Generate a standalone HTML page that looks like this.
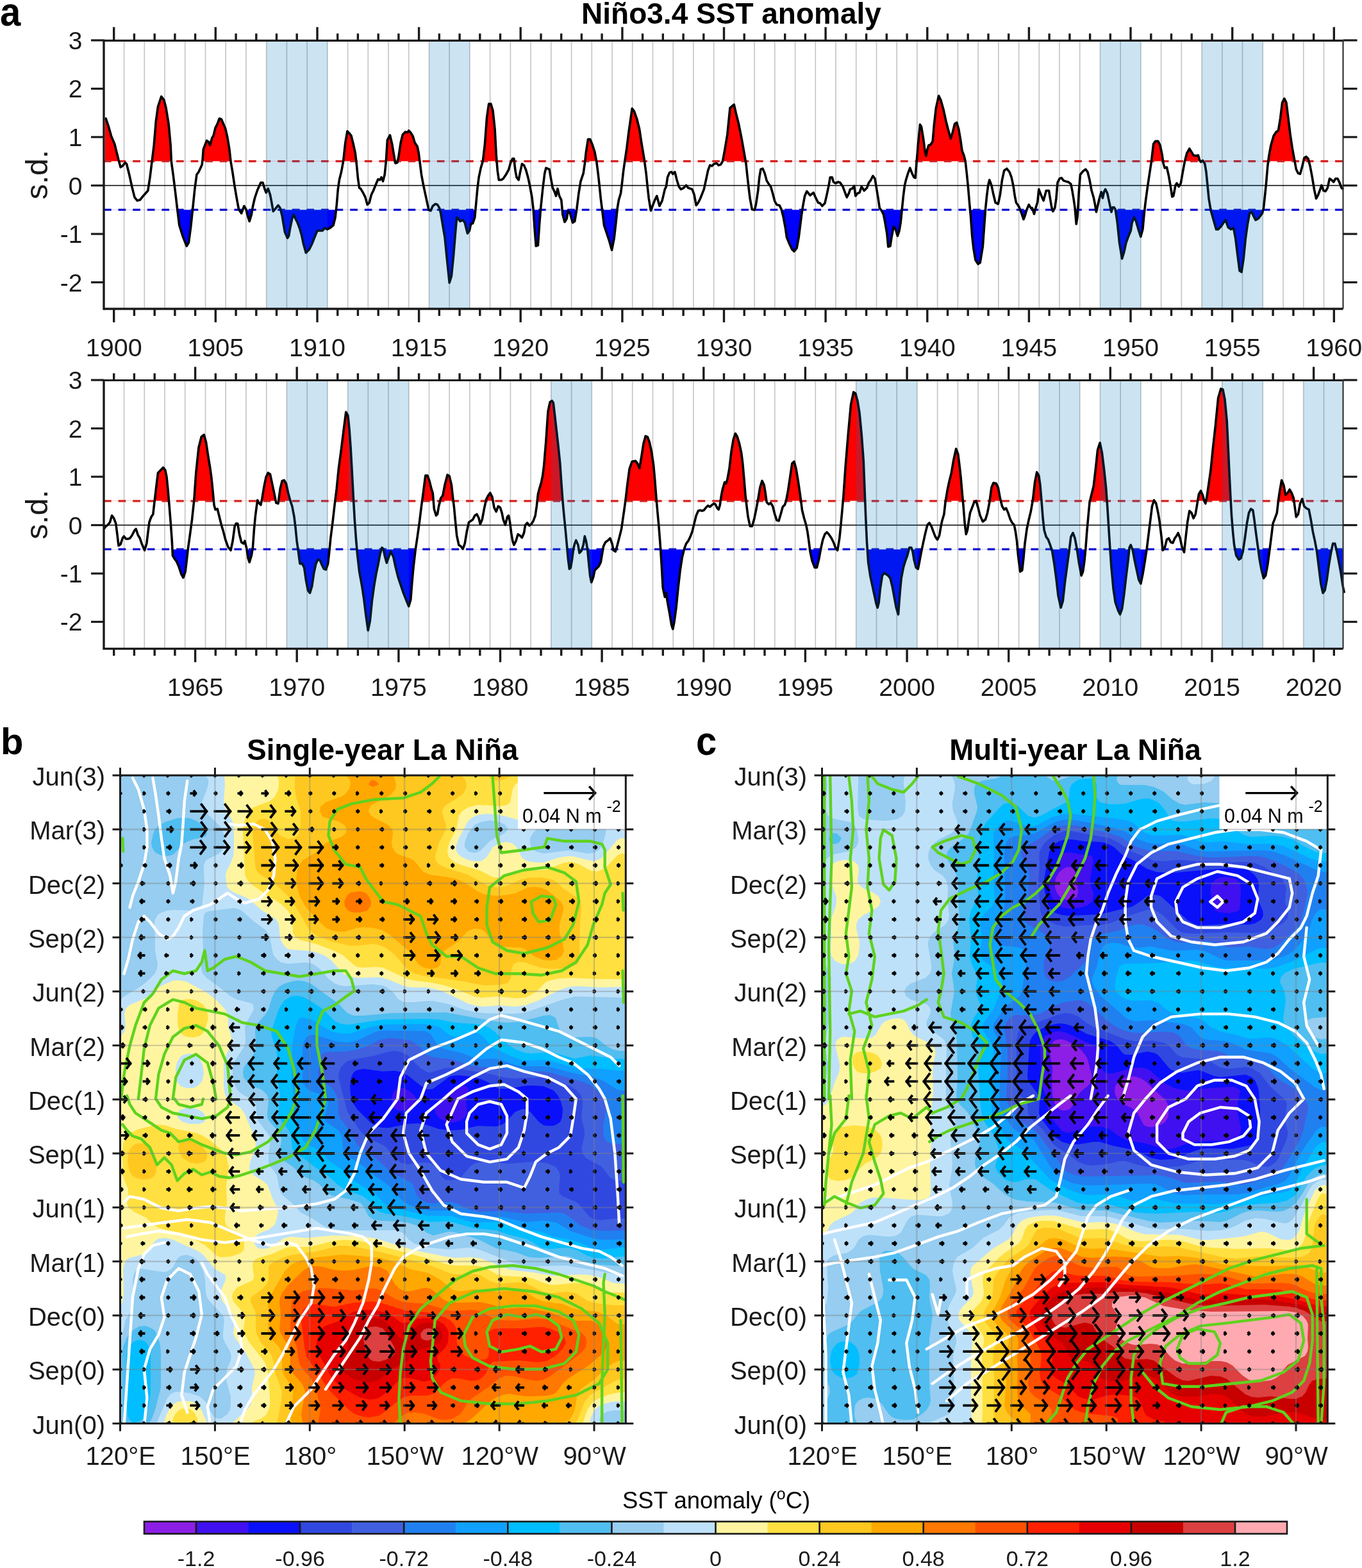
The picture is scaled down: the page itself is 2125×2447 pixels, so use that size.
<!DOCTYPE html><html><head><meta charset="utf-8"><style>html,body{margin:0;padding:0;background:#fff;}svg{display:block;}</style></head><body><svg xmlns="http://www.w3.org/2000/svg" width="2125" height="2447" viewBox="0 0 2125 2447" font-family="Liberation Sans, Arial, sans-serif" fill="#1a1a1a"><rect width="2125" height="2447" fill="#fff"/>
<rect x="162.0" y="63.3" width="1933.5" height="418.7" fill="#fff"/>
<line x1="193.6" y1="63.3" x2="193.6" y2="482" stroke="#c4c4c4" stroke-width="1.6" />
<line x1="225.3" y1="63.3" x2="225.3" y2="482" stroke="#c4c4c4" stroke-width="1.6" />
<line x1="257" y1="63.3" x2="257" y2="482" stroke="#c4c4c4" stroke-width="1.6" />
<line x1="288.7" y1="63.3" x2="288.7" y2="482" stroke="#c4c4c4" stroke-width="1.6" />
<line x1="320.5" y1="63.3" x2="320.5" y2="482" stroke="#c4c4c4" stroke-width="1.6" />
<line x1="352.2" y1="63.3" x2="352.2" y2="482" stroke="#c4c4c4" stroke-width="1.6" />
<line x1="383.9" y1="63.3" x2="383.9" y2="482" stroke="#c4c4c4" stroke-width="1.6" />
<line x1="415.7" y1="63.3" x2="415.7" y2="482" stroke="#c4c4c4" stroke-width="1.6" />
<line x1="447.4" y1="63.3" x2="447.4" y2="482" stroke="#c4c4c4" stroke-width="1.6" />
<line x1="479.1" y1="63.3" x2="479.1" y2="482" stroke="#c4c4c4" stroke-width="1.6" />
<line x1="510.8" y1="63.3" x2="510.8" y2="482" stroke="#c4c4c4" stroke-width="1.6" />
<line x1="542.6" y1="63.3" x2="542.6" y2="482" stroke="#c4c4c4" stroke-width="1.6" />
<line x1="574.3" y1="63.3" x2="574.3" y2="482" stroke="#c4c4c4" stroke-width="1.6" />
<line x1="606" y1="63.3" x2="606" y2="482" stroke="#c4c4c4" stroke-width="1.6" />
<line x1="637.7" y1="63.3" x2="637.7" y2="482" stroke="#c4c4c4" stroke-width="1.6" />
<line x1="669.5" y1="63.3" x2="669.5" y2="482" stroke="#c4c4c4" stroke-width="1.6" />
<line x1="701.2" y1="63.3" x2="701.2" y2="482" stroke="#c4c4c4" stroke-width="1.6" />
<line x1="732.9" y1="63.3" x2="732.9" y2="482" stroke="#c4c4c4" stroke-width="1.6" />
<line x1="764.6" y1="63.3" x2="764.6" y2="482" stroke="#c4c4c4" stroke-width="1.6" />
<line x1="796.4" y1="63.3" x2="796.4" y2="482" stroke="#c4c4c4" stroke-width="1.6" />
<line x1="828.1" y1="63.3" x2="828.1" y2="482" stroke="#c4c4c4" stroke-width="1.6" />
<line x1="859.8" y1="63.3" x2="859.8" y2="482" stroke="#c4c4c4" stroke-width="1.6" />
<line x1="891.6" y1="63.3" x2="891.6" y2="482" stroke="#c4c4c4" stroke-width="1.6" />
<line x1="923.3" y1="63.3" x2="923.3" y2="482" stroke="#c4c4c4" stroke-width="1.6" />
<line x1="955" y1="63.3" x2="955" y2="482" stroke="#c4c4c4" stroke-width="1.6" />
<line x1="986.7" y1="63.3" x2="986.7" y2="482" stroke="#c4c4c4" stroke-width="1.6" />
<line x1="1018.5" y1="63.3" x2="1018.5" y2="482" stroke="#c4c4c4" stroke-width="1.6" />
<line x1="1050.2" y1="63.3" x2="1050.2" y2="482" stroke="#c4c4c4" stroke-width="1.6" />
<line x1="1081.9" y1="63.3" x2="1081.9" y2="482" stroke="#c4c4c4" stroke-width="1.6" />
<line x1="1113.6" y1="63.3" x2="1113.6" y2="482" stroke="#c4c4c4" stroke-width="1.6" />
<line x1="1145.4" y1="63.3" x2="1145.4" y2="482" stroke="#c4c4c4" stroke-width="1.6" />
<line x1="1177.1" y1="63.3" x2="1177.1" y2="482" stroke="#c4c4c4" stroke-width="1.6" />
<line x1="1208.8" y1="63.3" x2="1208.8" y2="482" stroke="#c4c4c4" stroke-width="1.6" />
<line x1="1240.6" y1="63.3" x2="1240.6" y2="482" stroke="#c4c4c4" stroke-width="1.6" />
<line x1="1272.3" y1="63.3" x2="1272.3" y2="482" stroke="#c4c4c4" stroke-width="1.6" />
<line x1="1304" y1="63.3" x2="1304" y2="482" stroke="#c4c4c4" stroke-width="1.6" />
<line x1="1335.7" y1="63.3" x2="1335.7" y2="482" stroke="#c4c4c4" stroke-width="1.6" />
<line x1="1367.5" y1="63.3" x2="1367.5" y2="482" stroke="#c4c4c4" stroke-width="1.6" />
<line x1="1399.2" y1="63.3" x2="1399.2" y2="482" stroke="#c4c4c4" stroke-width="1.6" />
<line x1="1430.9" y1="63.3" x2="1430.9" y2="482" stroke="#c4c4c4" stroke-width="1.6" />
<line x1="1462.6" y1="63.3" x2="1462.6" y2="482" stroke="#c4c4c4" stroke-width="1.6" />
<line x1="1494.4" y1="63.3" x2="1494.4" y2="482" stroke="#c4c4c4" stroke-width="1.6" />
<line x1="1526.1" y1="63.3" x2="1526.1" y2="482" stroke="#c4c4c4" stroke-width="1.6" />
<line x1="1557.8" y1="63.3" x2="1557.8" y2="482" stroke="#c4c4c4" stroke-width="1.6" />
<line x1="1589.6" y1="63.3" x2="1589.6" y2="482" stroke="#c4c4c4" stroke-width="1.6" />
<line x1="1621.3" y1="63.3" x2="1621.3" y2="482" stroke="#c4c4c4" stroke-width="1.6" />
<line x1="1653" y1="63.3" x2="1653" y2="482" stroke="#c4c4c4" stroke-width="1.6" />
<line x1="1684.7" y1="63.3" x2="1684.7" y2="482" stroke="#c4c4c4" stroke-width="1.6" />
<line x1="1716.5" y1="63.3" x2="1716.5" y2="482" stroke="#c4c4c4" stroke-width="1.6" />
<line x1="1748.2" y1="63.3" x2="1748.2" y2="482" stroke="#c4c4c4" stroke-width="1.6" />
<line x1="1779.9" y1="63.3" x2="1779.9" y2="482" stroke="#c4c4c4" stroke-width="1.6" />
<line x1="1811.6" y1="63.3" x2="1811.6" y2="482" stroke="#c4c4c4" stroke-width="1.6" />
<line x1="1843.4" y1="63.3" x2="1843.4" y2="482" stroke="#c4c4c4" stroke-width="1.6" />
<line x1="1875.1" y1="63.3" x2="1875.1" y2="482" stroke="#c4c4c4" stroke-width="1.6" />
<line x1="1906.8" y1="63.3" x2="1906.8" y2="482" stroke="#c4c4c4" stroke-width="1.6" />
<line x1="1938.5" y1="63.3" x2="1938.5" y2="482" stroke="#c4c4c4" stroke-width="1.6" />
<line x1="1970.3" y1="63.3" x2="1970.3" y2="482" stroke="#c4c4c4" stroke-width="1.6" />
<line x1="2002" y1="63.3" x2="2002" y2="482" stroke="#c4c4c4" stroke-width="1.6" />
<line x1="2033.7" y1="63.3" x2="2033.7" y2="482" stroke="#c4c4c4" stroke-width="1.6" />
<line x1="2065.5" y1="63.3" x2="2065.5" y2="482" stroke="#c4c4c4" stroke-width="1.6" />
<clipPath id="crt"><rect x="162.0" y="63.3" width="1933.5" height="188.425"/></clipPath>
<clipPath id="cbt"><rect x="162.0" y="327.275" width="1933.5" height="154.72500000000002"/></clipPath>
<polygon clip-path="url(#crt)" fill="#ff0000" points="163.8,251.7 163.8,185 165.2,185 169.4,197.5 173.5,212.1 178.8,224.6 181.9,237.1 185,249.6 188.1,261 191.2,259 195.4,253.8 197.5,255.8 201.7,272.5 205.8,291.2 210,307.9 214.2,313.1 218.3,312.1 222.5,306.9 230.8,297.5 234,276.7 237.1,251.7 240.2,226.7 243.3,189.2 246.5,166.2 251.7,150.6 255.8,155.8 259,168.3 263.1,193.3 266.2,226.7 267.3,251.7 270.4,274.6 273.5,299.6 276.7,326.7 279.8,351.7 285,368.3 291.2,384 294.4,378.8 297.5,355.8 300.6,326.7 303.8,295.4 306.9,272.5 310,268.3 315.2,256.9 316.2,247.5 317.3,232.9 322.5,219.4 325.6,221.5 327.7,226.7 330.8,215.2 332.9,212.1 336,199.6 339.2,193.3 342.3,185 345.4,186 348.5,193.3 351.7,200.6 354.8,214.2 357.9,232.9 360,251.7 363.1,270.4 366.2,291.2 369.4,310 372.5,326.7 376.7,332.9 380.8,321.5 384,326.7 387.1,339.2 389.2,345.4 392.3,335 394.4,322.5 397.5,309 401.7,296.5 406.9,285 410,285 413.1,295.4 415.2,300.6 418.3,294.4 421.5,303.8 423.5,314.2 426.2,329.8 429.8,325.6 434,320.4 437.1,324.6 440.2,337.1 444.4,362.1 448.5,371.5 450.6,368.3 452.7,355.8 455.8,341.2 457.9,335 460,339.2 464.2,347.5 467.3,355.8 470.4,366.2 473.5,380.8 477.3,394.4 482.5,389.2 486.7,380.8 490.8,370.4 495,360 499.2,360 503.3,360 506.5,355.8 510.6,357.9 514.8,355.8 520,351.7 523.1,339.2 525.2,320.4 527.3,295.4 529.4,280.8 532.5,268.3 535.6,251.7 538.8,222.5 541.9,204.8 545,207.9 548.1,212.1 551.2,224.6 554.4,239.2 556.5,257.9 558.5,278.8 560.6,293.3 562.7,294.4 566.9,301.7 570,307.9 573.1,319.4 576.2,316.2 579.4,303.8 582.5,297.5 586.7,287.1 589.8,279.8 592.9,280.8 595,276.7 597.5,282.9 600.2,272.5 602.3,251.7 604.4,218.3 608.5,211 611.7,224.6 614.8,243.3 616.9,254.8 620,253.8 622.1,243.3 625.2,222.5 628.3,210 632.5,205.8 635.6,206.9 637.7,203.8 640.8,206.9 644,212.1 647.1,222.5 651.2,228.8 653.3,239.2 655.4,255.8 657.5,272.5 660.6,289.2 663.8,303.8 666.9,318.3 669,327.7 672.1,328.8 675.2,321.5 679.4,318.3 682.5,319.4 685.6,324.6 687.7,332.9 690.8,351.7 694,370.4 697.1,401.7 701.2,441.2 704.4,430.8 707.5,399.6 710.6,362.1 712.7,339.2 714.8,341.2 717.9,345.4 722.1,343.3 725.2,347.5 729.4,364.2 732.5,360 734.6,349.6 737.7,348.5 740.8,339.2 742.9,316.2 745,293.3 747.1,276.7 750.2,262.1 753.3,251.7 756.5,224.6 759.6,182.9 762.7,162.1 765.8,162.1 769,172.5 772.1,201.7 774.2,241.2 776.2,266.2 778.3,280.8 781.5,280.8 785.2,278.8 789.4,272.5 793.5,265.2 796.7,253.8 799.8,247.5 801.9,247.5 804,266.2 806,276.7 809.2,280.8 811.2,270.4 814.4,255.8 817.5,257.9 820.6,265.2 823.8,276.7 826.9,291.2 830,307.9 832.1,326.7 834.2,357.9 836.2,384 839.4,382.9 841.5,351.7 843.5,326.7 846.7,295.4 849.8,270.4 851.9,262.1 857.1,264.2 859.2,276.7 862.3,293.3 865.4,299.6 867.5,305.8 870,294.4 872.7,305.8 875.8,312.1 877.9,335 881,346.5 884.2,341.2 886.2,328.8 889.4,332.9 893.5,347.5 896.7,345.4 899.8,326.7 902.9,301.7 906,282.9 910.2,270.4 912.3,255.8 914.4,237.1 917.5,217.3 920.6,217.3 923.8,224.6 927.9,237.1 931,253.8 933.1,270.4 935.2,289.2 937.3,310 939.4,326.7 942.5,351.7 946.7,364.2 950.8,376.7 954.6,390.2 958.1,372.5 961.2,345.4 963.3,324.6 965.4,312.1 968.5,301.7 970.6,285 972.7,266.2 974.8,251.7 977.9,230.8 981,205.8 986.2,169.4 989.4,173.5 993.5,185 997.7,201.7 1000.8,222.5 1005,247.5 1008.1,270.4 1010.2,291.2 1012.3,310 1015.4,328.8 1018.5,320.4 1021.7,312.1 1024.8,305.8 1029,321.5 1033.1,313.1 1037.3,295.4 1039.4,291.2 1041.5,276.7 1044.6,269.4 1047.7,268.3 1049.8,271.5 1052.9,268.3 1056,280.8 1059.2,291.2 1062.3,295.4 1066.5,293.3 1070.6,289.2 1073.8,293.3 1080,295.4 1083.1,303.8 1086.2,320.4 1089.4,316.2 1092.5,310 1094.2,305.8 1098.3,295.4 1101.5,280.8 1104.6,266.2 1107.7,257.9 1110.8,259 1114,255.8 1118.1,254.8 1121.2,257.9 1124.4,256.9 1127.5,251.7 1130.6,235 1134.8,210 1139,168.3 1145.2,163.1 1148.3,176.7 1152.5,193.3 1156.7,214.2 1160.8,237.1 1164,255.8 1166,274.6 1168.1,293.3 1170.2,310 1173.3,326.7 1177.5,327.7 1179.6,318.3 1182.7,297.5 1184.8,276.7 1186.9,264.2 1190,263.1 1193.1,270.4 1196.2,281.9 1199.4,287.1 1202.5,291.2 1205.6,301.7 1208.8,314.2 1211.9,319.4 1216,320.4 1219.2,326.7 1222.3,339.2 1225.4,355.8 1227.5,370.4 1231.7,380.8 1235.8,389.2 1239,392.3 1243.1,387.1 1246.2,370.4 1248.3,353.8 1250.4,337.1 1252.5,322.5 1255.6,305.8 1258.8,298.5 1264,304.8 1269.2,300.6 1272.3,307.9 1276.5,316.2 1279.6,317.3 1282.7,321.5 1286.9,317.3 1290,303.8 1293.1,289.2 1295.2,276.7 1298.3,276.7 1300.4,284 1303.5,286 1307.7,284 1310.8,285 1315,291.2 1318.1,299.6 1321.2,307.9 1324.4,301.7 1326.5,295.4 1329.6,294.4 1332.7,290.2 1334.8,305.8 1337.9,301.7 1341,300.6 1344.2,291.2 1348.3,297.5 1352.5,293.3 1355.6,285 1358.8,280.8 1361.9,274.6 1365,278.8 1367.1,291.2 1370.2,310 1372.3,324.6 1375.4,328.8 1378.5,335 1380.6,345.4 1383.8,364.2 1385.8,385 1389,384 1391,370.4 1394.2,353.8 1397.3,357.9 1400.4,368.3 1403.1,360 1405.2,347.5 1407.3,326.7 1409.4,305.8 1411.5,289.2 1413.5,280.8 1416.7,270.4 1419.8,262.1 1422.9,270.4 1426,276.7 1428.1,277.7 1430.2,251.7 1432.3,226.7 1435.4,194.4 1437.5,197.5 1440.6,216.2 1442.7,232.9 1444.8,243.3 1446.9,232.9 1449,226.7 1452.1,225.6 1455.2,220.4 1457.3,195.4 1460.4,168.3 1464.6,149.6 1467.7,155.8 1471.9,170.4 1476,189.2 1479.2,201.7 1483.3,216.2 1486.5,205.8 1489.6,193.3 1492.7,191.2 1495.8,201.7 1499,220.4 1501,235 1504.2,243.3 1506.2,251.7 1508.3,270.4 1510.4,291.2 1512.5,316.2 1514.6,339.2 1516.7,368.3 1518.8,387.1 1521.9,405.8 1526,412.1 1529.2,410 1533.3,385 1535.4,355.8 1537.5,326.7 1539.6,305.8 1541.7,289.2 1543.8,280.8 1546.9,289.2 1550,303.8 1553.1,316.2 1557.3,318.3 1560.4,303.8 1563.5,280.8 1566.7,266.2 1570.8,263.1 1575,268.3 1578.1,276.7 1581.2,291.2 1583.3,305.8 1585.4,316.2 1588.5,320.4 1590.6,324.6 1593.8,332.9 1596.9,342.3 1599,337.1 1602.1,326.7 1605.2,319.4 1608.3,324.6 1610.4,324.6 1613.5,334 1615.6,325.6 1618.8,315.2 1620.8,295.4 1624,303.8 1628.1,313.1 1632.3,297.5 1636.5,297.5 1638.5,310 1640.6,322.5 1642.7,329.8 1645.8,324.6 1647.9,310 1650,285 1653.1,278.8 1656.2,277.7 1659.4,281.9 1662.5,282.9 1666.7,284 1670.8,287.1 1672.9,297.5 1675,310 1677.1,324.6 1679.2,349.6 1681.2,337.1 1683.3,299.6 1685.4,272.5 1689.6,267.3 1693.8,264.2 1696.9,268.3 1700,280.8 1703.1,297.5 1706.2,307.9 1708.3,318.3 1710.4,330.8 1715.2,310 1718.3,299.6 1720.4,309 1722.5,299.6 1724.6,295.4 1727.7,301.7 1730.8,316.2 1734,330.8 1736,323.5 1738.1,323.5 1740.2,326.7 1743.3,347.5 1746.5,378.8 1750.6,403.8 1753.8,393.3 1756.9,378.8 1760,370.4 1764.2,360 1766.2,347.5 1769.4,339.2 1772.5,345.4 1776.7,360 1779.8,369.4 1782.9,357.9 1785,335 1787.1,316.2 1790.2,293.3 1793.3,272.5 1796.5,251.7 1799.6,224.6 1802.7,220.4 1806.9,220.4 1810,226.7 1813.1,241.2 1815.2,255.8 1817.3,262.1 1820.4,261 1823.5,274.6 1826.7,293.3 1828.8,306.9 1830.8,305.8 1834,289.2 1836,286 1839.2,291.2 1842.3,286 1845.4,268.3 1848.5,251.7 1851.7,239.2 1855.8,231.9 1859,237.1 1862.1,242.3 1866.2,243.3 1869.4,242.3 1871.5,249.6 1873.5,252.7 1876.7,250.6 1879.8,255.8 1881.9,268.3 1884,289.2 1886,310 1889.2,328.8 1893.3,343.3 1897.5,357.9 1900.6,357.9 1904.8,353.8 1909,347.5 1912.1,343.3 1916.2,354.8 1920.4,357.9 1924.6,355.8 1927.7,372.5 1930.8,397.5 1934,422.5 1937.1,424.6 1940.2,403.8 1943.3,372.5 1946.5,349.6 1949.6,332.9 1952.7,330.8 1955.8,337.1 1959,343.3 1963.1,341.2 1966.2,337.1 1969.4,332.9 1971.5,324.6 1973.5,305.8 1975.6,285 1977.7,260 1979.8,243.3 1982.9,226.7 1987.1,212.1 1991.2,205.8 1994.4,203.8 1997.5,185 2000.6,160 2003.8,153.8 2006.9,160 2010,185 2013.1,210 2016.2,230.8 2022.3,264.2 2025.4,270.4 2028.5,271.5 2031.7,260 2034.8,246.5 2037.9,244.4 2041,247.5 2044.2,260 2047.3,276.7 2050.4,295.4 2053.5,310 2056.7,303.8 2059.8,295.4 2061.9,289.2 2065,297.5 2068.1,298.5 2071.2,293.3 2074.4,278.8 2077.5,280.8 2080.6,284 2083.8,278.8 2086.9,278.8 2090,285 2093.1,293.3 2096.2,295.4 2096.2,251.7"/>
<polygon clip-path="url(#cbt)" fill="#0000ff" points="163.8,327.3 163.8,185 165.2,185 169.4,197.5 173.5,212.1 178.8,224.6 181.9,237.1 185,249.6 188.1,261 191.2,259 195.4,253.8 197.5,255.8 201.7,272.5 205.8,291.2 210,307.9 214.2,313.1 218.3,312.1 222.5,306.9 230.8,297.5 234,276.7 237.1,251.7 240.2,226.7 243.3,189.2 246.5,166.2 251.7,150.6 255.8,155.8 259,168.3 263.1,193.3 266.2,226.7 267.3,251.7 270.4,274.6 273.5,299.6 276.7,326.7 279.8,351.7 285,368.3 291.2,384 294.4,378.8 297.5,355.8 300.6,326.7 303.8,295.4 306.9,272.5 310,268.3 315.2,256.9 316.2,247.5 317.3,232.9 322.5,219.4 325.6,221.5 327.7,226.7 330.8,215.2 332.9,212.1 336,199.6 339.2,193.3 342.3,185 345.4,186 348.5,193.3 351.7,200.6 354.8,214.2 357.9,232.9 360,251.7 363.1,270.4 366.2,291.2 369.4,310 372.5,326.7 376.7,332.9 380.8,321.5 384,326.7 387.1,339.2 389.2,345.4 392.3,335 394.4,322.5 397.5,309 401.7,296.5 406.9,285 410,285 413.1,295.4 415.2,300.6 418.3,294.4 421.5,303.8 423.5,314.2 426.2,329.8 429.8,325.6 434,320.4 437.1,324.6 440.2,337.1 444.4,362.1 448.5,371.5 450.6,368.3 452.7,355.8 455.8,341.2 457.9,335 460,339.2 464.2,347.5 467.3,355.8 470.4,366.2 473.5,380.8 477.3,394.4 482.5,389.2 486.7,380.8 490.8,370.4 495,360 499.2,360 503.3,360 506.5,355.8 510.6,357.9 514.8,355.8 520,351.7 523.1,339.2 525.2,320.4 527.3,295.4 529.4,280.8 532.5,268.3 535.6,251.7 538.8,222.5 541.9,204.8 545,207.9 548.1,212.1 551.2,224.6 554.4,239.2 556.5,257.9 558.5,278.8 560.6,293.3 562.7,294.4 566.9,301.7 570,307.9 573.1,319.4 576.2,316.2 579.4,303.8 582.5,297.5 586.7,287.1 589.8,279.8 592.9,280.8 595,276.7 597.5,282.9 600.2,272.5 602.3,251.7 604.4,218.3 608.5,211 611.7,224.6 614.8,243.3 616.9,254.8 620,253.8 622.1,243.3 625.2,222.5 628.3,210 632.5,205.8 635.6,206.9 637.7,203.8 640.8,206.9 644,212.1 647.1,222.5 651.2,228.8 653.3,239.2 655.4,255.8 657.5,272.5 660.6,289.2 663.8,303.8 666.9,318.3 669,327.7 672.1,328.8 675.2,321.5 679.4,318.3 682.5,319.4 685.6,324.6 687.7,332.9 690.8,351.7 694,370.4 697.1,401.7 701.2,441.2 704.4,430.8 707.5,399.6 710.6,362.1 712.7,339.2 714.8,341.2 717.9,345.4 722.1,343.3 725.2,347.5 729.4,364.2 732.5,360 734.6,349.6 737.7,348.5 740.8,339.2 742.9,316.2 745,293.3 747.1,276.7 750.2,262.1 753.3,251.7 756.5,224.6 759.6,182.9 762.7,162.1 765.8,162.1 769,172.5 772.1,201.7 774.2,241.2 776.2,266.2 778.3,280.8 781.5,280.8 785.2,278.8 789.4,272.5 793.5,265.2 796.7,253.8 799.8,247.5 801.9,247.5 804,266.2 806,276.7 809.2,280.8 811.2,270.4 814.4,255.8 817.5,257.9 820.6,265.2 823.8,276.7 826.9,291.2 830,307.9 832.1,326.7 834.2,357.9 836.2,384 839.4,382.9 841.5,351.7 843.5,326.7 846.7,295.4 849.8,270.4 851.9,262.1 857.1,264.2 859.2,276.7 862.3,293.3 865.4,299.6 867.5,305.8 870,294.4 872.7,305.8 875.8,312.1 877.9,335 881,346.5 884.2,341.2 886.2,328.8 889.4,332.9 893.5,347.5 896.7,345.4 899.8,326.7 902.9,301.7 906,282.9 910.2,270.4 912.3,255.8 914.4,237.1 917.5,217.3 920.6,217.3 923.8,224.6 927.9,237.1 931,253.8 933.1,270.4 935.2,289.2 937.3,310 939.4,326.7 942.5,351.7 946.7,364.2 950.8,376.7 954.6,390.2 958.1,372.5 961.2,345.4 963.3,324.6 965.4,312.1 968.5,301.7 970.6,285 972.7,266.2 974.8,251.7 977.9,230.8 981,205.8 986.2,169.4 989.4,173.5 993.5,185 997.7,201.7 1000.8,222.5 1005,247.5 1008.1,270.4 1010.2,291.2 1012.3,310 1015.4,328.8 1018.5,320.4 1021.7,312.1 1024.8,305.8 1029,321.5 1033.1,313.1 1037.3,295.4 1039.4,291.2 1041.5,276.7 1044.6,269.4 1047.7,268.3 1049.8,271.5 1052.9,268.3 1056,280.8 1059.2,291.2 1062.3,295.4 1066.5,293.3 1070.6,289.2 1073.8,293.3 1080,295.4 1083.1,303.8 1086.2,320.4 1089.4,316.2 1092.5,310 1094.2,305.8 1098.3,295.4 1101.5,280.8 1104.6,266.2 1107.7,257.9 1110.8,259 1114,255.8 1118.1,254.8 1121.2,257.9 1124.4,256.9 1127.5,251.7 1130.6,235 1134.8,210 1139,168.3 1145.2,163.1 1148.3,176.7 1152.5,193.3 1156.7,214.2 1160.8,237.1 1164,255.8 1166,274.6 1168.1,293.3 1170.2,310 1173.3,326.7 1177.5,327.7 1179.6,318.3 1182.7,297.5 1184.8,276.7 1186.9,264.2 1190,263.1 1193.1,270.4 1196.2,281.9 1199.4,287.1 1202.5,291.2 1205.6,301.7 1208.8,314.2 1211.9,319.4 1216,320.4 1219.2,326.7 1222.3,339.2 1225.4,355.8 1227.5,370.4 1231.7,380.8 1235.8,389.2 1239,392.3 1243.1,387.1 1246.2,370.4 1248.3,353.8 1250.4,337.1 1252.5,322.5 1255.6,305.8 1258.8,298.5 1264,304.8 1269.2,300.6 1272.3,307.9 1276.5,316.2 1279.6,317.3 1282.7,321.5 1286.9,317.3 1290,303.8 1293.1,289.2 1295.2,276.7 1298.3,276.7 1300.4,284 1303.5,286 1307.7,284 1310.8,285 1315,291.2 1318.1,299.6 1321.2,307.9 1324.4,301.7 1326.5,295.4 1329.6,294.4 1332.7,290.2 1334.8,305.8 1337.9,301.7 1341,300.6 1344.2,291.2 1348.3,297.5 1352.5,293.3 1355.6,285 1358.8,280.8 1361.9,274.6 1365,278.8 1367.1,291.2 1370.2,310 1372.3,324.6 1375.4,328.8 1378.5,335 1380.6,345.4 1383.8,364.2 1385.8,385 1389,384 1391,370.4 1394.2,353.8 1397.3,357.9 1400.4,368.3 1403.1,360 1405.2,347.5 1407.3,326.7 1409.4,305.8 1411.5,289.2 1413.5,280.8 1416.7,270.4 1419.8,262.1 1422.9,270.4 1426,276.7 1428.1,277.7 1430.2,251.7 1432.3,226.7 1435.4,194.4 1437.5,197.5 1440.6,216.2 1442.7,232.9 1444.8,243.3 1446.9,232.9 1449,226.7 1452.1,225.6 1455.2,220.4 1457.3,195.4 1460.4,168.3 1464.6,149.6 1467.7,155.8 1471.9,170.4 1476,189.2 1479.2,201.7 1483.3,216.2 1486.5,205.8 1489.6,193.3 1492.7,191.2 1495.8,201.7 1499,220.4 1501,235 1504.2,243.3 1506.2,251.7 1508.3,270.4 1510.4,291.2 1512.5,316.2 1514.6,339.2 1516.7,368.3 1518.8,387.1 1521.9,405.8 1526,412.1 1529.2,410 1533.3,385 1535.4,355.8 1537.5,326.7 1539.6,305.8 1541.7,289.2 1543.8,280.8 1546.9,289.2 1550,303.8 1553.1,316.2 1557.3,318.3 1560.4,303.8 1563.5,280.8 1566.7,266.2 1570.8,263.1 1575,268.3 1578.1,276.7 1581.2,291.2 1583.3,305.8 1585.4,316.2 1588.5,320.4 1590.6,324.6 1593.8,332.9 1596.9,342.3 1599,337.1 1602.1,326.7 1605.2,319.4 1608.3,324.6 1610.4,324.6 1613.5,334 1615.6,325.6 1618.8,315.2 1620.8,295.4 1624,303.8 1628.1,313.1 1632.3,297.5 1636.5,297.5 1638.5,310 1640.6,322.5 1642.7,329.8 1645.8,324.6 1647.9,310 1650,285 1653.1,278.8 1656.2,277.7 1659.4,281.9 1662.5,282.9 1666.7,284 1670.8,287.1 1672.9,297.5 1675,310 1677.1,324.6 1679.2,349.6 1681.2,337.1 1683.3,299.6 1685.4,272.5 1689.6,267.3 1693.8,264.2 1696.9,268.3 1700,280.8 1703.1,297.5 1706.2,307.9 1708.3,318.3 1710.4,330.8 1715.2,310 1718.3,299.6 1720.4,309 1722.5,299.6 1724.6,295.4 1727.7,301.7 1730.8,316.2 1734,330.8 1736,323.5 1738.1,323.5 1740.2,326.7 1743.3,347.5 1746.5,378.8 1750.6,403.8 1753.8,393.3 1756.9,378.8 1760,370.4 1764.2,360 1766.2,347.5 1769.4,339.2 1772.5,345.4 1776.7,360 1779.8,369.4 1782.9,357.9 1785,335 1787.1,316.2 1790.2,293.3 1793.3,272.5 1796.5,251.7 1799.6,224.6 1802.7,220.4 1806.9,220.4 1810,226.7 1813.1,241.2 1815.2,255.8 1817.3,262.1 1820.4,261 1823.5,274.6 1826.7,293.3 1828.8,306.9 1830.8,305.8 1834,289.2 1836,286 1839.2,291.2 1842.3,286 1845.4,268.3 1848.5,251.7 1851.7,239.2 1855.8,231.9 1859,237.1 1862.1,242.3 1866.2,243.3 1869.4,242.3 1871.5,249.6 1873.5,252.7 1876.7,250.6 1879.8,255.8 1881.9,268.3 1884,289.2 1886,310 1889.2,328.8 1893.3,343.3 1897.5,357.9 1900.6,357.9 1904.8,353.8 1909,347.5 1912.1,343.3 1916.2,354.8 1920.4,357.9 1924.6,355.8 1927.7,372.5 1930.8,397.5 1934,422.5 1937.1,424.6 1940.2,403.8 1943.3,372.5 1946.5,349.6 1949.6,332.9 1952.7,330.8 1955.8,337.1 1959,343.3 1963.1,341.2 1966.2,337.1 1969.4,332.9 1971.5,324.6 1973.5,305.8 1975.6,285 1977.7,260 1979.8,243.3 1982.9,226.7 1987.1,212.1 1991.2,205.8 1994.4,203.8 1997.5,185 2000.6,160 2003.8,153.8 2006.9,160 2010,185 2013.1,210 2016.2,230.8 2022.3,264.2 2025.4,270.4 2028.5,271.5 2031.7,260 2034.8,246.5 2037.9,244.4 2041,247.5 2044.2,260 2047.3,276.7 2050.4,295.4 2053.5,310 2056.7,303.8 2059.8,295.4 2061.9,289.2 2065,297.5 2068.1,298.5 2071.2,293.3 2074.4,278.8 2077.5,280.8 2080.6,284 2083.8,278.8 2086.9,278.8 2090,285 2093.1,293.3 2096.2,295.4 2096.2,327.3"/>
<line x1="162" y1="289.5" x2="2095.5" y2="289.5" stroke="#000" stroke-width="1.6" />
<line x1="162" y1="251.7" x2="2095.5" y2="251.7" stroke="#d42020" stroke-width="3.3" stroke-dasharray="11.7 10.9"/>
<line x1="162" y1="327.3" x2="2095.5" y2="327.3" stroke="#1010d0" stroke-width="3.3" stroke-dasharray="11.7 10.9"/>
<polyline fill="none" stroke="#000" stroke-width="3.6" stroke-linejoin="round" points="163.8,185 165.2,185 169.4,197.5 173.5,212.1 178.8,224.6 181.9,237.1 185,249.6 188.1,261 191.2,259 195.4,253.8 197.5,255.8 201.7,272.5 205.8,291.2 210,307.9 214.2,313.1 218.3,312.1 222.5,306.9 230.8,297.5 234,276.7 237.1,251.7 240.2,226.7 243.3,189.2 246.5,166.2 251.7,150.6 255.8,155.8 259,168.3 263.1,193.3 266.2,226.7 267.3,251.7 270.4,274.6 273.5,299.6 276.7,326.7 279.8,351.7 285,368.3 291.2,384 294.4,378.8 297.5,355.8 300.6,326.7 303.8,295.4 306.9,272.5 310,268.3 315.2,256.9 316.2,247.5 317.3,232.9 322.5,219.4 325.6,221.5 327.7,226.7 330.8,215.2 332.9,212.1 336,199.6 339.2,193.3 342.3,185 345.4,186 348.5,193.3 351.7,200.6 354.8,214.2 357.9,232.9 360,251.7 363.1,270.4 366.2,291.2 369.4,310 372.5,326.7 376.7,332.9 380.8,321.5 384,326.7 387.1,339.2 389.2,345.4 392.3,335 394.4,322.5 397.5,309 401.7,296.5 406.9,285 410,285 413.1,295.4 415.2,300.6 418.3,294.4 421.5,303.8 423.5,314.2 426.2,329.8 429.8,325.6 434,320.4 437.1,324.6 440.2,337.1 444.4,362.1 448.5,371.5 450.6,368.3 452.7,355.8 455.8,341.2 457.9,335 460,339.2 464.2,347.5 467.3,355.8 470.4,366.2 473.5,380.8 477.3,394.4 482.5,389.2 486.7,380.8 490.8,370.4 495,360 499.2,360 503.3,360 506.5,355.8 510.6,357.9 514.8,355.8 520,351.7 523.1,339.2 525.2,320.4 527.3,295.4 529.4,280.8 532.5,268.3 535.6,251.7 538.8,222.5 541.9,204.8 545,207.9 548.1,212.1 551.2,224.6 554.4,239.2 556.5,257.9 558.5,278.8 560.6,293.3 562.7,294.4 566.9,301.7 570,307.9 573.1,319.4 576.2,316.2 579.4,303.8 582.5,297.5 586.7,287.1 589.8,279.8 592.9,280.8 595,276.7 597.5,282.9 600.2,272.5 602.3,251.7 604.4,218.3 608.5,211 611.7,224.6 614.8,243.3 616.9,254.8 620,253.8 622.1,243.3 625.2,222.5 628.3,210 632.5,205.8 635.6,206.9 637.7,203.8 640.8,206.9 644,212.1 647.1,222.5 651.2,228.8 653.3,239.2 655.4,255.8 657.5,272.5 660.6,289.2 663.8,303.8 666.9,318.3 669,327.7 672.1,328.8 675.2,321.5 679.4,318.3 682.5,319.4 685.6,324.6 687.7,332.9 690.8,351.7 694,370.4 697.1,401.7 701.2,441.2 704.4,430.8 707.5,399.6 710.6,362.1 712.7,339.2 714.8,341.2 717.9,345.4 722.1,343.3 725.2,347.5 729.4,364.2 732.5,360 734.6,349.6 737.7,348.5 740.8,339.2 742.9,316.2 745,293.3 747.1,276.7 750.2,262.1 753.3,251.7 756.5,224.6 759.6,182.9 762.7,162.1 765.8,162.1 769,172.5 772.1,201.7 774.2,241.2 776.2,266.2 778.3,280.8 781.5,280.8 785.2,278.8 789.4,272.5 793.5,265.2 796.7,253.8 799.8,247.5 801.9,247.5 804,266.2 806,276.7 809.2,280.8 811.2,270.4 814.4,255.8 817.5,257.9 820.6,265.2 823.8,276.7 826.9,291.2 830,307.9 832.1,326.7 834.2,357.9 836.2,384 839.4,382.9 841.5,351.7 843.5,326.7 846.7,295.4 849.8,270.4 851.9,262.1 857.1,264.2 859.2,276.7 862.3,293.3 865.4,299.6 867.5,305.8 870,294.4 872.7,305.8 875.8,312.1 877.9,335 881,346.5 884.2,341.2 886.2,328.8 889.4,332.9 893.5,347.5 896.7,345.4 899.8,326.7 902.9,301.7 906,282.9 910.2,270.4 912.3,255.8 914.4,237.1 917.5,217.3 920.6,217.3 923.8,224.6 927.9,237.1 931,253.8 933.1,270.4 935.2,289.2 937.3,310 939.4,326.7 942.5,351.7 946.7,364.2 950.8,376.7 954.6,390.2 958.1,372.5 961.2,345.4 963.3,324.6 965.4,312.1 968.5,301.7 970.6,285 972.7,266.2 974.8,251.7 977.9,230.8 981,205.8 986.2,169.4 989.4,173.5 993.5,185 997.7,201.7 1000.8,222.5 1005,247.5 1008.1,270.4 1010.2,291.2 1012.3,310 1015.4,328.8 1018.5,320.4 1021.7,312.1 1024.8,305.8 1029,321.5 1033.1,313.1 1037.3,295.4 1039.4,291.2 1041.5,276.7 1044.6,269.4 1047.7,268.3 1049.8,271.5 1052.9,268.3 1056,280.8 1059.2,291.2 1062.3,295.4 1066.5,293.3 1070.6,289.2 1073.8,293.3 1080,295.4 1083.1,303.8 1086.2,320.4 1089.4,316.2 1092.5,310 1094.2,305.8 1098.3,295.4 1101.5,280.8 1104.6,266.2 1107.7,257.9 1110.8,259 1114,255.8 1118.1,254.8 1121.2,257.9 1124.4,256.9 1127.5,251.7 1130.6,235 1134.8,210 1139,168.3 1145.2,163.1 1148.3,176.7 1152.5,193.3 1156.7,214.2 1160.8,237.1 1164,255.8 1166,274.6 1168.1,293.3 1170.2,310 1173.3,326.7 1177.5,327.7 1179.6,318.3 1182.7,297.5 1184.8,276.7 1186.9,264.2 1190,263.1 1193.1,270.4 1196.2,281.9 1199.4,287.1 1202.5,291.2 1205.6,301.7 1208.8,314.2 1211.9,319.4 1216,320.4 1219.2,326.7 1222.3,339.2 1225.4,355.8 1227.5,370.4 1231.7,380.8 1235.8,389.2 1239,392.3 1243.1,387.1 1246.2,370.4 1248.3,353.8 1250.4,337.1 1252.5,322.5 1255.6,305.8 1258.8,298.5 1264,304.8 1269.2,300.6 1272.3,307.9 1276.5,316.2 1279.6,317.3 1282.7,321.5 1286.9,317.3 1290,303.8 1293.1,289.2 1295.2,276.7 1298.3,276.7 1300.4,284 1303.5,286 1307.7,284 1310.8,285 1315,291.2 1318.1,299.6 1321.2,307.9 1324.4,301.7 1326.5,295.4 1329.6,294.4 1332.7,290.2 1334.8,305.8 1337.9,301.7 1341,300.6 1344.2,291.2 1348.3,297.5 1352.5,293.3 1355.6,285 1358.8,280.8 1361.9,274.6 1365,278.8 1367.1,291.2 1370.2,310 1372.3,324.6 1375.4,328.8 1378.5,335 1380.6,345.4 1383.8,364.2 1385.8,385 1389,384 1391,370.4 1394.2,353.8 1397.3,357.9 1400.4,368.3 1403.1,360 1405.2,347.5 1407.3,326.7 1409.4,305.8 1411.5,289.2 1413.5,280.8 1416.7,270.4 1419.8,262.1 1422.9,270.4 1426,276.7 1428.1,277.7 1430.2,251.7 1432.3,226.7 1435.4,194.4 1437.5,197.5 1440.6,216.2 1442.7,232.9 1444.8,243.3 1446.9,232.9 1449,226.7 1452.1,225.6 1455.2,220.4 1457.3,195.4 1460.4,168.3 1464.6,149.6 1467.7,155.8 1471.9,170.4 1476,189.2 1479.2,201.7 1483.3,216.2 1486.5,205.8 1489.6,193.3 1492.7,191.2 1495.8,201.7 1499,220.4 1501,235 1504.2,243.3 1506.2,251.7 1508.3,270.4 1510.4,291.2 1512.5,316.2 1514.6,339.2 1516.7,368.3 1518.8,387.1 1521.9,405.8 1526,412.1 1529.2,410 1533.3,385 1535.4,355.8 1537.5,326.7 1539.6,305.8 1541.7,289.2 1543.8,280.8 1546.9,289.2 1550,303.8 1553.1,316.2 1557.3,318.3 1560.4,303.8 1563.5,280.8 1566.7,266.2 1570.8,263.1 1575,268.3 1578.1,276.7 1581.2,291.2 1583.3,305.8 1585.4,316.2 1588.5,320.4 1590.6,324.6 1593.8,332.9 1596.9,342.3 1599,337.1 1602.1,326.7 1605.2,319.4 1608.3,324.6 1610.4,324.6 1613.5,334 1615.6,325.6 1618.8,315.2 1620.8,295.4 1624,303.8 1628.1,313.1 1632.3,297.5 1636.5,297.5 1638.5,310 1640.6,322.5 1642.7,329.8 1645.8,324.6 1647.9,310 1650,285 1653.1,278.8 1656.2,277.7 1659.4,281.9 1662.5,282.9 1666.7,284 1670.8,287.1 1672.9,297.5 1675,310 1677.1,324.6 1679.2,349.6 1681.2,337.1 1683.3,299.6 1685.4,272.5 1689.6,267.3 1693.8,264.2 1696.9,268.3 1700,280.8 1703.1,297.5 1706.2,307.9 1708.3,318.3 1710.4,330.8 1715.2,310 1718.3,299.6 1720.4,309 1722.5,299.6 1724.6,295.4 1727.7,301.7 1730.8,316.2 1734,330.8 1736,323.5 1738.1,323.5 1740.2,326.7 1743.3,347.5 1746.5,378.8 1750.6,403.8 1753.8,393.3 1756.9,378.8 1760,370.4 1764.2,360 1766.2,347.5 1769.4,339.2 1772.5,345.4 1776.7,360 1779.8,369.4 1782.9,357.9 1785,335 1787.1,316.2 1790.2,293.3 1793.3,272.5 1796.5,251.7 1799.6,224.6 1802.7,220.4 1806.9,220.4 1810,226.7 1813.1,241.2 1815.2,255.8 1817.3,262.1 1820.4,261 1823.5,274.6 1826.7,293.3 1828.8,306.9 1830.8,305.8 1834,289.2 1836,286 1839.2,291.2 1842.3,286 1845.4,268.3 1848.5,251.7 1851.7,239.2 1855.8,231.9 1859,237.1 1862.1,242.3 1866.2,243.3 1869.4,242.3 1871.5,249.6 1873.5,252.7 1876.7,250.6 1879.8,255.8 1881.9,268.3 1884,289.2 1886,310 1889.2,328.8 1893.3,343.3 1897.5,357.9 1900.6,357.9 1904.8,353.8 1909,347.5 1912.1,343.3 1916.2,354.8 1920.4,357.9 1924.6,355.8 1927.7,372.5 1930.8,397.5 1934,422.5 1937.1,424.6 1940.2,403.8 1943.3,372.5 1946.5,349.6 1949.6,332.9 1952.7,330.8 1955.8,337.1 1959,343.3 1963.1,341.2 1966.2,337.1 1969.4,332.9 1971.5,324.6 1973.5,305.8 1975.6,285 1977.7,260 1979.8,243.3 1982.9,226.7 1987.1,212.1 1991.2,205.8 1994.4,203.8 1997.5,185 2000.6,160 2003.8,153.8 2006.9,160 2010,185 2013.1,210 2016.2,230.8 2022.3,264.2 2025.4,270.4 2028.5,271.5 2031.7,260 2034.8,246.5 2037.9,244.4 2041,247.5 2044.2,260 2047.3,276.7 2050.4,295.4 2053.5,310 2056.7,303.8 2059.8,295.4 2061.9,289.2 2065,297.5 2068.1,298.5 2071.2,293.3 2074.4,278.8 2077.5,280.8 2080.6,284 2083.8,278.8 2086.9,278.8 2090,285 2093.1,293.3 2096.2,295.4"/>
<rect x="415.7" y="63.3" width="95.2" height="418.7" fill="#0072BD" fill-opacity="0.2"/>
<rect x="669.5" y="63.3" width="63.5" height="418.7" fill="#0072BD" fill-opacity="0.2"/>
<rect x="1716.5" y="63.3" width="63.5" height="418.7" fill="#0072BD" fill-opacity="0.2"/>
<rect x="1875.1" y="63.3" width="95.2" height="418.7" fill="#0072BD" fill-opacity="0.2"/>
<line x1="162" y1="63.3" x2="2095.5" y2="63.3" stroke="#1a1a1a" stroke-width="3.2" />
<line x1="162" y1="482" x2="2095.5" y2="482" stroke="#1a1a1a" stroke-width="3.4" />
<line x1="162" y1="61.7" x2="162" y2="483.7" stroke="#1a1a1a" stroke-width="3.4" />
<line x1="2095.5" y1="63.3" x2="2095.5" y2="482" stroke="#333" stroke-width="2.2" />
<line x1="142" y1="440.6" x2="162" y2="440.6" stroke="#1a1a1a" stroke-width="3.2" />
<line x1="2095.5" y1="440.6" x2="2117.5" y2="440.6" stroke="#1a1a1a" stroke-width="3.2" />
<text x="128.5" y="454.6" font-size="39" text-anchor="end" font-weight="normal" >-2</text>
<line x1="142" y1="365.1" x2="162" y2="365.1" stroke="#1a1a1a" stroke-width="3.2" />
<line x1="2095.5" y1="365.1" x2="2117.5" y2="365.1" stroke="#1a1a1a" stroke-width="3.2" />
<text x="128.5" y="379.1" font-size="39" text-anchor="end" font-weight="normal" >-1</text>
<line x1="142" y1="289.5" x2="162" y2="289.5" stroke="#1a1a1a" stroke-width="3.2" />
<line x1="2095.5" y1="289.5" x2="2117.5" y2="289.5" stroke="#1a1a1a" stroke-width="3.2" />
<text x="128.5" y="303.5" font-size="39" text-anchor="end" font-weight="normal" >0</text>
<line x1="142" y1="213.9" x2="162" y2="213.9" stroke="#1a1a1a" stroke-width="3.2" />
<line x1="2095.5" y1="213.9" x2="2117.5" y2="213.9" stroke="#1a1a1a" stroke-width="3.2" />
<text x="128.5" y="227.9" font-size="39" text-anchor="end" font-weight="normal" >1</text>
<line x1="142" y1="138.4" x2="162" y2="138.4" stroke="#1a1a1a" stroke-width="3.2" />
<line x1="2095.5" y1="138.4" x2="2117.5" y2="138.4" stroke="#1a1a1a" stroke-width="3.2" />
<text x="128.5" y="152.4" font-size="39" text-anchor="end" font-weight="normal" >2</text>
<line x1="142" y1="62.9" x2="162" y2="62.9" stroke="#1a1a1a" stroke-width="3.2" />
<line x1="2095.5" y1="62.9" x2="2117.5" y2="62.9" stroke="#1a1a1a" stroke-width="3.2" />
<text x="128.5" y="76.9" font-size="39" text-anchor="end" font-weight="normal" >3</text>
<line x1="177.7" y1="42.3" x2="177.7" y2="63.3" stroke="#1a1a1a" stroke-width="3.4" />
<line x1="177.7" y1="482" x2="177.7" y2="503" stroke="#1a1a1a" stroke-width="3.4" />
<text x="177.7" y="556" font-size="39.5" text-anchor="middle" font-weight="normal" >1900</text>
<line x1="209.4" y1="52.3" x2="209.4" y2="63.3" stroke="#1a1a1a" stroke-width="3.4" />
<line x1="209.4" y1="482" x2="209.4" y2="493" stroke="#1a1a1a" stroke-width="3.4" />
<line x1="241.2" y1="52.3" x2="241.2" y2="63.3" stroke="#1a1a1a" stroke-width="3.4" />
<line x1="241.2" y1="482" x2="241.2" y2="493" stroke="#1a1a1a" stroke-width="3.4" />
<line x1="272.9" y1="52.3" x2="272.9" y2="63.3" stroke="#1a1a1a" stroke-width="3.4" />
<line x1="272.9" y1="482" x2="272.9" y2="493" stroke="#1a1a1a" stroke-width="3.4" />
<line x1="304.6" y1="52.3" x2="304.6" y2="63.3" stroke="#1a1a1a" stroke-width="3.4" />
<line x1="304.6" y1="482" x2="304.6" y2="493" stroke="#1a1a1a" stroke-width="3.4" />
<line x1="336.3" y1="42.3" x2="336.3" y2="63.3" stroke="#1a1a1a" stroke-width="3.4" />
<line x1="336.3" y1="482" x2="336.3" y2="503" stroke="#1a1a1a" stroke-width="3.4" />
<text x="336.3" y="556" font-size="39.5" text-anchor="middle" font-weight="normal" >1905</text>
<line x1="368.1" y1="52.3" x2="368.1" y2="63.3" stroke="#1a1a1a" stroke-width="3.4" />
<line x1="368.1" y1="482" x2="368.1" y2="493" stroke="#1a1a1a" stroke-width="3.4" />
<line x1="399.8" y1="52.3" x2="399.8" y2="63.3" stroke="#1a1a1a" stroke-width="3.4" />
<line x1="399.8" y1="482" x2="399.8" y2="493" stroke="#1a1a1a" stroke-width="3.4" />
<line x1="431.5" y1="52.3" x2="431.5" y2="63.3" stroke="#1a1a1a" stroke-width="3.4" />
<line x1="431.5" y1="482" x2="431.5" y2="493" stroke="#1a1a1a" stroke-width="3.4" />
<line x1="463.2" y1="52.3" x2="463.2" y2="63.3" stroke="#1a1a1a" stroke-width="3.4" />
<line x1="463.2" y1="482" x2="463.2" y2="493" stroke="#1a1a1a" stroke-width="3.4" />
<line x1="495" y1="42.3" x2="495" y2="63.3" stroke="#1a1a1a" stroke-width="3.4" />
<line x1="495" y1="482" x2="495" y2="503" stroke="#1a1a1a" stroke-width="3.4" />
<text x="495" y="556" font-size="39.5" text-anchor="middle" font-weight="normal" >1910</text>
<line x1="526.7" y1="52.3" x2="526.7" y2="63.3" stroke="#1a1a1a" stroke-width="3.4" />
<line x1="526.7" y1="482" x2="526.7" y2="493" stroke="#1a1a1a" stroke-width="3.4" />
<line x1="558.4" y1="52.3" x2="558.4" y2="63.3" stroke="#1a1a1a" stroke-width="3.4" />
<line x1="558.4" y1="482" x2="558.4" y2="493" stroke="#1a1a1a" stroke-width="3.4" />
<line x1="590.2" y1="52.3" x2="590.2" y2="63.3" stroke="#1a1a1a" stroke-width="3.4" />
<line x1="590.2" y1="482" x2="590.2" y2="493" stroke="#1a1a1a" stroke-width="3.4" />
<line x1="621.9" y1="52.3" x2="621.9" y2="63.3" stroke="#1a1a1a" stroke-width="3.4" />
<line x1="621.9" y1="482" x2="621.9" y2="493" stroke="#1a1a1a" stroke-width="3.4" />
<line x1="653.6" y1="42.3" x2="653.6" y2="63.3" stroke="#1a1a1a" stroke-width="3.4" />
<line x1="653.6" y1="482" x2="653.6" y2="503" stroke="#1a1a1a" stroke-width="3.4" />
<text x="653.6" y="556" font-size="39.5" text-anchor="middle" font-weight="normal" >1915</text>
<line x1="685.3" y1="52.3" x2="685.3" y2="63.3" stroke="#1a1a1a" stroke-width="3.4" />
<line x1="685.3" y1="482" x2="685.3" y2="493" stroke="#1a1a1a" stroke-width="3.4" />
<line x1="717.1" y1="52.3" x2="717.1" y2="63.3" stroke="#1a1a1a" stroke-width="3.4" />
<line x1="717.1" y1="482" x2="717.1" y2="493" stroke="#1a1a1a" stroke-width="3.4" />
<line x1="748.8" y1="52.3" x2="748.8" y2="63.3" stroke="#1a1a1a" stroke-width="3.4" />
<line x1="748.8" y1="482" x2="748.8" y2="493" stroke="#1a1a1a" stroke-width="3.4" />
<line x1="780.5" y1="52.3" x2="780.5" y2="63.3" stroke="#1a1a1a" stroke-width="3.4" />
<line x1="780.5" y1="482" x2="780.5" y2="493" stroke="#1a1a1a" stroke-width="3.4" />
<line x1="812.2" y1="42.3" x2="812.2" y2="63.3" stroke="#1a1a1a" stroke-width="3.4" />
<line x1="812.2" y1="482" x2="812.2" y2="503" stroke="#1a1a1a" stroke-width="3.4" />
<text x="812.2" y="556" font-size="39.5" text-anchor="middle" font-weight="normal" >1920</text>
<line x1="844" y1="52.3" x2="844" y2="63.3" stroke="#1a1a1a" stroke-width="3.4" />
<line x1="844" y1="482" x2="844" y2="493" stroke="#1a1a1a" stroke-width="3.4" />
<line x1="875.7" y1="52.3" x2="875.7" y2="63.3" stroke="#1a1a1a" stroke-width="3.4" />
<line x1="875.7" y1="482" x2="875.7" y2="493" stroke="#1a1a1a" stroke-width="3.4" />
<line x1="907.4" y1="52.3" x2="907.4" y2="63.3" stroke="#1a1a1a" stroke-width="3.4" />
<line x1="907.4" y1="482" x2="907.4" y2="493" stroke="#1a1a1a" stroke-width="3.4" />
<line x1="939.1" y1="52.3" x2="939.1" y2="63.3" stroke="#1a1a1a" stroke-width="3.4" />
<line x1="939.1" y1="482" x2="939.1" y2="493" stroke="#1a1a1a" stroke-width="3.4" />
<line x1="970.9" y1="42.3" x2="970.9" y2="63.3" stroke="#1a1a1a" stroke-width="3.4" />
<line x1="970.9" y1="482" x2="970.9" y2="503" stroke="#1a1a1a" stroke-width="3.4" />
<text x="970.9" y="556" font-size="39.5" text-anchor="middle" font-weight="normal" >1925</text>
<line x1="1002.6" y1="52.3" x2="1002.6" y2="63.3" stroke="#1a1a1a" stroke-width="3.4" />
<line x1="1002.6" y1="482" x2="1002.6" y2="493" stroke="#1a1a1a" stroke-width="3.4" />
<line x1="1034.3" y1="52.3" x2="1034.3" y2="63.3" stroke="#1a1a1a" stroke-width="3.4" />
<line x1="1034.3" y1="482" x2="1034.3" y2="493" stroke="#1a1a1a" stroke-width="3.4" />
<line x1="1066.1" y1="52.3" x2="1066.1" y2="63.3" stroke="#1a1a1a" stroke-width="3.4" />
<line x1="1066.1" y1="482" x2="1066.1" y2="493" stroke="#1a1a1a" stroke-width="3.4" />
<line x1="1097.8" y1="52.3" x2="1097.8" y2="63.3" stroke="#1a1a1a" stroke-width="3.4" />
<line x1="1097.8" y1="482" x2="1097.8" y2="493" stroke="#1a1a1a" stroke-width="3.4" />
<line x1="1129.5" y1="42.3" x2="1129.5" y2="63.3" stroke="#1a1a1a" stroke-width="3.4" />
<line x1="1129.5" y1="482" x2="1129.5" y2="503" stroke="#1a1a1a" stroke-width="3.4" />
<text x="1129.5" y="556" font-size="39.5" text-anchor="middle" font-weight="normal" >1930</text>
<line x1="1161.2" y1="52.3" x2="1161.2" y2="63.3" stroke="#1a1a1a" stroke-width="3.4" />
<line x1="1161.2" y1="482" x2="1161.2" y2="493" stroke="#1a1a1a" stroke-width="3.4" />
<line x1="1193" y1="52.3" x2="1193" y2="63.3" stroke="#1a1a1a" stroke-width="3.4" />
<line x1="1193" y1="482" x2="1193" y2="493" stroke="#1a1a1a" stroke-width="3.4" />
<line x1="1224.7" y1="52.3" x2="1224.7" y2="63.3" stroke="#1a1a1a" stroke-width="3.4" />
<line x1="1224.7" y1="482" x2="1224.7" y2="493" stroke="#1a1a1a" stroke-width="3.4" />
<line x1="1256.4" y1="52.3" x2="1256.4" y2="63.3" stroke="#1a1a1a" stroke-width="3.4" />
<line x1="1256.4" y1="482" x2="1256.4" y2="493" stroke="#1a1a1a" stroke-width="3.4" />
<line x1="1288.1" y1="42.3" x2="1288.1" y2="63.3" stroke="#1a1a1a" stroke-width="3.4" />
<line x1="1288.1" y1="482" x2="1288.1" y2="503" stroke="#1a1a1a" stroke-width="3.4" />
<text x="1288.1" y="556" font-size="39.5" text-anchor="middle" font-weight="normal" >1935</text>
<line x1="1319.9" y1="52.3" x2="1319.9" y2="63.3" stroke="#1a1a1a" stroke-width="3.4" />
<line x1="1319.9" y1="482" x2="1319.9" y2="493" stroke="#1a1a1a" stroke-width="3.4" />
<line x1="1351.6" y1="52.3" x2="1351.6" y2="63.3" stroke="#1a1a1a" stroke-width="3.4" />
<line x1="1351.6" y1="482" x2="1351.6" y2="493" stroke="#1a1a1a" stroke-width="3.4" />
<line x1="1383.3" y1="52.3" x2="1383.3" y2="63.3" stroke="#1a1a1a" stroke-width="3.4" />
<line x1="1383.3" y1="482" x2="1383.3" y2="493" stroke="#1a1a1a" stroke-width="3.4" />
<line x1="1415.1" y1="52.3" x2="1415.1" y2="63.3" stroke="#1a1a1a" stroke-width="3.4" />
<line x1="1415.1" y1="482" x2="1415.1" y2="493" stroke="#1a1a1a" stroke-width="3.4" />
<line x1="1446.8" y1="42.3" x2="1446.8" y2="63.3" stroke="#1a1a1a" stroke-width="3.4" />
<line x1="1446.8" y1="482" x2="1446.8" y2="503" stroke="#1a1a1a" stroke-width="3.4" />
<text x="1446.8" y="556" font-size="39.5" text-anchor="middle" font-weight="normal" >1940</text>
<line x1="1478.5" y1="52.3" x2="1478.5" y2="63.3" stroke="#1a1a1a" stroke-width="3.4" />
<line x1="1478.5" y1="482" x2="1478.5" y2="493" stroke="#1a1a1a" stroke-width="3.4" />
<line x1="1510.2" y1="52.3" x2="1510.2" y2="63.3" stroke="#1a1a1a" stroke-width="3.4" />
<line x1="1510.2" y1="482" x2="1510.2" y2="493" stroke="#1a1a1a" stroke-width="3.4" />
<line x1="1542" y1="52.3" x2="1542" y2="63.3" stroke="#1a1a1a" stroke-width="3.4" />
<line x1="1542" y1="482" x2="1542" y2="493" stroke="#1a1a1a" stroke-width="3.4" />
<line x1="1573.7" y1="52.3" x2="1573.7" y2="63.3" stroke="#1a1a1a" stroke-width="3.4" />
<line x1="1573.7" y1="482" x2="1573.7" y2="493" stroke="#1a1a1a" stroke-width="3.4" />
<line x1="1605.4" y1="42.3" x2="1605.4" y2="63.3" stroke="#1a1a1a" stroke-width="3.4" />
<line x1="1605.4" y1="482" x2="1605.4" y2="503" stroke="#1a1a1a" stroke-width="3.4" />
<text x="1605.4" y="556" font-size="39.5" text-anchor="middle" font-weight="normal" >1945</text>
<line x1="1637.1" y1="52.3" x2="1637.1" y2="63.3" stroke="#1a1a1a" stroke-width="3.4" />
<line x1="1637.1" y1="482" x2="1637.1" y2="493" stroke="#1a1a1a" stroke-width="3.4" />
<line x1="1668.9" y1="52.3" x2="1668.9" y2="63.3" stroke="#1a1a1a" stroke-width="3.4" />
<line x1="1668.9" y1="482" x2="1668.9" y2="493" stroke="#1a1a1a" stroke-width="3.4" />
<line x1="1700.6" y1="52.3" x2="1700.6" y2="63.3" stroke="#1a1a1a" stroke-width="3.4" />
<line x1="1700.6" y1="482" x2="1700.6" y2="493" stroke="#1a1a1a" stroke-width="3.4" />
<line x1="1732.3" y1="52.3" x2="1732.3" y2="63.3" stroke="#1a1a1a" stroke-width="3.4" />
<line x1="1732.3" y1="482" x2="1732.3" y2="493" stroke="#1a1a1a" stroke-width="3.4" />
<line x1="1764" y1="42.3" x2="1764" y2="63.3" stroke="#1a1a1a" stroke-width="3.4" />
<line x1="1764" y1="482" x2="1764" y2="503" stroke="#1a1a1a" stroke-width="3.4" />
<text x="1764" y="556" font-size="39.5" text-anchor="middle" font-weight="normal" >1950</text>
<line x1="1795.8" y1="52.3" x2="1795.8" y2="63.3" stroke="#1a1a1a" stroke-width="3.4" />
<line x1="1795.8" y1="482" x2="1795.8" y2="493" stroke="#1a1a1a" stroke-width="3.4" />
<line x1="1827.5" y1="52.3" x2="1827.5" y2="63.3" stroke="#1a1a1a" stroke-width="3.4" />
<line x1="1827.5" y1="482" x2="1827.5" y2="493" stroke="#1a1a1a" stroke-width="3.4" />
<line x1="1859.2" y1="52.3" x2="1859.2" y2="63.3" stroke="#1a1a1a" stroke-width="3.4" />
<line x1="1859.2" y1="482" x2="1859.2" y2="493" stroke="#1a1a1a" stroke-width="3.4" />
<line x1="1891" y1="52.3" x2="1891" y2="63.3" stroke="#1a1a1a" stroke-width="3.4" />
<line x1="1891" y1="482" x2="1891" y2="493" stroke="#1a1a1a" stroke-width="3.4" />
<line x1="1922.7" y1="42.3" x2="1922.7" y2="63.3" stroke="#1a1a1a" stroke-width="3.4" />
<line x1="1922.7" y1="482" x2="1922.7" y2="503" stroke="#1a1a1a" stroke-width="3.4" />
<text x="1922.7" y="556" font-size="39.5" text-anchor="middle" font-weight="normal" >1955</text>
<line x1="1954.4" y1="52.3" x2="1954.4" y2="63.3" stroke="#1a1a1a" stroke-width="3.4" />
<line x1="1954.4" y1="482" x2="1954.4" y2="493" stroke="#1a1a1a" stroke-width="3.4" />
<line x1="1986.1" y1="52.3" x2="1986.1" y2="63.3" stroke="#1a1a1a" stroke-width="3.4" />
<line x1="1986.1" y1="482" x2="1986.1" y2="493" stroke="#1a1a1a" stroke-width="3.4" />
<line x1="2017.9" y1="52.3" x2="2017.9" y2="63.3" stroke="#1a1a1a" stroke-width="3.4" />
<line x1="2017.9" y1="482" x2="2017.9" y2="493" stroke="#1a1a1a" stroke-width="3.4" />
<line x1="2049.6" y1="52.3" x2="2049.6" y2="63.3" stroke="#1a1a1a" stroke-width="3.4" />
<line x1="2049.6" y1="482" x2="2049.6" y2="493" stroke="#1a1a1a" stroke-width="3.4" />
<line x1="2081.3" y1="42.3" x2="2081.3" y2="63.3" stroke="#1a1a1a" stroke-width="3.4" />
<line x1="2081.3" y1="482" x2="2081.3" y2="503" stroke="#1a1a1a" stroke-width="3.4" />
<text x="2081.3" y="556" font-size="39.5" text-anchor="middle" font-weight="normal" >1960</text>
<text transform="translate(73.5,272.6) rotate(-90)" font-size="48" text-anchor="middle">s.d.</text>
<rect x="162.0" y="593.5" width="1933.5" height="418.9" fill="#fff"/>
<line x1="193.6" y1="593.5" x2="193.6" y2="1012.4" stroke="#c4c4c4" stroke-width="1.6" />
<line x1="225.3" y1="593.5" x2="225.3" y2="1012.4" stroke="#c4c4c4" stroke-width="1.6" />
<line x1="257" y1="593.5" x2="257" y2="1012.4" stroke="#c4c4c4" stroke-width="1.6" />
<line x1="288.7" y1="593.5" x2="288.7" y2="1012.4" stroke="#c4c4c4" stroke-width="1.6" />
<line x1="320.5" y1="593.5" x2="320.5" y2="1012.4" stroke="#c4c4c4" stroke-width="1.6" />
<line x1="352.2" y1="593.5" x2="352.2" y2="1012.4" stroke="#c4c4c4" stroke-width="1.6" />
<line x1="383.9" y1="593.5" x2="383.9" y2="1012.4" stroke="#c4c4c4" stroke-width="1.6" />
<line x1="415.7" y1="593.5" x2="415.7" y2="1012.4" stroke="#c4c4c4" stroke-width="1.6" />
<line x1="447.4" y1="593.5" x2="447.4" y2="1012.4" stroke="#c4c4c4" stroke-width="1.6" />
<line x1="479.1" y1="593.5" x2="479.1" y2="1012.4" stroke="#c4c4c4" stroke-width="1.6" />
<line x1="510.8" y1="593.5" x2="510.8" y2="1012.4" stroke="#c4c4c4" stroke-width="1.6" />
<line x1="542.6" y1="593.5" x2="542.6" y2="1012.4" stroke="#c4c4c4" stroke-width="1.6" />
<line x1="574.3" y1="593.5" x2="574.3" y2="1012.4" stroke="#c4c4c4" stroke-width="1.6" />
<line x1="606" y1="593.5" x2="606" y2="1012.4" stroke="#c4c4c4" stroke-width="1.6" />
<line x1="637.7" y1="593.5" x2="637.7" y2="1012.4" stroke="#c4c4c4" stroke-width="1.6" />
<line x1="669.5" y1="593.5" x2="669.5" y2="1012.4" stroke="#c4c4c4" stroke-width="1.6" />
<line x1="701.2" y1="593.5" x2="701.2" y2="1012.4" stroke="#c4c4c4" stroke-width="1.6" />
<line x1="732.9" y1="593.5" x2="732.9" y2="1012.4" stroke="#c4c4c4" stroke-width="1.6" />
<line x1="764.6" y1="593.5" x2="764.6" y2="1012.4" stroke="#c4c4c4" stroke-width="1.6" />
<line x1="796.4" y1="593.5" x2="796.4" y2="1012.4" stroke="#c4c4c4" stroke-width="1.6" />
<line x1="828.1" y1="593.5" x2="828.1" y2="1012.4" stroke="#c4c4c4" stroke-width="1.6" />
<line x1="859.8" y1="593.5" x2="859.8" y2="1012.4" stroke="#c4c4c4" stroke-width="1.6" />
<line x1="891.6" y1="593.5" x2="891.6" y2="1012.4" stroke="#c4c4c4" stroke-width="1.6" />
<line x1="923.3" y1="593.5" x2="923.3" y2="1012.4" stroke="#c4c4c4" stroke-width="1.6" />
<line x1="955" y1="593.5" x2="955" y2="1012.4" stroke="#c4c4c4" stroke-width="1.6" />
<line x1="986.7" y1="593.5" x2="986.7" y2="1012.4" stroke="#c4c4c4" stroke-width="1.6" />
<line x1="1018.5" y1="593.5" x2="1018.5" y2="1012.4" stroke="#c4c4c4" stroke-width="1.6" />
<line x1="1050.2" y1="593.5" x2="1050.2" y2="1012.4" stroke="#c4c4c4" stroke-width="1.6" />
<line x1="1081.9" y1="593.5" x2="1081.9" y2="1012.4" stroke="#c4c4c4" stroke-width="1.6" />
<line x1="1113.6" y1="593.5" x2="1113.6" y2="1012.4" stroke="#c4c4c4" stroke-width="1.6" />
<line x1="1145.4" y1="593.5" x2="1145.4" y2="1012.4" stroke="#c4c4c4" stroke-width="1.6" />
<line x1="1177.1" y1="593.5" x2="1177.1" y2="1012.4" stroke="#c4c4c4" stroke-width="1.6" />
<line x1="1208.8" y1="593.5" x2="1208.8" y2="1012.4" stroke="#c4c4c4" stroke-width="1.6" />
<line x1="1240.6" y1="593.5" x2="1240.6" y2="1012.4" stroke="#c4c4c4" stroke-width="1.6" />
<line x1="1272.3" y1="593.5" x2="1272.3" y2="1012.4" stroke="#c4c4c4" stroke-width="1.6" />
<line x1="1304" y1="593.5" x2="1304" y2="1012.4" stroke="#c4c4c4" stroke-width="1.6" />
<line x1="1335.7" y1="593.5" x2="1335.7" y2="1012.4" stroke="#c4c4c4" stroke-width="1.6" />
<line x1="1367.5" y1="593.5" x2="1367.5" y2="1012.4" stroke="#c4c4c4" stroke-width="1.6" />
<line x1="1399.2" y1="593.5" x2="1399.2" y2="1012.4" stroke="#c4c4c4" stroke-width="1.6" />
<line x1="1430.9" y1="593.5" x2="1430.9" y2="1012.4" stroke="#c4c4c4" stroke-width="1.6" />
<line x1="1462.6" y1="593.5" x2="1462.6" y2="1012.4" stroke="#c4c4c4" stroke-width="1.6" />
<line x1="1494.4" y1="593.5" x2="1494.4" y2="1012.4" stroke="#c4c4c4" stroke-width="1.6" />
<line x1="1526.1" y1="593.5" x2="1526.1" y2="1012.4" stroke="#c4c4c4" stroke-width="1.6" />
<line x1="1557.8" y1="593.5" x2="1557.8" y2="1012.4" stroke="#c4c4c4" stroke-width="1.6" />
<line x1="1589.6" y1="593.5" x2="1589.6" y2="1012.4" stroke="#c4c4c4" stroke-width="1.6" />
<line x1="1621.3" y1="593.5" x2="1621.3" y2="1012.4" stroke="#c4c4c4" stroke-width="1.6" />
<line x1="1653" y1="593.5" x2="1653" y2="1012.4" stroke="#c4c4c4" stroke-width="1.6" />
<line x1="1684.7" y1="593.5" x2="1684.7" y2="1012.4" stroke="#c4c4c4" stroke-width="1.6" />
<line x1="1716.5" y1="593.5" x2="1716.5" y2="1012.4" stroke="#c4c4c4" stroke-width="1.6" />
<line x1="1748.2" y1="593.5" x2="1748.2" y2="1012.4" stroke="#c4c4c4" stroke-width="1.6" />
<line x1="1779.9" y1="593.5" x2="1779.9" y2="1012.4" stroke="#c4c4c4" stroke-width="1.6" />
<line x1="1811.6" y1="593.5" x2="1811.6" y2="1012.4" stroke="#c4c4c4" stroke-width="1.6" />
<line x1="1843.4" y1="593.5" x2="1843.4" y2="1012.4" stroke="#c4c4c4" stroke-width="1.6" />
<line x1="1875.1" y1="593.5" x2="1875.1" y2="1012.4" stroke="#c4c4c4" stroke-width="1.6" />
<line x1="1906.8" y1="593.5" x2="1906.8" y2="1012.4" stroke="#c4c4c4" stroke-width="1.6" />
<line x1="1938.5" y1="593.5" x2="1938.5" y2="1012.4" stroke="#c4c4c4" stroke-width="1.6" />
<line x1="1970.3" y1="593.5" x2="1970.3" y2="1012.4" stroke="#c4c4c4" stroke-width="1.6" />
<line x1="2002" y1="593.5" x2="2002" y2="1012.4" stroke="#c4c4c4" stroke-width="1.6" />
<line x1="2033.7" y1="593.5" x2="2033.7" y2="1012.4" stroke="#c4c4c4" stroke-width="1.6" />
<line x1="2065.5" y1="593.5" x2="2065.5" y2="1012.4" stroke="#c4c4c4" stroke-width="1.6" />
<clipPath id="crb"><rect x="162.0" y="593.5" width="1933.5" height="188.27499999999998"/></clipPath>
<clipPath id="cbb"><rect x="162.0" y="857.225" width="1933.5" height="155.17499999999995"/></clipPath>
<polygon clip-path="url(#crb)" fill="#ff0000" points="162.1,781.8 162.1,825.4 165.2,821.2 168.3,819.2 171.5,815 174.6,804.6 177.7,808.8 180.8,817.1 182.9,833.8 185,851.5 188.1,849.4 191.2,840 193.3,836.9 196.5,841 199.6,841 202.7,840 205.8,835.8 210,827.5 212.1,825.4 215.2,834.8 218.3,840 221.5,849.4 225.6,858.8 228.8,848.3 230.8,831.7 232.9,815 236,806.7 238.8,802.5 241.2,781.7 244.4,754.6 246.5,737.9 250.6,733.8 254.8,729.6 257.9,733.8 260,744.2 262.1,765 264.2,790 266.2,815 268.3,844.2 269.4,867.1 272.5,872.3 275.6,876.5 278.8,883.8 282.9,896.2 286,901.5 289.2,892.1 291.2,875.4 293.3,856.7 296.5,833.8 299.6,810.8 302.7,781.7 305.8,737.9 310,698.3 314.2,681.7 318.3,678.5 321.5,690 324.6,710.8 327.7,729.6 329.8,744.2 331.9,765 334,787.9 336,795.2 339.2,794.2 342.3,806.7 345.4,819.2 348.5,829.6 351.7,842.1 355.8,853.5 360,858.8 363.1,844.2 366.2,821.2 368.3,817.1 370.8,817.1 373.5,833.8 376.7,846.2 379.8,848.3 381.9,844.2 385,856.7 387.1,871.2 389.2,877.5 392.3,867.1 394.4,854.6 396.5,825.4 398.5,804.6 401.7,780.6 404.8,785.8 406.9,787.9 409,777.5 412.1,758.8 415.2,744.2 418.3,737.9 421.5,740 424.6,754.6 427.7,769.2 430.8,784.8 434,785.8 437.1,762.9 440.2,750.4 443.3,749.4 446.5,754.6 449.6,769.2 452.7,780.6 455.8,790 459,806.7 461,823.3 463.1,844.2 465.2,858.8 467.9,879.6 471.5,879.6 474.6,885.8 477.3,904.6 480.4,921.2 483.5,925.4 486.7,915 489.8,894.2 492.9,879.6 496,873.3 499.2,874.4 502.3,881.7 505.4,887.9 508.5,889 511.7,879.6 513.8,860.8 515.8,840 519,815 522.1,787.9 525.2,762.9 528.3,731.7 532.5,700.4 536.7,667.1 539.8,643.1 542.9,648.3 545,669.2 547.1,698.3 549.2,735.8 551.2,773.3 553.3,810.8 555.4,840 557.5,865 560.6,892.1 564.8,915 567.9,935.8 571,960.8 574.2,983.8 577.3,969.2 580.4,937.9 583.5,915 586.7,896.2 589.8,881.7 592.9,865 596,854.6 598.1,856.7 600.2,867.1 603.3,878.5 606.5,869.2 609.6,860.8 613.8,869.2 616.9,883.8 621,900.4 625.2,912.9 629.4,925.4 633.5,935.8 637.7,946.2 640.8,935.8 642.9,908.8 645,885.8 648.1,858.8 651.2,837.9 654.4,815 657.5,790 660.6,767.1 663.8,742.1 666.9,742.1 670,750.4 673.1,762.9 675.2,769.2 677.3,794.2 680.4,804.6 682.5,802.5 684.6,790 687.7,777.5 690.8,773.3 694,756.7 698.1,741 701.2,743.1 704.4,756.7 706.5,775.4 708.5,792.1 710.6,815 712.7,835.8 715.8,850.4 719,852.5 722.1,856.7 725.2,848.3 728.3,829.6 731.5,815 734.6,812.9 737.7,810.8 740.8,804.6 744,802.5 747.1,808.8 749.2,818.1 752.3,810.8 755.4,794.2 758.5,779.6 761.7,773.3 764.8,769.2 767.9,775.4 771,792.1 774.2,798.3 777.3,790 780.4,792.1 783.1,800.4 785.2,810.8 788.3,819.2 791.5,806.7 793.5,804.6 795.6,815 797.7,831.7 799.8,844.2 801.9,850.4 805,844.2 808.1,833.8 811.2,835.8 814.4,839 817.5,831.7 819.6,819.2 822.7,816 825.8,820.2 829,818.1 832.1,812.9 835.2,804.6 837.3,790 839.4,771.2 841.5,762.9 844.6,752.5 846.7,742.1 848.8,725.4 851.9,687.9 855,642.1 858.1,627.5 861.2,625.4 863.3,628.5 865.4,646.2 867.5,665 870.6,692.1 873.8,723.3 875.8,752.5 877.9,781.7 880,804.6 882.1,825.4 884.2,848.3 886.2,871.2 888.3,887.9 890.4,885.8 892.5,873.3 894.6,856.7 896.7,848.3 898.8,843.1 901.9,850.4 904,862.9 907.1,859.8 910.2,850.4 912.3,836.9 914.4,844.2 916.5,856.7 918.5,877.5 920.6,898.3 922.7,908.8 925.8,900.4 927.9,890 931,886.9 934.2,883.8 937.3,877.5 939.4,865 941.5,852.5 944.6,846.2 948.8,843.1 951.9,840 955,848.3 957.1,858.8 960.2,860.8 963.3,850.4 966.5,837.9 969.6,825.4 971.7,810.8 973.8,796.2 975.8,781.7 979,754.6 982.1,731.7 986.2,720.2 991.5,719.2 994.6,723.3 997.7,730.6 1000.8,712.9 1004,692.1 1007.1,680.6 1010.2,681.7 1013.3,690 1016.5,704.6 1019.6,725.4 1021.7,748.3 1023.8,775.4 1025.8,798.3 1027.9,821.2 1030,848.3 1032.1,879.6 1034.2,917.1 1037.3,931.7 1039.4,925.4 1041.5,940 1044.6,956.7 1047.7,975.4 1049.8,981.7 1051.9,971.2 1055,948.3 1058.1,917.1 1061.2,890 1064.4,869.2 1067.5,856.7 1070.6,848.3 1073.8,844.2 1076.9,837.9 1080,829.6 1083.1,817.1 1086.2,804.6 1089.4,797.3 1092.5,796.2 1095.2,797.3 1098.3,796.2 1101.5,792.1 1104.6,789 1107.7,791 1110.8,787.9 1114,785.8 1116,786.9 1119.2,793.1 1121.2,795.2 1123.3,787.9 1125.4,773.3 1127.5,762.9 1130.6,752.5 1132.7,754.6 1134.8,748.3 1137.9,731.7 1141,704.6 1144.2,685.8 1147.3,676.5 1150.4,681.7 1153.5,692.1 1156.7,706.7 1158.8,723.3 1160.8,746.2 1162.9,771.2 1165,790 1167.1,806.7 1170.2,821.2 1173.3,821.2 1176.5,810.8 1179.6,796.2 1182.7,779.6 1185.8,760.8 1189,750.4 1192.1,756.7 1194.2,769.2 1196.2,783.8 1199.4,786.9 1202.5,784.8 1205.6,790 1208.8,802.5 1211.9,811.9 1215,812.9 1218.1,802.5 1221.2,791 1224.4,787.9 1226.5,781.7 1229.6,765 1232.7,744.2 1235.8,723.3 1239,720.2 1242.1,731.7 1245.2,750.4 1248.3,771.2 1251.5,796.2 1254.6,808.8 1257.7,819.2 1259.8,829.6 1261.9,844.2 1264,860.8 1267.1,875.4 1271.2,885.8 1274.4,885.8 1277.5,873.3 1280.6,856.7 1283.8,842.1 1286.9,833.8 1290,830.6 1293.1,833.8 1297.3,840 1300.4,846.2 1303.5,854.6 1306.7,858.8 1309.8,840 1311.9,819.2 1314,796.2 1316,773.3 1319.2,727.5 1323.3,677.5 1327.5,631.7 1331.7,611.9 1334.8,614 1337.9,625.4 1341,644.2 1344.2,677.5 1347.3,719.2 1349.4,773.3 1350.8,808.8 1352.5,846.2 1354.6,877.5 1357.7,898.3 1360.8,912.9 1364,927.5 1367.1,942.1 1369.2,948.3 1371.2,940 1373.3,919.2 1376.5,898.3 1379.6,894.2 1382.7,896.2 1385.8,898.3 1389,902.5 1392.1,915 1395.2,931.7 1398.3,948.3 1401.5,958.8 1404.2,923.3 1406.2,902.5 1409.4,885.8 1412.5,875.4 1415.6,867.1 1418.8,854.6 1421.9,854.6 1424,860.8 1426,873.3 1429.2,885.8 1432.3,887.9 1434.4,877.5 1437.5,860.8 1440.6,846.2 1443.8,831.7 1446.9,819.2 1450,816 1453.1,821.2 1456.2,829.6 1459.4,837.9 1462.5,842.1 1465.6,835.8 1467.7,823.3 1469.8,812.9 1472.9,802.5 1475,783.8 1478.1,765 1481.2,750.4 1484.4,737.9 1487.5,719.2 1491.7,700.4 1494.8,708.8 1496.9,725.4 1499,744.2 1501,767.1 1503.1,790 1505.2,817.1 1507.3,833.8 1509.4,827.5 1511.5,812.9 1513.5,800.4 1516.7,792.1 1519.8,783.8 1522.9,781.7 1526,792.1 1529.2,804.6 1533.3,814 1537.5,810.8 1540.6,800.4 1543.8,783.8 1546.9,760.8 1550,753.5 1554.2,754.6 1557.3,760.8 1560.4,777.5 1563.5,790 1566.7,795.2 1569.8,793.1 1572.9,800.4 1576,809.8 1579.2,816 1582.3,819.2 1584.4,829.6 1586.5,844.2 1588.5,867.1 1591.7,892.1 1594.8,890 1596.9,871.2 1599,848.3 1602.1,825.4 1605.2,810.8 1608.3,798.3 1611.5,779.6 1614.6,752.5 1617.7,736.9 1620.8,742.1 1622.9,756.7 1625,781.7 1627.1,808.8 1629.2,827.5 1632.3,837.9 1635.4,842.1 1638.5,850.4 1641.7,860.8 1644.8,879.6 1647.9,902.5 1651,929.6 1655.2,948.3 1658.3,937.9 1661.5,908.8 1664.6,885.8 1667.7,862.9 1670.8,837.9 1674,831.7 1677.1,840 1680.2,856.7 1683.3,877.5 1687.1,898.3 1689.6,892.1 1691.7,877.5 1693.8,856.7 1695.8,829.6 1697.9,806.7 1700,783.8 1703.1,771.2 1706.2,758.8 1709.4,731.7 1712.5,702.5 1713.1,700.4 1716.2,691 1719.4,706.7 1722.5,731.7 1725.6,760.8 1727.7,790 1729.8,823.3 1731.9,856.7 1734,885.8 1737.1,919.2 1740.2,940 1744.4,952.5 1747.5,958.8 1750.6,950.4 1753.8,927.5 1756.9,900.4 1760,875.4 1762.1,854.6 1764.2,850.4 1767.3,858.8 1770.4,875.4 1773.5,890 1776.7,904.6 1779.8,910.8 1782.9,896.2 1786,877.5 1789.2,856.7 1792.3,831.7 1795.4,806.7 1797.5,790 1800.6,780.6 1803.8,785.8 1806.9,800.4 1809,812.9 1812.1,837.9 1814.2,858.8 1817.3,854.6 1820.4,842.1 1823.5,840 1826.7,846.2 1829.8,847.3 1832.9,840 1836,835.8 1838.1,831.7 1841.2,840 1844.4,854.6 1847.5,861.9 1849.6,842.1 1852.7,815 1855.8,797.3 1859,800.4 1862.1,808.8 1865.2,802.5 1867.3,790 1870.4,771.2 1873.5,766 1876.7,773.3 1878.8,781.7 1880.8,785.8 1882.9,775.4 1886,754.6 1889.2,731.7 1892.3,700.4 1896.5,662.9 1900.6,621.2 1904.8,606.7 1907.9,607.7 1911,623.3 1914.2,656.7 1916.2,698.3 1918.3,744.2 1920,777.5 1921.5,804.6 1923.5,829.6 1925.6,850.4 1928.8,867.1 1932.9,873.3 1936,871.2 1939.2,860.8 1942.3,840 1945.4,817.1 1948.5,800.4 1951.7,794.2 1954.8,796.2 1956.9,810.8 1959,827.5 1962.1,850.4 1965.2,873.3 1968.3,890 1971.5,902.5 1974.6,898.3 1977.7,881.7 1980.8,858.8 1984,833.8 1986,817.1 1989.2,808.8 1992.3,800.4 1994.4,781.7 1996.5,767.1 1999.6,749.4 2002.7,756.7 2005.8,772.3 2009,769.2 2012.1,764 2015.2,769.2 2018.3,777.5 2022.3,806.7 2025.4,802.5 2028.5,785.8 2031.7,778.5 2034.8,790 2037.9,793.1 2042.1,795.2 2045.2,810.8 2048.3,829.6 2051.5,844.2 2054.6,860.8 2057.7,885.8 2060.8,910.8 2064,925.4 2067.1,921.2 2070.2,904.6 2073.3,881.7 2076.5,862.9 2079.6,848.3 2082.7,848.3 2085.8,860.8 2089,877.5 2092.1,894.2 2095.2,915 2097.3,925.4 2097.3,781.8"/>
<polygon clip-path="url(#cbb)" fill="#0000ff" points="162.1,857.2 162.1,825.4 165.2,821.2 168.3,819.2 171.5,815 174.6,804.6 177.7,808.8 180.8,817.1 182.9,833.8 185,851.5 188.1,849.4 191.2,840 193.3,836.9 196.5,841 199.6,841 202.7,840 205.8,835.8 210,827.5 212.1,825.4 215.2,834.8 218.3,840 221.5,849.4 225.6,858.8 228.8,848.3 230.8,831.7 232.9,815 236,806.7 238.8,802.5 241.2,781.7 244.4,754.6 246.5,737.9 250.6,733.8 254.8,729.6 257.9,733.8 260,744.2 262.1,765 264.2,790 266.2,815 268.3,844.2 269.4,867.1 272.5,872.3 275.6,876.5 278.8,883.8 282.9,896.2 286,901.5 289.2,892.1 291.2,875.4 293.3,856.7 296.5,833.8 299.6,810.8 302.7,781.7 305.8,737.9 310,698.3 314.2,681.7 318.3,678.5 321.5,690 324.6,710.8 327.7,729.6 329.8,744.2 331.9,765 334,787.9 336,795.2 339.2,794.2 342.3,806.7 345.4,819.2 348.5,829.6 351.7,842.1 355.8,853.5 360,858.8 363.1,844.2 366.2,821.2 368.3,817.1 370.8,817.1 373.5,833.8 376.7,846.2 379.8,848.3 381.9,844.2 385,856.7 387.1,871.2 389.2,877.5 392.3,867.1 394.4,854.6 396.5,825.4 398.5,804.6 401.7,780.6 404.8,785.8 406.9,787.9 409,777.5 412.1,758.8 415.2,744.2 418.3,737.9 421.5,740 424.6,754.6 427.7,769.2 430.8,784.8 434,785.8 437.1,762.9 440.2,750.4 443.3,749.4 446.5,754.6 449.6,769.2 452.7,780.6 455.8,790 459,806.7 461,823.3 463.1,844.2 465.2,858.8 467.9,879.6 471.5,879.6 474.6,885.8 477.3,904.6 480.4,921.2 483.5,925.4 486.7,915 489.8,894.2 492.9,879.6 496,873.3 499.2,874.4 502.3,881.7 505.4,887.9 508.5,889 511.7,879.6 513.8,860.8 515.8,840 519,815 522.1,787.9 525.2,762.9 528.3,731.7 532.5,700.4 536.7,667.1 539.8,643.1 542.9,648.3 545,669.2 547.1,698.3 549.2,735.8 551.2,773.3 553.3,810.8 555.4,840 557.5,865 560.6,892.1 564.8,915 567.9,935.8 571,960.8 574.2,983.8 577.3,969.2 580.4,937.9 583.5,915 586.7,896.2 589.8,881.7 592.9,865 596,854.6 598.1,856.7 600.2,867.1 603.3,878.5 606.5,869.2 609.6,860.8 613.8,869.2 616.9,883.8 621,900.4 625.2,912.9 629.4,925.4 633.5,935.8 637.7,946.2 640.8,935.8 642.9,908.8 645,885.8 648.1,858.8 651.2,837.9 654.4,815 657.5,790 660.6,767.1 663.8,742.1 666.9,742.1 670,750.4 673.1,762.9 675.2,769.2 677.3,794.2 680.4,804.6 682.5,802.5 684.6,790 687.7,777.5 690.8,773.3 694,756.7 698.1,741 701.2,743.1 704.4,756.7 706.5,775.4 708.5,792.1 710.6,815 712.7,835.8 715.8,850.4 719,852.5 722.1,856.7 725.2,848.3 728.3,829.6 731.5,815 734.6,812.9 737.7,810.8 740.8,804.6 744,802.5 747.1,808.8 749.2,818.1 752.3,810.8 755.4,794.2 758.5,779.6 761.7,773.3 764.8,769.2 767.9,775.4 771,792.1 774.2,798.3 777.3,790 780.4,792.1 783.1,800.4 785.2,810.8 788.3,819.2 791.5,806.7 793.5,804.6 795.6,815 797.7,831.7 799.8,844.2 801.9,850.4 805,844.2 808.1,833.8 811.2,835.8 814.4,839 817.5,831.7 819.6,819.2 822.7,816 825.8,820.2 829,818.1 832.1,812.9 835.2,804.6 837.3,790 839.4,771.2 841.5,762.9 844.6,752.5 846.7,742.1 848.8,725.4 851.9,687.9 855,642.1 858.1,627.5 861.2,625.4 863.3,628.5 865.4,646.2 867.5,665 870.6,692.1 873.8,723.3 875.8,752.5 877.9,781.7 880,804.6 882.1,825.4 884.2,848.3 886.2,871.2 888.3,887.9 890.4,885.8 892.5,873.3 894.6,856.7 896.7,848.3 898.8,843.1 901.9,850.4 904,862.9 907.1,859.8 910.2,850.4 912.3,836.9 914.4,844.2 916.5,856.7 918.5,877.5 920.6,898.3 922.7,908.8 925.8,900.4 927.9,890 931,886.9 934.2,883.8 937.3,877.5 939.4,865 941.5,852.5 944.6,846.2 948.8,843.1 951.9,840 955,848.3 957.1,858.8 960.2,860.8 963.3,850.4 966.5,837.9 969.6,825.4 971.7,810.8 973.8,796.2 975.8,781.7 979,754.6 982.1,731.7 986.2,720.2 991.5,719.2 994.6,723.3 997.7,730.6 1000.8,712.9 1004,692.1 1007.1,680.6 1010.2,681.7 1013.3,690 1016.5,704.6 1019.6,725.4 1021.7,748.3 1023.8,775.4 1025.8,798.3 1027.9,821.2 1030,848.3 1032.1,879.6 1034.2,917.1 1037.3,931.7 1039.4,925.4 1041.5,940 1044.6,956.7 1047.7,975.4 1049.8,981.7 1051.9,971.2 1055,948.3 1058.1,917.1 1061.2,890 1064.4,869.2 1067.5,856.7 1070.6,848.3 1073.8,844.2 1076.9,837.9 1080,829.6 1083.1,817.1 1086.2,804.6 1089.4,797.3 1092.5,796.2 1095.2,797.3 1098.3,796.2 1101.5,792.1 1104.6,789 1107.7,791 1110.8,787.9 1114,785.8 1116,786.9 1119.2,793.1 1121.2,795.2 1123.3,787.9 1125.4,773.3 1127.5,762.9 1130.6,752.5 1132.7,754.6 1134.8,748.3 1137.9,731.7 1141,704.6 1144.2,685.8 1147.3,676.5 1150.4,681.7 1153.5,692.1 1156.7,706.7 1158.8,723.3 1160.8,746.2 1162.9,771.2 1165,790 1167.1,806.7 1170.2,821.2 1173.3,821.2 1176.5,810.8 1179.6,796.2 1182.7,779.6 1185.8,760.8 1189,750.4 1192.1,756.7 1194.2,769.2 1196.2,783.8 1199.4,786.9 1202.5,784.8 1205.6,790 1208.8,802.5 1211.9,811.9 1215,812.9 1218.1,802.5 1221.2,791 1224.4,787.9 1226.5,781.7 1229.6,765 1232.7,744.2 1235.8,723.3 1239,720.2 1242.1,731.7 1245.2,750.4 1248.3,771.2 1251.5,796.2 1254.6,808.8 1257.7,819.2 1259.8,829.6 1261.9,844.2 1264,860.8 1267.1,875.4 1271.2,885.8 1274.4,885.8 1277.5,873.3 1280.6,856.7 1283.8,842.1 1286.9,833.8 1290,830.6 1293.1,833.8 1297.3,840 1300.4,846.2 1303.5,854.6 1306.7,858.8 1309.8,840 1311.9,819.2 1314,796.2 1316,773.3 1319.2,727.5 1323.3,677.5 1327.5,631.7 1331.7,611.9 1334.8,614 1337.9,625.4 1341,644.2 1344.2,677.5 1347.3,719.2 1349.4,773.3 1350.8,808.8 1352.5,846.2 1354.6,877.5 1357.7,898.3 1360.8,912.9 1364,927.5 1367.1,942.1 1369.2,948.3 1371.2,940 1373.3,919.2 1376.5,898.3 1379.6,894.2 1382.7,896.2 1385.8,898.3 1389,902.5 1392.1,915 1395.2,931.7 1398.3,948.3 1401.5,958.8 1404.2,923.3 1406.2,902.5 1409.4,885.8 1412.5,875.4 1415.6,867.1 1418.8,854.6 1421.9,854.6 1424,860.8 1426,873.3 1429.2,885.8 1432.3,887.9 1434.4,877.5 1437.5,860.8 1440.6,846.2 1443.8,831.7 1446.9,819.2 1450,816 1453.1,821.2 1456.2,829.6 1459.4,837.9 1462.5,842.1 1465.6,835.8 1467.7,823.3 1469.8,812.9 1472.9,802.5 1475,783.8 1478.1,765 1481.2,750.4 1484.4,737.9 1487.5,719.2 1491.7,700.4 1494.8,708.8 1496.9,725.4 1499,744.2 1501,767.1 1503.1,790 1505.2,817.1 1507.3,833.8 1509.4,827.5 1511.5,812.9 1513.5,800.4 1516.7,792.1 1519.8,783.8 1522.9,781.7 1526,792.1 1529.2,804.6 1533.3,814 1537.5,810.8 1540.6,800.4 1543.8,783.8 1546.9,760.8 1550,753.5 1554.2,754.6 1557.3,760.8 1560.4,777.5 1563.5,790 1566.7,795.2 1569.8,793.1 1572.9,800.4 1576,809.8 1579.2,816 1582.3,819.2 1584.4,829.6 1586.5,844.2 1588.5,867.1 1591.7,892.1 1594.8,890 1596.9,871.2 1599,848.3 1602.1,825.4 1605.2,810.8 1608.3,798.3 1611.5,779.6 1614.6,752.5 1617.7,736.9 1620.8,742.1 1622.9,756.7 1625,781.7 1627.1,808.8 1629.2,827.5 1632.3,837.9 1635.4,842.1 1638.5,850.4 1641.7,860.8 1644.8,879.6 1647.9,902.5 1651,929.6 1655.2,948.3 1658.3,937.9 1661.5,908.8 1664.6,885.8 1667.7,862.9 1670.8,837.9 1674,831.7 1677.1,840 1680.2,856.7 1683.3,877.5 1687.1,898.3 1689.6,892.1 1691.7,877.5 1693.8,856.7 1695.8,829.6 1697.9,806.7 1700,783.8 1703.1,771.2 1706.2,758.8 1709.4,731.7 1712.5,702.5 1713.1,700.4 1716.2,691 1719.4,706.7 1722.5,731.7 1725.6,760.8 1727.7,790 1729.8,823.3 1731.9,856.7 1734,885.8 1737.1,919.2 1740.2,940 1744.4,952.5 1747.5,958.8 1750.6,950.4 1753.8,927.5 1756.9,900.4 1760,875.4 1762.1,854.6 1764.2,850.4 1767.3,858.8 1770.4,875.4 1773.5,890 1776.7,904.6 1779.8,910.8 1782.9,896.2 1786,877.5 1789.2,856.7 1792.3,831.7 1795.4,806.7 1797.5,790 1800.6,780.6 1803.8,785.8 1806.9,800.4 1809,812.9 1812.1,837.9 1814.2,858.8 1817.3,854.6 1820.4,842.1 1823.5,840 1826.7,846.2 1829.8,847.3 1832.9,840 1836,835.8 1838.1,831.7 1841.2,840 1844.4,854.6 1847.5,861.9 1849.6,842.1 1852.7,815 1855.8,797.3 1859,800.4 1862.1,808.8 1865.2,802.5 1867.3,790 1870.4,771.2 1873.5,766 1876.7,773.3 1878.8,781.7 1880.8,785.8 1882.9,775.4 1886,754.6 1889.2,731.7 1892.3,700.4 1896.5,662.9 1900.6,621.2 1904.8,606.7 1907.9,607.7 1911,623.3 1914.2,656.7 1916.2,698.3 1918.3,744.2 1920,777.5 1921.5,804.6 1923.5,829.6 1925.6,850.4 1928.8,867.1 1932.9,873.3 1936,871.2 1939.2,860.8 1942.3,840 1945.4,817.1 1948.5,800.4 1951.7,794.2 1954.8,796.2 1956.9,810.8 1959,827.5 1962.1,850.4 1965.2,873.3 1968.3,890 1971.5,902.5 1974.6,898.3 1977.7,881.7 1980.8,858.8 1984,833.8 1986,817.1 1989.2,808.8 1992.3,800.4 1994.4,781.7 1996.5,767.1 1999.6,749.4 2002.7,756.7 2005.8,772.3 2009,769.2 2012.1,764 2015.2,769.2 2018.3,777.5 2022.3,806.7 2025.4,802.5 2028.5,785.8 2031.7,778.5 2034.8,790 2037.9,793.1 2042.1,795.2 2045.2,810.8 2048.3,829.6 2051.5,844.2 2054.6,860.8 2057.7,885.8 2060.8,910.8 2064,925.4 2067.1,921.2 2070.2,904.6 2073.3,881.7 2076.5,862.9 2079.6,848.3 2082.7,848.3 2085.8,860.8 2089,877.5 2092.1,894.2 2095.2,915 2097.3,925.4 2097.3,857.2"/>
<line x1="162" y1="819.5" x2="2095.5" y2="819.5" stroke="#000" stroke-width="1.6" />
<line x1="162" y1="781.8" x2="2095.5" y2="781.8" stroke="#d42020" stroke-width="3.3" stroke-dasharray="11.7 10.9"/>
<line x1="162" y1="857.2" x2="2095.5" y2="857.2" stroke="#1010d0" stroke-width="3.3" stroke-dasharray="11.7 10.9"/>
<polyline fill="none" stroke="#000" stroke-width="3.6" stroke-linejoin="round" points="162.1,825.4 165.2,821.2 168.3,819.2 171.5,815 174.6,804.6 177.7,808.8 180.8,817.1 182.9,833.8 185,851.5 188.1,849.4 191.2,840 193.3,836.9 196.5,841 199.6,841 202.7,840 205.8,835.8 210,827.5 212.1,825.4 215.2,834.8 218.3,840 221.5,849.4 225.6,858.8 228.8,848.3 230.8,831.7 232.9,815 236,806.7 238.8,802.5 241.2,781.7 244.4,754.6 246.5,737.9 250.6,733.8 254.8,729.6 257.9,733.8 260,744.2 262.1,765 264.2,790 266.2,815 268.3,844.2 269.4,867.1 272.5,872.3 275.6,876.5 278.8,883.8 282.9,896.2 286,901.5 289.2,892.1 291.2,875.4 293.3,856.7 296.5,833.8 299.6,810.8 302.7,781.7 305.8,737.9 310,698.3 314.2,681.7 318.3,678.5 321.5,690 324.6,710.8 327.7,729.6 329.8,744.2 331.9,765 334,787.9 336,795.2 339.2,794.2 342.3,806.7 345.4,819.2 348.5,829.6 351.7,842.1 355.8,853.5 360,858.8 363.1,844.2 366.2,821.2 368.3,817.1 370.8,817.1 373.5,833.8 376.7,846.2 379.8,848.3 381.9,844.2 385,856.7 387.1,871.2 389.2,877.5 392.3,867.1 394.4,854.6 396.5,825.4 398.5,804.6 401.7,780.6 404.8,785.8 406.9,787.9 409,777.5 412.1,758.8 415.2,744.2 418.3,737.9 421.5,740 424.6,754.6 427.7,769.2 430.8,784.8 434,785.8 437.1,762.9 440.2,750.4 443.3,749.4 446.5,754.6 449.6,769.2 452.7,780.6 455.8,790 459,806.7 461,823.3 463.1,844.2 465.2,858.8 467.9,879.6 471.5,879.6 474.6,885.8 477.3,904.6 480.4,921.2 483.5,925.4 486.7,915 489.8,894.2 492.9,879.6 496,873.3 499.2,874.4 502.3,881.7 505.4,887.9 508.5,889 511.7,879.6 513.8,860.8 515.8,840 519,815 522.1,787.9 525.2,762.9 528.3,731.7 532.5,700.4 536.7,667.1 539.8,643.1 542.9,648.3 545,669.2 547.1,698.3 549.2,735.8 551.2,773.3 553.3,810.8 555.4,840 557.5,865 560.6,892.1 564.8,915 567.9,935.8 571,960.8 574.2,983.8 577.3,969.2 580.4,937.9 583.5,915 586.7,896.2 589.8,881.7 592.9,865 596,854.6 598.1,856.7 600.2,867.1 603.3,878.5 606.5,869.2 609.6,860.8 613.8,869.2 616.9,883.8 621,900.4 625.2,912.9 629.4,925.4 633.5,935.8 637.7,946.2 640.8,935.8 642.9,908.8 645,885.8 648.1,858.8 651.2,837.9 654.4,815 657.5,790 660.6,767.1 663.8,742.1 666.9,742.1 670,750.4 673.1,762.9 675.2,769.2 677.3,794.2 680.4,804.6 682.5,802.5 684.6,790 687.7,777.5 690.8,773.3 694,756.7 698.1,741 701.2,743.1 704.4,756.7 706.5,775.4 708.5,792.1 710.6,815 712.7,835.8 715.8,850.4 719,852.5 722.1,856.7 725.2,848.3 728.3,829.6 731.5,815 734.6,812.9 737.7,810.8 740.8,804.6 744,802.5 747.1,808.8 749.2,818.1 752.3,810.8 755.4,794.2 758.5,779.6 761.7,773.3 764.8,769.2 767.9,775.4 771,792.1 774.2,798.3 777.3,790 780.4,792.1 783.1,800.4 785.2,810.8 788.3,819.2 791.5,806.7 793.5,804.6 795.6,815 797.7,831.7 799.8,844.2 801.9,850.4 805,844.2 808.1,833.8 811.2,835.8 814.4,839 817.5,831.7 819.6,819.2 822.7,816 825.8,820.2 829,818.1 832.1,812.9 835.2,804.6 837.3,790 839.4,771.2 841.5,762.9 844.6,752.5 846.7,742.1 848.8,725.4 851.9,687.9 855,642.1 858.1,627.5 861.2,625.4 863.3,628.5 865.4,646.2 867.5,665 870.6,692.1 873.8,723.3 875.8,752.5 877.9,781.7 880,804.6 882.1,825.4 884.2,848.3 886.2,871.2 888.3,887.9 890.4,885.8 892.5,873.3 894.6,856.7 896.7,848.3 898.8,843.1 901.9,850.4 904,862.9 907.1,859.8 910.2,850.4 912.3,836.9 914.4,844.2 916.5,856.7 918.5,877.5 920.6,898.3 922.7,908.8 925.8,900.4 927.9,890 931,886.9 934.2,883.8 937.3,877.5 939.4,865 941.5,852.5 944.6,846.2 948.8,843.1 951.9,840 955,848.3 957.1,858.8 960.2,860.8 963.3,850.4 966.5,837.9 969.6,825.4 971.7,810.8 973.8,796.2 975.8,781.7 979,754.6 982.1,731.7 986.2,720.2 991.5,719.2 994.6,723.3 997.7,730.6 1000.8,712.9 1004,692.1 1007.1,680.6 1010.2,681.7 1013.3,690 1016.5,704.6 1019.6,725.4 1021.7,748.3 1023.8,775.4 1025.8,798.3 1027.9,821.2 1030,848.3 1032.1,879.6 1034.2,917.1 1037.3,931.7 1039.4,925.4 1041.5,940 1044.6,956.7 1047.7,975.4 1049.8,981.7 1051.9,971.2 1055,948.3 1058.1,917.1 1061.2,890 1064.4,869.2 1067.5,856.7 1070.6,848.3 1073.8,844.2 1076.9,837.9 1080,829.6 1083.1,817.1 1086.2,804.6 1089.4,797.3 1092.5,796.2 1095.2,797.3 1098.3,796.2 1101.5,792.1 1104.6,789 1107.7,791 1110.8,787.9 1114,785.8 1116,786.9 1119.2,793.1 1121.2,795.2 1123.3,787.9 1125.4,773.3 1127.5,762.9 1130.6,752.5 1132.7,754.6 1134.8,748.3 1137.9,731.7 1141,704.6 1144.2,685.8 1147.3,676.5 1150.4,681.7 1153.5,692.1 1156.7,706.7 1158.8,723.3 1160.8,746.2 1162.9,771.2 1165,790 1167.1,806.7 1170.2,821.2 1173.3,821.2 1176.5,810.8 1179.6,796.2 1182.7,779.6 1185.8,760.8 1189,750.4 1192.1,756.7 1194.2,769.2 1196.2,783.8 1199.4,786.9 1202.5,784.8 1205.6,790 1208.8,802.5 1211.9,811.9 1215,812.9 1218.1,802.5 1221.2,791 1224.4,787.9 1226.5,781.7 1229.6,765 1232.7,744.2 1235.8,723.3 1239,720.2 1242.1,731.7 1245.2,750.4 1248.3,771.2 1251.5,796.2 1254.6,808.8 1257.7,819.2 1259.8,829.6 1261.9,844.2 1264,860.8 1267.1,875.4 1271.2,885.8 1274.4,885.8 1277.5,873.3 1280.6,856.7 1283.8,842.1 1286.9,833.8 1290,830.6 1293.1,833.8 1297.3,840 1300.4,846.2 1303.5,854.6 1306.7,858.8 1309.8,840 1311.9,819.2 1314,796.2 1316,773.3 1319.2,727.5 1323.3,677.5 1327.5,631.7 1331.7,611.9 1334.8,614 1337.9,625.4 1341,644.2 1344.2,677.5 1347.3,719.2 1349.4,773.3 1350.8,808.8 1352.5,846.2 1354.6,877.5 1357.7,898.3 1360.8,912.9 1364,927.5 1367.1,942.1 1369.2,948.3 1371.2,940 1373.3,919.2 1376.5,898.3 1379.6,894.2 1382.7,896.2 1385.8,898.3 1389,902.5 1392.1,915 1395.2,931.7 1398.3,948.3 1401.5,958.8 1404.2,923.3 1406.2,902.5 1409.4,885.8 1412.5,875.4 1415.6,867.1 1418.8,854.6 1421.9,854.6 1424,860.8 1426,873.3 1429.2,885.8 1432.3,887.9 1434.4,877.5 1437.5,860.8 1440.6,846.2 1443.8,831.7 1446.9,819.2 1450,816 1453.1,821.2 1456.2,829.6 1459.4,837.9 1462.5,842.1 1465.6,835.8 1467.7,823.3 1469.8,812.9 1472.9,802.5 1475,783.8 1478.1,765 1481.2,750.4 1484.4,737.9 1487.5,719.2 1491.7,700.4 1494.8,708.8 1496.9,725.4 1499,744.2 1501,767.1 1503.1,790 1505.2,817.1 1507.3,833.8 1509.4,827.5 1511.5,812.9 1513.5,800.4 1516.7,792.1 1519.8,783.8 1522.9,781.7 1526,792.1 1529.2,804.6 1533.3,814 1537.5,810.8 1540.6,800.4 1543.8,783.8 1546.9,760.8 1550,753.5 1554.2,754.6 1557.3,760.8 1560.4,777.5 1563.5,790 1566.7,795.2 1569.8,793.1 1572.9,800.4 1576,809.8 1579.2,816 1582.3,819.2 1584.4,829.6 1586.5,844.2 1588.5,867.1 1591.7,892.1 1594.8,890 1596.9,871.2 1599,848.3 1602.1,825.4 1605.2,810.8 1608.3,798.3 1611.5,779.6 1614.6,752.5 1617.7,736.9 1620.8,742.1 1622.9,756.7 1625,781.7 1627.1,808.8 1629.2,827.5 1632.3,837.9 1635.4,842.1 1638.5,850.4 1641.7,860.8 1644.8,879.6 1647.9,902.5 1651,929.6 1655.2,948.3 1658.3,937.9 1661.5,908.8 1664.6,885.8 1667.7,862.9 1670.8,837.9 1674,831.7 1677.1,840 1680.2,856.7 1683.3,877.5 1687.1,898.3 1689.6,892.1 1691.7,877.5 1693.8,856.7 1695.8,829.6 1697.9,806.7 1700,783.8 1703.1,771.2 1706.2,758.8 1709.4,731.7 1712.5,702.5 1713.1,700.4 1716.2,691 1719.4,706.7 1722.5,731.7 1725.6,760.8 1727.7,790 1729.8,823.3 1731.9,856.7 1734,885.8 1737.1,919.2 1740.2,940 1744.4,952.5 1747.5,958.8 1750.6,950.4 1753.8,927.5 1756.9,900.4 1760,875.4 1762.1,854.6 1764.2,850.4 1767.3,858.8 1770.4,875.4 1773.5,890 1776.7,904.6 1779.8,910.8 1782.9,896.2 1786,877.5 1789.2,856.7 1792.3,831.7 1795.4,806.7 1797.5,790 1800.6,780.6 1803.8,785.8 1806.9,800.4 1809,812.9 1812.1,837.9 1814.2,858.8 1817.3,854.6 1820.4,842.1 1823.5,840 1826.7,846.2 1829.8,847.3 1832.9,840 1836,835.8 1838.1,831.7 1841.2,840 1844.4,854.6 1847.5,861.9 1849.6,842.1 1852.7,815 1855.8,797.3 1859,800.4 1862.1,808.8 1865.2,802.5 1867.3,790 1870.4,771.2 1873.5,766 1876.7,773.3 1878.8,781.7 1880.8,785.8 1882.9,775.4 1886,754.6 1889.2,731.7 1892.3,700.4 1896.5,662.9 1900.6,621.2 1904.8,606.7 1907.9,607.7 1911,623.3 1914.2,656.7 1916.2,698.3 1918.3,744.2 1920,777.5 1921.5,804.6 1923.5,829.6 1925.6,850.4 1928.8,867.1 1932.9,873.3 1936,871.2 1939.2,860.8 1942.3,840 1945.4,817.1 1948.5,800.4 1951.7,794.2 1954.8,796.2 1956.9,810.8 1959,827.5 1962.1,850.4 1965.2,873.3 1968.3,890 1971.5,902.5 1974.6,898.3 1977.7,881.7 1980.8,858.8 1984,833.8 1986,817.1 1989.2,808.8 1992.3,800.4 1994.4,781.7 1996.5,767.1 1999.6,749.4 2002.7,756.7 2005.8,772.3 2009,769.2 2012.1,764 2015.2,769.2 2018.3,777.5 2022.3,806.7 2025.4,802.5 2028.5,785.8 2031.7,778.5 2034.8,790 2037.9,793.1 2042.1,795.2 2045.2,810.8 2048.3,829.6 2051.5,844.2 2054.6,860.8 2057.7,885.8 2060.8,910.8 2064,925.4 2067.1,921.2 2070.2,904.6 2073.3,881.7 2076.5,862.9 2079.6,848.3 2082.7,848.3 2085.8,860.8 2089,877.5 2092.1,894.2 2095.2,915 2097.3,925.4"/>
<rect x="447.4" y="593.5" width="63.5" height="418.9" fill="#0072BD" fill-opacity="0.2"/>
<rect x="542.6" y="593.5" width="95.2" height="418.9" fill="#0072BD" fill-opacity="0.2"/>
<rect x="859.8" y="593.5" width="63.5" height="418.9" fill="#0072BD" fill-opacity="0.2"/>
<rect x="1335.7" y="593.5" width="95.2" height="418.9" fill="#0072BD" fill-opacity="0.2"/>
<rect x="1621.3" y="593.5" width="63.5" height="418.9" fill="#0072BD" fill-opacity="0.2"/>
<rect x="1716.5" y="593.5" width="63.5" height="418.9" fill="#0072BD" fill-opacity="0.2"/>
<rect x="1906.8" y="593.5" width="63.5" height="418.9" fill="#0072BD" fill-opacity="0.2"/>
<rect x="2033.7" y="593.5" width="61.8" height="418.9" fill="#0072BD" fill-opacity="0.2"/>
<line x1="162" y1="593.5" x2="2095.5" y2="593.5" stroke="#1a1a1a" stroke-width="3.2" />
<line x1="162" y1="1012.4" x2="2095.5" y2="1012.4" stroke="#1a1a1a" stroke-width="3.4" />
<line x1="162" y1="591.9" x2="162" y2="1014.1" stroke="#1a1a1a" stroke-width="3.4" />
<line x1="2095.5" y1="593.5" x2="2095.5" y2="1012.4" stroke="#333" stroke-width="2.2" />
<line x1="142" y1="970.4" x2="162" y2="970.4" stroke="#1a1a1a" stroke-width="3.2" />
<line x1="2095.5" y1="970.4" x2="2117.5" y2="970.4" stroke="#1a1a1a" stroke-width="3.2" />
<text x="128.5" y="984.4" font-size="39" text-anchor="end" font-weight="normal" >-2</text>
<line x1="142" y1="895" x2="162" y2="895" stroke="#1a1a1a" stroke-width="3.2" />
<line x1="2095.5" y1="895" x2="2117.5" y2="895" stroke="#1a1a1a" stroke-width="3.2" />
<text x="128.5" y="909" font-size="39" text-anchor="end" font-weight="normal" >-1</text>
<line x1="142" y1="819.5" x2="162" y2="819.5" stroke="#1a1a1a" stroke-width="3.2" />
<line x1="2095.5" y1="819.5" x2="2117.5" y2="819.5" stroke="#1a1a1a" stroke-width="3.2" />
<text x="128.5" y="833.5" font-size="39" text-anchor="end" font-weight="normal" >0</text>
<line x1="142" y1="744" x2="162" y2="744" stroke="#1a1a1a" stroke-width="3.2" />
<line x1="2095.5" y1="744" x2="2117.5" y2="744" stroke="#1a1a1a" stroke-width="3.2" />
<text x="128.5" y="758" font-size="39" text-anchor="end" font-weight="normal" >1</text>
<line x1="142" y1="668.6" x2="162" y2="668.6" stroke="#1a1a1a" stroke-width="3.2" />
<line x1="2095.5" y1="668.6" x2="2117.5" y2="668.6" stroke="#1a1a1a" stroke-width="3.2" />
<text x="128.5" y="682.6" font-size="39" text-anchor="end" font-weight="normal" >2</text>
<line x1="142" y1="593.1" x2="162" y2="593.1" stroke="#1a1a1a" stroke-width="3.2" />
<line x1="2095.5" y1="593.1" x2="2117.5" y2="593.1" stroke="#1a1a1a" stroke-width="3.2" />
<text x="128.5" y="607.1" font-size="39" text-anchor="end" font-weight="normal" >3</text>
<line x1="177.7" y1="582.5" x2="177.7" y2="593.5" stroke="#1a1a1a" stroke-width="3.4" />
<line x1="177.7" y1="1012.4" x2="177.7" y2="1023.4" stroke="#1a1a1a" stroke-width="3.4" />
<line x1="209.4" y1="582.5" x2="209.4" y2="593.5" stroke="#1a1a1a" stroke-width="3.4" />
<line x1="209.4" y1="1012.4" x2="209.4" y2="1023.4" stroke="#1a1a1a" stroke-width="3.4" />
<line x1="241.2" y1="582.5" x2="241.2" y2="593.5" stroke="#1a1a1a" stroke-width="3.4" />
<line x1="241.2" y1="1012.4" x2="241.2" y2="1023.4" stroke="#1a1a1a" stroke-width="3.4" />
<line x1="272.9" y1="582.5" x2="272.9" y2="593.5" stroke="#1a1a1a" stroke-width="3.4" />
<line x1="272.9" y1="1012.4" x2="272.9" y2="1023.4" stroke="#1a1a1a" stroke-width="3.4" />
<line x1="304.6" y1="572.5" x2="304.6" y2="593.5" stroke="#1a1a1a" stroke-width="3.4" />
<line x1="304.6" y1="1012.4" x2="304.6" y2="1033.4" stroke="#1a1a1a" stroke-width="3.4" />
<text x="304.6" y="1086.4" font-size="39.5" text-anchor="middle" font-weight="normal" >1965</text>
<line x1="336.3" y1="582.5" x2="336.3" y2="593.5" stroke="#1a1a1a" stroke-width="3.4" />
<line x1="336.3" y1="1012.4" x2="336.3" y2="1023.4" stroke="#1a1a1a" stroke-width="3.4" />
<line x1="368.1" y1="582.5" x2="368.1" y2="593.5" stroke="#1a1a1a" stroke-width="3.4" />
<line x1="368.1" y1="1012.4" x2="368.1" y2="1023.4" stroke="#1a1a1a" stroke-width="3.4" />
<line x1="399.8" y1="582.5" x2="399.8" y2="593.5" stroke="#1a1a1a" stroke-width="3.4" />
<line x1="399.8" y1="1012.4" x2="399.8" y2="1023.4" stroke="#1a1a1a" stroke-width="3.4" />
<line x1="431.5" y1="582.5" x2="431.5" y2="593.5" stroke="#1a1a1a" stroke-width="3.4" />
<line x1="431.5" y1="1012.4" x2="431.5" y2="1023.4" stroke="#1a1a1a" stroke-width="3.4" />
<line x1="463.2" y1="572.5" x2="463.2" y2="593.5" stroke="#1a1a1a" stroke-width="3.4" />
<line x1="463.2" y1="1012.4" x2="463.2" y2="1033.4" stroke="#1a1a1a" stroke-width="3.4" />
<text x="463.2" y="1086.4" font-size="39.5" text-anchor="middle" font-weight="normal" >1970</text>
<line x1="495" y1="582.5" x2="495" y2="593.5" stroke="#1a1a1a" stroke-width="3.4" />
<line x1="495" y1="1012.4" x2="495" y2="1023.4" stroke="#1a1a1a" stroke-width="3.4" />
<line x1="526.7" y1="582.5" x2="526.7" y2="593.5" stroke="#1a1a1a" stroke-width="3.4" />
<line x1="526.7" y1="1012.4" x2="526.7" y2="1023.4" stroke="#1a1a1a" stroke-width="3.4" />
<line x1="558.4" y1="582.5" x2="558.4" y2="593.5" stroke="#1a1a1a" stroke-width="3.4" />
<line x1="558.4" y1="1012.4" x2="558.4" y2="1023.4" stroke="#1a1a1a" stroke-width="3.4" />
<line x1="590.2" y1="582.5" x2="590.2" y2="593.5" stroke="#1a1a1a" stroke-width="3.4" />
<line x1="590.2" y1="1012.4" x2="590.2" y2="1023.4" stroke="#1a1a1a" stroke-width="3.4" />
<line x1="621.9" y1="572.5" x2="621.9" y2="593.5" stroke="#1a1a1a" stroke-width="3.4" />
<line x1="621.9" y1="1012.4" x2="621.9" y2="1033.4" stroke="#1a1a1a" stroke-width="3.4" />
<text x="621.9" y="1086.4" font-size="39.5" text-anchor="middle" font-weight="normal" >1975</text>
<line x1="653.6" y1="582.5" x2="653.6" y2="593.5" stroke="#1a1a1a" stroke-width="3.4" />
<line x1="653.6" y1="1012.4" x2="653.6" y2="1023.4" stroke="#1a1a1a" stroke-width="3.4" />
<line x1="685.3" y1="582.5" x2="685.3" y2="593.5" stroke="#1a1a1a" stroke-width="3.4" />
<line x1="685.3" y1="1012.4" x2="685.3" y2="1023.4" stroke="#1a1a1a" stroke-width="3.4" />
<line x1="717.1" y1="582.5" x2="717.1" y2="593.5" stroke="#1a1a1a" stroke-width="3.4" />
<line x1="717.1" y1="1012.4" x2="717.1" y2="1023.4" stroke="#1a1a1a" stroke-width="3.4" />
<line x1="748.8" y1="582.5" x2="748.8" y2="593.5" stroke="#1a1a1a" stroke-width="3.4" />
<line x1="748.8" y1="1012.4" x2="748.8" y2="1023.4" stroke="#1a1a1a" stroke-width="3.4" />
<line x1="780.5" y1="572.5" x2="780.5" y2="593.5" stroke="#1a1a1a" stroke-width="3.4" />
<line x1="780.5" y1="1012.4" x2="780.5" y2="1033.4" stroke="#1a1a1a" stroke-width="3.4" />
<text x="780.5" y="1086.4" font-size="39.5" text-anchor="middle" font-weight="normal" >1980</text>
<line x1="812.2" y1="582.5" x2="812.2" y2="593.5" stroke="#1a1a1a" stroke-width="3.4" />
<line x1="812.2" y1="1012.4" x2="812.2" y2="1023.4" stroke="#1a1a1a" stroke-width="3.4" />
<line x1="844" y1="582.5" x2="844" y2="593.5" stroke="#1a1a1a" stroke-width="3.4" />
<line x1="844" y1="1012.4" x2="844" y2="1023.4" stroke="#1a1a1a" stroke-width="3.4" />
<line x1="875.7" y1="582.5" x2="875.7" y2="593.5" stroke="#1a1a1a" stroke-width="3.4" />
<line x1="875.7" y1="1012.4" x2="875.7" y2="1023.4" stroke="#1a1a1a" stroke-width="3.4" />
<line x1="907.4" y1="582.5" x2="907.4" y2="593.5" stroke="#1a1a1a" stroke-width="3.4" />
<line x1="907.4" y1="1012.4" x2="907.4" y2="1023.4" stroke="#1a1a1a" stroke-width="3.4" />
<line x1="939.1" y1="572.5" x2="939.1" y2="593.5" stroke="#1a1a1a" stroke-width="3.4" />
<line x1="939.1" y1="1012.4" x2="939.1" y2="1033.4" stroke="#1a1a1a" stroke-width="3.4" />
<text x="939.1" y="1086.4" font-size="39.5" text-anchor="middle" font-weight="normal" >1985</text>
<line x1="970.9" y1="582.5" x2="970.9" y2="593.5" stroke="#1a1a1a" stroke-width="3.4" />
<line x1="970.9" y1="1012.4" x2="970.9" y2="1023.4" stroke="#1a1a1a" stroke-width="3.4" />
<line x1="1002.6" y1="582.5" x2="1002.6" y2="593.5" stroke="#1a1a1a" stroke-width="3.4" />
<line x1="1002.6" y1="1012.4" x2="1002.6" y2="1023.4" stroke="#1a1a1a" stroke-width="3.4" />
<line x1="1034.3" y1="582.5" x2="1034.3" y2="593.5" stroke="#1a1a1a" stroke-width="3.4" />
<line x1="1034.3" y1="1012.4" x2="1034.3" y2="1023.4" stroke="#1a1a1a" stroke-width="3.4" />
<line x1="1066.1" y1="582.5" x2="1066.1" y2="593.5" stroke="#1a1a1a" stroke-width="3.4" />
<line x1="1066.1" y1="1012.4" x2="1066.1" y2="1023.4" stroke="#1a1a1a" stroke-width="3.4" />
<line x1="1097.8" y1="572.5" x2="1097.8" y2="593.5" stroke="#1a1a1a" stroke-width="3.4" />
<line x1="1097.8" y1="1012.4" x2="1097.8" y2="1033.4" stroke="#1a1a1a" stroke-width="3.4" />
<text x="1097.8" y="1086.4" font-size="39.5" text-anchor="middle" font-weight="normal" >1990</text>
<line x1="1129.5" y1="582.5" x2="1129.5" y2="593.5" stroke="#1a1a1a" stroke-width="3.4" />
<line x1="1129.5" y1="1012.4" x2="1129.5" y2="1023.4" stroke="#1a1a1a" stroke-width="3.4" />
<line x1="1161.2" y1="582.5" x2="1161.2" y2="593.5" stroke="#1a1a1a" stroke-width="3.4" />
<line x1="1161.2" y1="1012.4" x2="1161.2" y2="1023.4" stroke="#1a1a1a" stroke-width="3.4" />
<line x1="1193" y1="582.5" x2="1193" y2="593.5" stroke="#1a1a1a" stroke-width="3.4" />
<line x1="1193" y1="1012.4" x2="1193" y2="1023.4" stroke="#1a1a1a" stroke-width="3.4" />
<line x1="1224.7" y1="582.5" x2="1224.7" y2="593.5" stroke="#1a1a1a" stroke-width="3.4" />
<line x1="1224.7" y1="1012.4" x2="1224.7" y2="1023.4" stroke="#1a1a1a" stroke-width="3.4" />
<line x1="1256.4" y1="572.5" x2="1256.4" y2="593.5" stroke="#1a1a1a" stroke-width="3.4" />
<line x1="1256.4" y1="1012.4" x2="1256.4" y2="1033.4" stroke="#1a1a1a" stroke-width="3.4" />
<text x="1256.4" y="1086.4" font-size="39.5" text-anchor="middle" font-weight="normal" >1995</text>
<line x1="1288.1" y1="582.5" x2="1288.1" y2="593.5" stroke="#1a1a1a" stroke-width="3.4" />
<line x1="1288.1" y1="1012.4" x2="1288.1" y2="1023.4" stroke="#1a1a1a" stroke-width="3.4" />
<line x1="1319.9" y1="582.5" x2="1319.9" y2="593.5" stroke="#1a1a1a" stroke-width="3.4" />
<line x1="1319.9" y1="1012.4" x2="1319.9" y2="1023.4" stroke="#1a1a1a" stroke-width="3.4" />
<line x1="1351.6" y1="582.5" x2="1351.6" y2="593.5" stroke="#1a1a1a" stroke-width="3.4" />
<line x1="1351.6" y1="1012.4" x2="1351.6" y2="1023.4" stroke="#1a1a1a" stroke-width="3.4" />
<line x1="1383.3" y1="582.5" x2="1383.3" y2="593.5" stroke="#1a1a1a" stroke-width="3.4" />
<line x1="1383.3" y1="1012.4" x2="1383.3" y2="1023.4" stroke="#1a1a1a" stroke-width="3.4" />
<line x1="1415.1" y1="572.5" x2="1415.1" y2="593.5" stroke="#1a1a1a" stroke-width="3.4" />
<line x1="1415.1" y1="1012.4" x2="1415.1" y2="1033.4" stroke="#1a1a1a" stroke-width="3.4" />
<text x="1415.1" y="1086.4" font-size="39.5" text-anchor="middle" font-weight="normal" >2000</text>
<line x1="1446.8" y1="582.5" x2="1446.8" y2="593.5" stroke="#1a1a1a" stroke-width="3.4" />
<line x1="1446.8" y1="1012.4" x2="1446.8" y2="1023.4" stroke="#1a1a1a" stroke-width="3.4" />
<line x1="1478.5" y1="582.5" x2="1478.5" y2="593.5" stroke="#1a1a1a" stroke-width="3.4" />
<line x1="1478.5" y1="1012.4" x2="1478.5" y2="1023.4" stroke="#1a1a1a" stroke-width="3.4" />
<line x1="1510.2" y1="582.5" x2="1510.2" y2="593.5" stroke="#1a1a1a" stroke-width="3.4" />
<line x1="1510.2" y1="1012.4" x2="1510.2" y2="1023.4" stroke="#1a1a1a" stroke-width="3.4" />
<line x1="1542" y1="582.5" x2="1542" y2="593.5" stroke="#1a1a1a" stroke-width="3.4" />
<line x1="1542" y1="1012.4" x2="1542" y2="1023.4" stroke="#1a1a1a" stroke-width="3.4" />
<line x1="1573.7" y1="572.5" x2="1573.7" y2="593.5" stroke="#1a1a1a" stroke-width="3.4" />
<line x1="1573.7" y1="1012.4" x2="1573.7" y2="1033.4" stroke="#1a1a1a" stroke-width="3.4" />
<text x="1573.7" y="1086.4" font-size="39.5" text-anchor="middle" font-weight="normal" >2005</text>
<line x1="1605.4" y1="582.5" x2="1605.4" y2="593.5" stroke="#1a1a1a" stroke-width="3.4" />
<line x1="1605.4" y1="1012.4" x2="1605.4" y2="1023.4" stroke="#1a1a1a" stroke-width="3.4" />
<line x1="1637.1" y1="582.5" x2="1637.1" y2="593.5" stroke="#1a1a1a" stroke-width="3.4" />
<line x1="1637.1" y1="1012.4" x2="1637.1" y2="1023.4" stroke="#1a1a1a" stroke-width="3.4" />
<line x1="1668.9" y1="582.5" x2="1668.9" y2="593.5" stroke="#1a1a1a" stroke-width="3.4" />
<line x1="1668.9" y1="1012.4" x2="1668.9" y2="1023.4" stroke="#1a1a1a" stroke-width="3.4" />
<line x1="1700.6" y1="582.5" x2="1700.6" y2="593.5" stroke="#1a1a1a" stroke-width="3.4" />
<line x1="1700.6" y1="1012.4" x2="1700.6" y2="1023.4" stroke="#1a1a1a" stroke-width="3.4" />
<line x1="1732.3" y1="572.5" x2="1732.3" y2="593.5" stroke="#1a1a1a" stroke-width="3.4" />
<line x1="1732.3" y1="1012.4" x2="1732.3" y2="1033.4" stroke="#1a1a1a" stroke-width="3.4" />
<text x="1732.3" y="1086.4" font-size="39.5" text-anchor="middle" font-weight="normal" >2010</text>
<line x1="1764" y1="582.5" x2="1764" y2="593.5" stroke="#1a1a1a" stroke-width="3.4" />
<line x1="1764" y1="1012.4" x2="1764" y2="1023.4" stroke="#1a1a1a" stroke-width="3.4" />
<line x1="1795.8" y1="582.5" x2="1795.8" y2="593.5" stroke="#1a1a1a" stroke-width="3.4" />
<line x1="1795.8" y1="1012.4" x2="1795.8" y2="1023.4" stroke="#1a1a1a" stroke-width="3.4" />
<line x1="1827.5" y1="582.5" x2="1827.5" y2="593.5" stroke="#1a1a1a" stroke-width="3.4" />
<line x1="1827.5" y1="1012.4" x2="1827.5" y2="1023.4" stroke="#1a1a1a" stroke-width="3.4" />
<line x1="1859.2" y1="582.5" x2="1859.2" y2="593.5" stroke="#1a1a1a" stroke-width="3.4" />
<line x1="1859.2" y1="1012.4" x2="1859.2" y2="1023.4" stroke="#1a1a1a" stroke-width="3.4" />
<line x1="1891" y1="572.5" x2="1891" y2="593.5" stroke="#1a1a1a" stroke-width="3.4" />
<line x1="1891" y1="1012.4" x2="1891" y2="1033.4" stroke="#1a1a1a" stroke-width="3.4" />
<text x="1891" y="1086.4" font-size="39.5" text-anchor="middle" font-weight="normal" >2015</text>
<line x1="1922.7" y1="582.5" x2="1922.7" y2="593.5" stroke="#1a1a1a" stroke-width="3.4" />
<line x1="1922.7" y1="1012.4" x2="1922.7" y2="1023.4" stroke="#1a1a1a" stroke-width="3.4" />
<line x1="1954.4" y1="582.5" x2="1954.4" y2="593.5" stroke="#1a1a1a" stroke-width="3.4" />
<line x1="1954.4" y1="1012.4" x2="1954.4" y2="1023.4" stroke="#1a1a1a" stroke-width="3.4" />
<line x1="1986.1" y1="582.5" x2="1986.1" y2="593.5" stroke="#1a1a1a" stroke-width="3.4" />
<line x1="1986.1" y1="1012.4" x2="1986.1" y2="1023.4" stroke="#1a1a1a" stroke-width="3.4" />
<line x1="2017.9" y1="582.5" x2="2017.9" y2="593.5" stroke="#1a1a1a" stroke-width="3.4" />
<line x1="2017.9" y1="1012.4" x2="2017.9" y2="1023.4" stroke="#1a1a1a" stroke-width="3.4" />
<line x1="2049.6" y1="572.5" x2="2049.6" y2="593.5" stroke="#1a1a1a" stroke-width="3.4" />
<line x1="2049.6" y1="1012.4" x2="2049.6" y2="1033.4" stroke="#1a1a1a" stroke-width="3.4" />
<text x="2049.6" y="1086.4" font-size="39.5" text-anchor="middle" font-weight="normal" >2020</text>
<line x1="2081.3" y1="582.5" x2="2081.3" y2="593.5" stroke="#1a1a1a" stroke-width="3.4" />
<line x1="2081.3" y1="1012.4" x2="2081.3" y2="1023.4" stroke="#1a1a1a" stroke-width="3.4" />
<text transform="translate(73.5,803) rotate(-90)" font-size="48" text-anchor="middle">s.d.</text>
<text transform="translate(0,39.8) scale(1,1.1)" font-size="58" font-weight="bold" fill="#000">a</text>
<text x="1141" y="36.5" font-size="46" text-anchor="middle" font-weight="bold" fill="#000">Niño3.4 SST anomaly</text>
<clipPath id="clipb"><rect x="187.5" y="1210.0" width="788.8" height="1011.5"/></clipPath>
<g clip-path="url(#clipb)">
<rect x="187.5" y="1210.0" width="788.8" height="1011.5" fill="#8c1ee6"/>
<path fill="#4010f0" d="M192 2222l784 0 0-1012-788 0 0 1012z"/>
<path fill="#0a10fa" d="M192 2222l784 0 0-1012-788 0 0 1012zM698 1751l-8-3-6-4-5-7 0-7 3-7 12-14 11-10 10-4 12 0 3 3 1 4-4 14 2 21-4 7-5 4-9 3-6 1zM615 1730l-3-7-1-7 1-7 4-8 5-3 5 0 5 0 7 4 8 7 4 7-1 7-6 7-7 3-10 1-5-1z"/>
<path fill="#3048e0" d="M192 2222l784 0 0-1012-788 0 0 1012zM587 1758l-10-7-20-20-5-8-5-14-1-14 2-14 4-8 5-3 10-2 30 4 19-1 10 2 10 5 20 16 10 6 5 0 5-1 24-18 5-2 10-1 20 2 15 4 10 4 14 9 5 2 15 0 22-4 12-1 20 1 16 7 6 7 4 7 4 14-1 14-3 7-6 4-5 2-10 0-5-1-7-5-13-15-5-3-4-2-5 0-10 4-15 16-5 4-10 3-29-1-25 6-15 1-20-2-24-8-10-1-15 1-29 6-10 0z"/>
<path fill="#4060e0" d="M192 2222l784 0 0-320-10-1-29 3-10-1-8-5-17-20-5-3-19-8-5-4-1-7 2-21-2-7-5-7-14-6-20-2-39 3-35-3-14 1-10 5-14 16-6 5-10 2-10-1-5-4-10-16-4-3-5-3-10-1-25 3-10-2-10-8-14-17-6-4-24-11-10-10-20-30-14-54 1-7 2-7 6-7 5-4 11-3 29-5 25-7 9-1 10 2 10 5 20 20 10 6 5 1 23-7 11-1 59 10 25 6 15 1 44-2 10 2 16 5 16 7 10 7 6 7 3 7 0 7-2 21 5 21 0 7-5 21 2 7 5 7 25 14 13 17 10 5 14 0 0-633-788 0 0 1012z"/>
<path fill="#2080f0" d="M192 2222l784 0 0-302-34 1-20-2-17-7-22-17-10-3-50 2-39-4-36 1-13-3-11-4-9-5-10-3-10 0-19 2-9-1-6-2-7-5-5-7-4-14-4-4-30-15-25-23-24-16-5-5-15-26-12-16-2-7-1-21-4-11-5-7-5-4-10-6-5-5-1-2-1-7 4-21 1-7 2-2 5-2 30-1 19-3 15-5 20-10 15-3 14 1 20 3 10 6 15 16 10 4 29 3 30 10 15 2 29 1 30 6 34 0 16 2 50 14 15 7 8 7 11 14 2 7 1 7-5 28 1 14 2 7 3 2 5 3 10 1 14 0 0-575-788 0 0 1012z"/>
<path fill="#10a0ff" d="M192 2222l784 0 0-288-34 1-15-2-35-11-24-14-10-2-10-1-25 2-9-1-30-7-39 1-10-2-30-9-34 0-10-1-14-4-15-7-8-7-11-14-8-7-20-14-18-15-20-13-9-7-3-7-1-14-1-7-5-8-19-13-3-7 6-21-1-7-8-7-20-7-5-4-5-8-1-9 1-21-1-22 0-7 3-7 3-5 5-4 10 0 30 10 19 2 15-3 29-14 11-2 64 1 5 1 5 3 3 4 9 14 7 5 8 2 22 5 20 8 10 2 19-1 10 1 25 9 10 2 34 0 10 1 34 9 35 7 15 6 20 13 9 2 5-1 0-491-788 0 0 1012z"/>
<path fill="#00beff" d="M192 2222l784 0 0-275-10 0-24 3-10 0-10-3-15-7-15-5-29-5-20-8-29-4-30-10-10-1-29 1-10-1-30-9-39-1-59-14-9-6-11-13-5-4-20-11-10-6-14-15-25-17-15-16-18-9-7-6-3-8-11-35 0-21-3-21-1-14 1-50 3-18 5-20 5-5 4 0 15 4 17 11 13 7 15 3 14 0 30-10 20-4 59-1 15 1 15 4 14 12 5 2 5 1 5-1 20-6 10 1 8 5 12 14 4 4 30 14 15 5 9 1 25-1 10 1 30 9 12 3 37 1 29 3 10 0 0-461-788 0 0 1012z"/>
<path fill="#50bef0" d="M192 2222l784 0 0-261-10 0-24 3-15-1-10-3-15-8-10-4-9-1-25 2-10-1-5-2-20-12-29-7-20-7-34-3-35-10-10-1-24 1-40-9-29-4-10-3-5-4-10-12-10-8-30-11-4-3-6-4-15-14-21-14-13-10-17-11-5-7-2-21-3-7-16-21-1-7 3-28-5-28 1-28-2-15-7-21-1-7 12-35 4-7 5-7 5-3 5-3 10-1 9 2 10 5 21 14 19 19 10 4 9 1 10-1 45-7 64-1 24 1 25 5 30 2 10 1 12 4 10 7 22 21 11 7 14 5 9 1 30-2 10 2 29 8 25-5 35 5 19 1 0-443-788 0 0 1012zM201 2214l-2-7-1-14 1-42-2-35 2-7 3-7 5-7 5-3 5-1 5 1 5 2 5 7 3 8 0 7 0 56-3 21-5 16-4 5-6 4-5 2-5 0z"/>
<path fill="#96cdf0" d="M191 2214l-1-98 2-14 5-13 5-8 5-5 10-6 10-1 10 4 5 4 2 4 5 14 2 14 0 56-9 35-5 14-5 8 744 0 0-246-24-1-25-2-15-3-20-8-9-2-40 3-17-1-22-8-30-6-28-14-36-11-10-1-20 5-4 1-10-4-6-5-11-7-13-4-15-2-29-1-10-2-7-5-7-14-6-7-15-5-29-6-5-3-15-15-9-6-11-4-9-6-12-11-13-9-5-5-3-7 3-21-1-7-4-7-13-14-4-7 0-7 2-21-2-7-8-8-14-6-10-7-5-7-1-7 1-7 4-7 11-13 3-9 1-7-1-21 1-7 4-7 12-14 4-7 5-17 5-11 6-7 9-5 10-3 10-2 14 2 10 5 20 15 20 14 8 9 6 6 10 4 15 0 44-4 84-1 84 15 15 1 20-2 34-9 10-1 5 2 4 3 7 21 4 4 5 3 9 2 25-1 10 1 5 2 15 12 10 5 9 2 10 0 0-430-788 0 0 1012 4 0zM241 1329l-4-7-1-7 3-14 3-7 5-5 10-6 19-6 10-1 10 1 8 3 7 4 4 3 6 7 2 7-2 4-5 2-15 3-10 4-5 3-15 16-5 2-5 1-9-1-5-2z"/>
<path fill="#bee1fa" d="M247 2222l690 0-2-8 4-7 3-1 5-3 10-2 19 0 0-211-10 0-34-7-49-8-50 1-19-2-15-4-49-19-10-3-10-1-30 3-29-3-24-6-10-7-6-8-5-3-10-3-83 0-15-1-10-4-20-13-19-10-14-15-11-9-5-5-3-7-4-21-4-7-6-7-3-7 0-14 3-21-2-7-16-21-3-7-2-21-5-7-14-7-9-7-4-7-4-14 0-14 1-7 4-7 10-15 4-7 1-7-1-21 3-8 11-20-1-7-5-3-20-5-10-5-20-16-18-13-6-7-2-7 0-7 3-21-1-28 2-28 3-4 5-2 39-5 5 1 7 3 18 16 19 14 4 5 3 7 4 21 2 7 6 7 6 4 10 2 29-2 10 2 10 7 15 17 10 7 5 2 10 2 44-3 15 2 5 2 10 7 9 12 3 2 7 3 15 0 20-2 10 0 24 5 25 9 15 3 14 2 45 1 15-1 9-2 55-19 19-5 79 2 0-347-656 0 5 7 0 7-2 7-8 21 0 7 4 7 21 20 5 6 4 9 2 14-2 7-4 7-5 4-14 7-5 3-3 7 0 8 1 21-4 35-4 6-10 1-30-1-10 1-9 3-6 4-4 7-1 7 1 21 0 21 4 21-1 7-3 7-14 14-11 8-25 15-4 5 0 535 8-36 8-14 2-7 2-14-1-28 1-7 4-7 5-3 5 0 25 4 10 1 4-1 5-3 5-5 5-11 5-5 10-2 11 4 8 7 7 14 3 14 1 21 2 7 5 7 17 18 3 3 2 7-2 21 0 7 3 7 8 14 2 7-1 7-6 14-1 14 1 7 6 21 0 14-1 7-4 7-10 7-5 0-5-2-4-5-10-19-5-5-5-4-15-5-15-2-5 0-5 1-5 3-5 6-4 9-13 31zM731 1329l-6-7 0-7 5-14 5-7 6-7 9-4 14-3 15 3 9 4 5 7-7 7-12 6-10 6-14 14-5 3-5 1zM836 1329l-7-7-2-7 0-7 4-7 12-14 9-7 6-3 10-1 24 5 35-2 10 3 6 5 2 7 0 7-4 14-4 8-5 5-5 3-10 1-29-5-40 5z"/>
<path fill="#fff5a0" d="M257 2222l67 0-10-22-6-7-7-5-5-1-10-1-10 2-5 3-5 5-6 11-5 15zM365 2222l555 0 2-10 5-11 9-8 16-5 10-1 14 0 0-184-10 0-9-1-20-8-15-4-15-1-44 2-30-5-34-4-15-4-19-9-15-5-15-2-25 1-15-2-49-10-59-18-25-4-44-1-40 4-24-2-10 2-25 16-10 1-7-1-5-7 0-7 2-5 5-4 15-6 9-7 3-7 3-14-2-7-7-14-5-14-3-7-8-7-12-7-7-7-1-7 1-7 8-21 1-7 0-7-18-42-6-8-19-13-5-7-2-14 0-21 0-14 4-14 7-15 1-7 0-7-5-14 0-14-1-7-4-7-13-14-17-13-30-16-10-2-10 0-14 6-8 4-22 18-24 10-6 5-1 2-2 7 2 21-2 7-6 8 0 420 3-6 2-14-1-35 1-7 2-7 2-3 5-3 20-5 9-3 5-7 2-7 4-4 5-4 10-1 11 2 38 17 10 6 19 23 17 10 0 7-6 14-2 7 1 7 3 7 12 14 4 7 2 7-2 21 3 7 15 21 4 7 11 21 1 7-5 21 0 21-2 7-6 7-24 22zM285 1751l-8-7 0-7 4-5 10-3 10 0 10 3 7 5 3 7-2 7-8 3-15 0zM282 1695l-6-7-2-7 0-14 2-9 5-8 5-4 10-2 7 2 8 5 5 11 2 12-1 7-2 7-7 7-7 3-10 0zM740 1569l14 2 25-2 25 2 15-2 22-8 32-16 15-5 14-1 35 2 39-1 0-230-5-2-5 1-4 3-20 24-5 4-10 4-10-2-20-5-9-1-15 2-25 8-10 0-10-1-9-3-5-4-8-16-7-6-10-2-10 2-10 6-10 16-5 4-4 2-10 0-10-2-12-6-6-7-1-7 5-14 14-26 5-5 10-5 14-2 15 1 15 3 25 7 5-1 4-2 6-5 9-12 5-5 10-3 15-2 49 2 59-3 0-40-626 0 1 14-2 28 1 7 12 21 2 7 1 14 0 21-1 14-4 11-6 11-2 7 1 14 2 6 5 5 5 3 20 8 8 6 16 14 15 9 7 5 4 7 2 21 2 6 5 8 5 4 5 1 29 2 10 2 13 5 10 7 19 21 7 4 15 3 35-1 15 4 24 10 10 2 25 0 10 2 15 4 39 19z"/>
<path fill="#ffe040" d="M271 2222l37 0 0-8-3-7-4-5-5-3-10-1-6 2-7 7-3 7-1 8zM390 2222l519 0 8-23 5-7 5-6 10-5 15-5 14-3 10 0 0-156-24 0-10-1-5-2-15-9-10-2-15-1-29 3-10 0-10-3-15-6-10-3-39-2-10-3-15-8-9-4-10-1-30 0-10-1-29-9-94-25-20-4-19-1-15 1-40 10-29 0-10 2-20 9-20 6-5 2-4 4-1 7 2 14-1 7-5 3-20 9-7 9-1 7 3 7 12 14 4 7 1 7-2 14 1 7 8 14 22 28 4 7 3 14 3 35 0 14-2 7-3 7-7 6-22 9zM345 1962l15-1 15-5 5-5 1-3 0-7-1-8-5-7-13-7-7-5-2-2-2-7 0-7 3-21-1-28 4-28-3-14-3-7-7-7-17-14-11-7-10-4-30-6-19-6-10-1-10 2-20 5-15 6-5 5-5 12-1 22 1 29 8 20 0 7-2 14 2 7 9 7 18 9 14 12 6 4 11 3 23 5 10 3 30 17 14 13 5 4zM291 1618l10 1 5-1 5-1 5-4 5-10 4-14-1-7-2-7-5-7-11-7-10-2-10 1-5 4-2 4-2 14 0 14 1 7 3 8 5 5zM740 1555l10 2 29-2 25 3 15-1 7-3 12-7 13-14 7-3 15-3 19-1 40 2 44 0 0-194-5-2-5 1-4 3-15 16-5 4-10 4-10-1-20-11-10-3-4 0-10 2-25 10-10 1-24 0-10 1-20 9-10 2-10-1-19-10-30-9-10-4-4-3-6-6-2-8 1-7 2-7 11-21 4-21 5-7 9-6 15-4 34 2 10-1 5-3 2-2 4-21 4-7 10-6 9-2 10 0 20 8 10 2 49-3 64 3 0-16-544 0 3 7 0 7-1 8-5 11-5 5-5 3-24 9-5 4-6 9-4 14-1 14 3 57 0 7 3 7 6 7 28 20 20 12 10 10 4 7 3 7 1 7 0 14 4 7 8 4 24 6 29 11 13 7 16 14 6 4 10 1 20-1 10 1 39 18 10 2 30 4 14 3 20 6z"/>
<path fill="#ffc820" d="M434 2222l463 0 5-8 10-26 7-9 8-6 35-19 9-2 5 1 0-116-19 0-30-4-10-3-19-12-6-1-9-1-20 2-10 0-10-4-15-8-9-4-10-1-25 2-10-1-10-3-14-9-10-2-25 1-10-1-31-12-24-7-43-12-55-12-14-1-10 0-35 9-29 4-15 3-22 9-8 7 0 21-3 7-7 8-18 13 0 7 7 14 1 7 0 21 1 7 7 14 13 14 4 7 2 7 4 21 10 28-1 14-7 36zM212 1838l10 3 10-1 5-2 4-3 3-7 0-14-4-14-3-7-5-6-5-2-10-1-7 2-3 2-4 5-3 7-1 14 3 14 5 7zM296 1814l10 2 11-2 4-3 2-4 0-7-4-7-7-7-6-4-10-3-8 0-7 4-2 3-1 7 3 7 4 7zM730 1533l20 4 9 1 20-1 10-2 4-2 4-7 1-14 3-7 3-2 5-2 10 1 24 8 15 2 25-1 9-3 8-3 4-7 0-7 1-49 2-21 0-7-2-7-3-4-3-3-21-14-10-10-9-4-16-3-20 1-9 2-25 11-15 2-15-4-29-16-35-11-10-5-5-6-1-7 2-7 4-14 11-21 0-7-5-14-1-7 3-7 2-2 25-16 3-3 4-7 1-7-2-7-6-7-259 0-1 7 0 14 2 14 7 21 0 7 0 16-3 12-2 4-5 3-10 1-10-4-5-4-10-15-5-6-5-2-5 0-5 1-5 5-4 9-1 8 2 21 2 28 2 8 4 5 5 4 15 8 20 18 10 11 11 17 16 28 7 7 10 6 22 8 27 6 10 0 25-3 10 2 10 4 14 11 19 22 11 7 15 4 44 6zM774 1218l5 0 5-1 17-7-40 0 3 4z"/>
<path fill="#ffa800" d="M454 2216l2 6 424 0 10-8 4-7 3-7 3-21 3-7 4-5 20-14 16-16 9-7 10-5 4-2 10 1 0-58-5 1-5 0-4-2-16-12-14-6-35-4-19-8-30-4-10-4-15-9-9-4-10 0-30 2-34-4-20 3-10-1-5-2-18-15-12-7-9-4-25-5-26-12-23-6-40-4-19-1-45 5-19 4-6 2-9 5-9 9-25 42-2 7 1 21-1 21 1 7 3 7 13 14 4 7 1 7 0 21 2 7 13 21 2 7 0 7-5 28zM671 1512l9-1 5-3 2-3 2-14 4-7 21-14 16-17 10-4 10 1 4 2 5 5 10 14 5 4 5 2 35 2 5 2 14 11 14 6 11 1 10-1 9-7 3-7-1-7-6-21 0-7 0-7 6-21 0-7-4-7-8-7-14-11-10-4-10-1-10 1-19 9-10 2-15 2-15-1-10-2-9-4-17-12-15-7-13-3-29-4-10-4-15-18-5-3-20-7-5-4-4-7-1-7 2-14-1-7-7-7-18-9-8-5-4-7 2-7 5-4 25-13 5-4 5-7 1-7-2-9-4-5-72 0 6 7 1 7-2 7-3 4-4 5-5 3-25 9-8 7-1 7 4 8 5 2 20 6 9 5 4 7-2 7-6 5-24 9-16 15-20 12-4 5-5 11-2 14 2 14 4 14 4 7 6 10 24 25 8 7 8 3 10 2 10 0 19-6 10-1 15 1 15 4 10 6 31 26 15 21 8 5z"/>
<path fill="#ff7800" d="M473 2221l1 1 249 0 13-8 30-28 8-5 10-4 10-2 25 4 14 0 20-1 10-2 5-3 11-15 8-7 30-19 19-16 7-7 3-7 1-7-1-7-7-14-6-7-6-4-5-2-25 0-8-1-31-12-30-6-14-1-25 2-25-8-14-3-35 1-10 0-5-1-10-5-14-13-5-3-5-1-5 0-20 5-10 0-8-4-7-7-12-21-12-6-15-1-25 6-14 1-15-1-25-6-10 0-5 1-10 6-24 23-9 12-3 7-1 7 2 21-2 21 2 7 11 18 4 10 0 21 1 7 4 7 12 14 4 7 2 7-1 7-5 28 1 7zM547 1423l5 1 10 0 11-3 5-7 1-7-3-7-4-5-5-3-5-1-10 1-5 1-5 4-2 3-3 7 1 7 4 6zM577 1226l5 2 5-2 4-2-4-5-6-2-4 3-2 4z"/>
<path fill="#ff5000" d="M498 2222l115 0 8-8 10-7 5-2 10-1 15 2 24 9 10 1 11-2 12-7 5-7 7-12 5-5 24-16 20-16 5-2 5-2 10 0 24 6 15 2 10-2 10-5 25-18 26-21 5-7 1-7-1-7-5-7-7-3-49-19-15-1-34 3-25-1-10-3-15-8-9-4-10-1-30 2-10-2-29-9-36-3-14-5-19-12-10-4-10 0-25 3-34-3-15-1-15 2-15 3-9 5-5 5-4 7-2 42 2 7 8 21 3 21 2 7 5 7 12 14 4 7 5 14 5 21 1 7-4 22z"/>
<path fill="#ff2000" d="M557 2208l10 3 10 1 10-2 5-1 10-7 19-16 10-6 10-2 25 0 10-3 19-18 10-6 10 0 20 4 10-1 6-3 7-7 6-14 5-5 40-2 29 3 15-2 14-8 11-11 5-10-2-7-8-8-13-6-12-3-10 0-24 2-35 0-9 1-6 3-4 4 0 7 3 21-1 7-3 5-9 1-10-1-14-5-8-7-3-7-2-7-1-21-3-7-7-7-17-8-19-4-35-3-34-11-15-3-30 2-29 6-5 0-25-4-10 1-5 3-5 5-3 9 0 7 5 42 3 15 4 6 15 21 16 25 29 29 10 8z"/>
<path fill="#e60000" d="M562 2181l15 3 10-1 5-2 12-9 17-17 5-3 5-2 10 1 20 5 10-2 5-3 6-7 5-7 0-7-4-7-1-7 13-13 4-8 1-14-2-7-5-7-13-8-14-2-15 1-20 7-5-1-15-11-9-4-15-4-15-1-10 1-10 2-10 5-14 10-20 7-5 3-5 9-4 14-1 7 2 7 8 14 11 21 4 7 10 10 14 9z"/>
<path fill="#c80000" d="M552 2152l15 4 10 1 10-2 5-2 19-16 26-14 11-14 3-2 25-6 9-6 5-7 0-7-2-7-8-6-4-3-10-1-10 2-5 3-5 5-5 11-5 7-5 0-5-2-5-4-14-19-10-7-10-3-10 0-10 1-6 2-9 7-9 14-1 7 1 14-1 7-9 21 1 7 5 7z"/>
<path fill="#dc4040" d="M582 2124l10 1 10-3 11-6 4-7-2-7-13-23-5-6-10-3-10 1-5 3-4 7-1 7 2 14 3 11 5 8zM661 2091l5 1 5-1 6-3 3-7-4-6-5-2-5 0-5 2-5 6 1 7z"/>
<path fill="none" stroke="#ffffff" stroke-width="4.4" stroke-linejoin="round" stroke-linecap="round" d="M357.4 1285.9L373.2 1288.1L395.6 1285.9L413.6 1294.8L424.8 1312.8L429.3 1339.8L427.1 1366.7L418.1 1389.2L404.6 1402.7L382.2 1409.4L368.7 1402.7L355.2 1393.7L341.7 1402.7L328.2 1411.6L314.8 1416.1L301.3 1420.6L287.8 1429.6L278.8 1447.6L269.8 1461.1L260.9 1465.6L247.4 1456.6L233.9 1438.6L224.9 1429.6L215.9 1438.6L207.0 1465.6L200.2 1497.0L193.5 1519.5M207.0 1214.0L215.9 1232.0L224.9 1263.4L229.4 1294.8L229.4 1321.8L224.9 1348.8L215.9 1375.7L207.0 1398.2L202.5 1416.1M238.4 1214.0L242.9 1240.9L247.4 1272.4L251.9 1308.3L256.4 1339.8L265.4 1366.7L269.8 1393.7L274.3 1375.7L278.8 1339.8L283.3 1317.3L285.6 1285.9L287.8 1249.9L292.3 1218.5M620.3 1714.9L624.7 1681.2L638.2 1654.2L674.2 1636.3L710.1 1622.8L741.5 1609.3L764.0 1591.3L782.0 1584.6L808.9 1591.3L840.4 1600.3L871.8 1609.3L898.8 1622.8L925.7 1636.3L952.7 1649.7L966.2 1663.2M656.2 1714.9L665.2 1690.2L696.6 1676.7L732.6 1658.7L759.5 1636.3L782.0 1622.8L817.9 1627.3L844.9 1636.3L871.8 1649.7L894.3 1658.7L916.7 1676.7L934.7 1699.2L943.7 1714.9M692.1 1714.9L710.1 1699.2L737.1 1681.2L764.0 1667.7L791.0 1663.2L817.9 1672.2L853.9 1681.2L880.8 1694.7L898.8 1714.9M714.6 1714.9L737.1 1703.7L764.0 1694.7L786.5 1692.4L808.9 1703.7L822.4 1714.9M714.6 1714.9L696.6 1754.9L705.6 1781.9L728.1 1804.3L764.0 1813.3L791.0 1808.8L808.9 1790.9L817.9 1763.9L822.4 1737.0L822.4 1714.9M732.6 1737.0L746.0 1723.5L764.0 1719.0L782.0 1723.5L791.0 1741.4L791.0 1768.4L782.0 1786.4L764.0 1793.1L746.0 1786.4L728.1 1768.4L728.1 1750.4L732.6 1737.0M692.1 1714.9L665.2 1737.0L656.2 1763.9L665.2 1799.8L687.6 1826.8L719.1 1840.3L755.0 1844.8L791.0 1844.8L817.9 1853.8L826.9 1835.8L835.9 1813.3L853.9 1799.8L871.8 1790.9L889.8 1772.9L894.3 1745.9L898.8 1714.9M656.2 1714.9L633.7 1737.0L629.2 1768.4L638.2 1799.8L656.2 1826.8L674.2 1858.2L692.1 1880.7L719.1 1894.2L755.0 1898.7L777.5 1903.2L808.9 1916.6L844.9 1930.1L876.3 1939.1L907.8 1948.1L934.7 1952.6L952.7 1961.6L970.7 1975.0M943.7 1714.9L952.7 1745.9L959.4 1799.8L963.9 1867.2L966.2 1912.2M620.3 1714.9L597.8 1745.9L575.3 1768.4L561.9 1799.8L552.9 1831.3L539.4 1858.2L521.4 1871.7L494.5 1878.5L463.0 1883.0L431.6 1885.2L409.1 1887.4L377.7 1889.7L350.7 1885.2L328.2 1883.0L305.8 1885.2L278.8 1889.7L251.9 1885.2L224.9 1871.7L202.5 1867.2L193.5 1876.2M445.0 2224.8L458.5 2195.2L485.5 2168.2L503.5 2141.3L521.4 2114.3L539.4 2091.9L552.9 2064.9L566.3 2033.5L575.3 1997.5L579.8 1970.6L579.8 1943.6L566.3 1930.1L548.4 1925.6L521.4 1921.1L494.5 1916.6L467.5 1921.1L440.6 1925.6L413.6 1930.1L382.2 1934.6L350.7 1939.1L314.8 1934.6L278.8 1925.6L247.4 1921.1L220.4 1925.6L198.0 1930.1M507.9 2168.2L525.9 2141.3L543.9 2114.3L561.9 2087.4L575.3 2060.4L588.8 2037.9L597.8 2015.5L606.8 1997.5L615.8 1979.5L629.2 1961.6L651.7 1948.1L674.2 1939.1L701.1 1930.1L728.1 1925.6L755.0 1925.6L782.0 1930.1L808.9 1939.1L835.9 1948.1L871.8 1961.6L907.8 1970.6L943.7 1979.5L970.7 1990.8M373.2 2224.8L382.2 2199.7L395.6 2177.2L413.6 2154.7L427.1 2136.8L440.6 2114.3L454.0 2087.4L467.5 2060.4L485.5 2033.5L490.0 2006.5L485.5 1979.5L476.5 1961.6L463.0 1943.6L449.5 1939.1L422.6 1943.6L391.1 1934.6L359.7 1921.1L328.2 1907.7L292.3 1903.2L256.4 1907.7L224.9 1912.2L193.5 1916.6M193.5 2224.8L198.0 2159.2L202.5 2091.9L207.0 2024.5L215.9 1979.5L224.9 1957.1L238.4 1943.6L256.4 1939.1M224.9 2224.8L229.4 2181.7L224.9 2136.8L233.9 2105.3L247.4 2082.9L256.4 2055.9L251.9 2024.5L260.9 1997.5L278.8 1979.5L296.8 1988.5L310.3 2015.5L314.8 2051.4L305.8 2087.4L296.8 2114.3L287.8 2141.3L283.3 2177.2L292.3 2204.2M328.2 2224.8L323.8 2195.2L332.7 2168.2L350.7 2150.3L368.7 2132.3L377.7 2105.3L373.2 2078.4L359.7 2051.4L350.7 2024.5L337.2 2006.5L323.8 1988.5L314.8 1970.6"/>
<path fill="none" stroke="#5fd21e" stroke-width="4.4" stroke-linejoin="round" stroke-linecap="round" d="M685.4 1211.7L674.2 1223.0L656.2 1236.4L629.2 1245.4L584.3 1247.7L548.4 1254.4L525.9 1263.4L514.7 1281.4L512.4 1303.8L521.4 1326.3L539.4 1348.8L561.9 1353.2L570.8 1371.2L584.3 1389.2L597.8 1407.2L620.3 1411.6L638.2 1420.6L656.2 1429.6L665.2 1456.6L674.2 1474.5L696.6 1492.5L719.1 1492.5L746.0 1510.5L773.0 1519.5L808.9 1519.5L844.9 1521.7L876.3 1515.0L898.8 1501.5L916.7 1474.5L925.7 1443.1L939.2 1411.6L943.7 1393.7L952.7 1380.2L943.7 1353.2L943.7 1326.3L939.2 1317.3L921.2 1312.8L880.8 1312.8L853.9 1308.3L849.4 1321.8L817.9 1326.3L782.0 1330.8L775.2 1303.8L773.0 1272.4L770.7 1240.9L768.5 1211.7M759.5 1416.1L764.0 1384.7L786.5 1366.7L817.9 1357.7L853.9 1353.2L880.8 1362.2L898.8 1375.7L903.3 1407.2L894.3 1443.1L880.8 1465.6L853.9 1479.0L817.9 1488.0L791.0 1483.5L768.5 1470.0L759.5 1443.1L759.5 1416.1M829.1 1407.2L844.9 1398.2L862.8 1400.4L867.3 1411.6L858.3 1436.4L840.4 1438.6L831.4 1425.1L829.1 1407.2M189.0 1714.9L193.5 1676.7L202.5 1631.8L211.4 1600.3L224.9 1564.4L238.4 1550.9L251.9 1528.5L269.8 1515.0L287.8 1519.5L305.8 1515.0L314.8 1501.5L319.3 1483.5L323.8 1515.0L332.7 1510.5L350.7 1497.0L368.7 1492.5L391.1 1501.5L413.6 1515.0L440.6 1519.5L467.5 1524.0L494.5 1519.5L521.4 1515.0L539.4 1515.0L548.4 1528.5L552.9 1546.4L539.4 1555.4L521.4 1568.9L503.5 1577.9L494.5 1600.3L494.5 1631.8L499.0 1654.2L503.5 1676.7L507.9 1714.9M215.9 1714.9L220.4 1676.7L224.9 1636.3L233.9 1600.3L247.4 1573.4L269.8 1559.9L287.8 1564.4L305.8 1573.4L328.2 1577.9L350.7 1582.4L377.7 1595.8L404.6 1600.3L431.6 1609.3L449.5 1636.3L458.5 1667.7L463.0 1699.2L463.0 1714.9M242.9 1714.9L247.4 1676.7L256.4 1645.3L269.8 1618.3L287.8 1604.8L305.8 1600.3L323.8 1609.3L341.7 1631.8L355.2 1663.2L359.7 1714.9M269.8 1714.9L274.3 1681.2L287.8 1654.2L305.8 1645.3L323.8 1658.7L332.7 1690.2L337.2 1714.9M971.6 1515.0L972.9 1564.4M971.6 1393.7L972.5 1420.6M191.2 1308.3L192.1 1328.5M507.9 1714.9L501.2 1737.0L492.2 1763.9L476.5 1790.9L449.5 1806.6L422.6 1817.8L395.6 1827.7L373.2 1834.9L357.4 1838.0L341.7 1835.8L328.2 1829.0L314.8 1833.5L301.3 1824.6L287.8 1831.3L276.6 1842.5L267.6 1817.8L256.4 1806.6L245.1 1817.8L233.9 1790.9L220.4 1777.4L207.0 1772.9L198.0 1763.9L191.2 1754.9M463.0 1714.9L454.0 1737.0L438.3 1761.7L418.1 1781.9L391.1 1797.6L368.7 1802.1L350.7 1799.8L332.7 1793.1L314.8 1786.4L296.8 1777.4L278.8 1781.9L265.4 1768.4L251.9 1763.9L238.4 1754.9L224.9 1745.9L211.4 1737.0L202.5 1723.5L198.0 1710.0M359.7 1714.9L355.2 1728.0L337.2 1741.4L314.8 1745.9L292.3 1741.4L269.8 1737.0L251.9 1728.0L242.9 1714.5M317.0 1714.9L314.8 1723.5L296.8 1728.0L278.8 1723.5L272.1 1714.9M624.7 2224.8L622.5 2181.7L624.7 2141.3L629.2 2105.3L638.2 2069.4L656.2 2042.4L683.1 2020.0L710.1 1997.5L737.1 1984.0L764.0 1977.3L799.9 1975.0L835.9 1979.5L871.8 1988.5L898.8 1997.5L925.7 2006.5L943.7 2015.5L966.2 2024.5L985.0 2033.5M674.2 2105.3L678.7 2060.4L701.1 2033.5L741.5 2015.5L786.5 2011.0L831.4 2015.5L871.8 2024.5L907.8 2042.4L934.7 2064.9L948.2 2096.3L948.2 2136.8L934.7 2159.2L898.8 2177.2L853.9 2186.2L808.9 2190.7L764.0 2190.7L719.1 2186.2L687.6 2172.7L674.2 2150.3L671.9 2123.3L674.2 2105.3M723.6 2082.9L737.1 2055.9L764.0 2042.4L799.9 2037.9L835.9 2037.9L871.8 2046.9L894.3 2060.4L903.3 2082.9L898.8 2109.8L880.8 2127.8L844.9 2136.8L799.9 2136.8L764.0 2132.3L737.1 2118.8L725.8 2100.8L723.6 2082.9M759.5 2078.4L768.5 2060.4L791.0 2051.4L817.9 2055.9L835.9 2051.4L853.9 2055.9L871.8 2069.4L876.3 2087.4L867.3 2105.3L844.9 2109.8L826.9 2100.8L808.9 2105.3L782.0 2109.8L764.0 2100.8L759.5 2078.4M939.2 2224.8L939.2 2159.2L941.5 2096.3L943.7 2051.4L941.5 2002.0L943.7 1988.5M968.4 2060.4L970.7 2224.8M971.6 1710.0L972.9 1844.8"/>
<path fill="none" stroke="#000" stroke-width="3.8" stroke-linecap="square" d="M187.5 1210.0H188.5M187.5 1208.8L188.5 1210.0L187.5 1211.2M224.5 1210.0H225.5M224.5 1208.8L225.5 1210.0L224.5 1211.2M261.4 1210.0H262.4M261.4 1208.8L262.4 1210.0L261.4 1211.2M298.4 1210.0H299.4M298.4 1208.8L299.4 1210.0L298.4 1211.2M335.4 1210.0H336.4M335.4 1208.8L336.4 1210.0L335.4 1211.2M372.4 1210.0H373.4M372.4 1208.8L373.4 1210.0L372.4 1211.2M409.4 1210.0H410.4M409.4 1208.8L410.4 1210.0L409.4 1211.2M446.3 1210.0H447.3M446.3 1208.8L447.3 1210.0L446.3 1211.2M483.3 1210.0H484.3M483.3 1208.8L484.3 1210.0L483.3 1211.2M520.3 1210.0H521.3M520.3 1208.8L521.3 1210.0L520.3 1211.2M557.2 1210.0H558.2M557.2 1208.8L558.2 1210.0L557.2 1211.2M594.2 1210.0H595.2M594.2 1208.8L595.2 1210.0L594.2 1211.2M631.2 1210.0H632.2M631.2 1208.8L632.2 1210.0L631.2 1211.2M668.2 1210.0H669.2M668.2 1208.8L669.2 1210.0L668.2 1211.2M705.1 1210.0H706.1M705.1 1208.8L706.1 1210.0L705.1 1211.2M742.1 1210.0H743.1M742.1 1208.8L743.1 1210.0L742.1 1211.2M779.1 1210.0H780.1M779.1 1208.8L780.1 1210.0L779.1 1211.2M816.1 1210.0H817.1M816.1 1208.8L817.1 1210.0L816.1 1211.2M853.1 1210.0H854.1M853.1 1208.8L854.1 1210.0L853.1 1211.2M890.0 1210.0H891.0M890.0 1208.8L891.0 1210.0L890.0 1211.2M927.0 1210.0H928.0M927.0 1208.8L928.0 1210.0L927.0 1211.2M964.0 1210.0H965.0M964.0 1208.8L965.0 1210.0L964.0 1211.2M187.5 1238.1H188.5M187.5 1236.9L188.5 1238.1L187.5 1239.3M224.5 1238.1H225.5M224.5 1236.9L225.5 1238.1L224.5 1239.3M261.4 1238.1H263.4M262.4 1236.9L263.4 1238.1L262.4 1239.3M298.4 1238.1H305.4M303.1 1235.0L305.4 1238.1L303.1 1241.2M335.4 1238.1H337.4M336.4 1236.9L337.4 1238.1L336.4 1239.3M372.4 1238.1H377.4M375.7 1235.9L377.4 1238.1L375.7 1240.3M409.4 1238.1H417.4M414.7 1234.6L417.4 1238.1L414.7 1241.6M446.3 1238.1H452.3M450.3 1235.5L452.3 1238.1L450.3 1240.7M483.3 1238.1H485.3M484.3 1236.9L485.3 1238.1L484.3 1239.3M520.3 1238.1H522.3M521.3 1236.9L522.3 1238.1L521.3 1239.3M557.2 1238.1H558.2M557.2 1236.9L558.2 1238.1L557.2 1239.3M594.2 1238.1H596.2M595.2 1236.9L596.2 1238.1L595.2 1239.3M631.2 1238.1H633.2M632.2 1236.9L633.2 1238.1L632.2 1239.3M668.2 1238.1H670.2M669.2 1236.9L670.2 1238.1L669.2 1239.3M705.1 1238.1H707.1M706.1 1236.9L707.1 1238.1L706.1 1239.3M742.1 1238.1H743.1M742.1 1236.9L743.1 1238.1L742.1 1239.3M779.1 1238.1H781.1M780.1 1236.9L781.1 1238.1L780.1 1239.3M224.5 1266.2H225.5M224.5 1265.0L225.5 1266.2L224.5 1267.4M261.4 1266.2H265.4M264.1 1264.4L265.4 1266.2L264.1 1268.0M298.4 1266.2H322.4M314.5 1255.6L322.4 1266.2L314.5 1276.8M335.4 1266.2H359.4M351.5 1255.6L359.4 1266.2L351.5 1276.8M372.4 1266.2H392.4M385.8 1257.4L392.4 1266.2L385.8 1275.0M409.4 1266.2H429.4M422.8 1257.4L429.4 1266.2L422.8 1275.0M446.3 1266.2H460.3M455.7 1260.0L460.3 1266.2L455.7 1272.4M483.3 1266.2H485.3M484.3 1265.0L485.3 1266.2L484.3 1267.4M520.3 1266.2H522.3M521.3 1265.0L522.3 1266.2L521.3 1267.4M557.2 1266.2H559.2M558.2 1265.0L559.2 1266.2L558.2 1267.4M594.2 1266.2H595.2M594.2 1265.0L595.2 1266.2L594.2 1267.4M631.2 1266.2H633.2M632.2 1265.0L633.2 1266.2L632.2 1267.4M668.2 1266.2H671.2M670.2 1264.9L671.2 1266.2L670.2 1267.5M705.1 1266.2H708.1M707.1 1264.9L708.1 1266.2L707.1 1267.5M742.1 1266.2H744.1M743.1 1265.0L744.1 1266.2L743.1 1267.4M779.1 1266.2H782.1M781.1 1264.9L782.1 1266.2L781.1 1267.5M187.5 1294.3H188.5M187.5 1293.1L188.5 1294.3L187.5 1295.5M224.5 1294.3H225.5M224.5 1293.1L225.5 1294.3L224.5 1295.5M261.4 1294.3H269.4M266.8 1290.8L269.4 1294.3L266.8 1297.8M298.4 1294.3H322.4M314.5 1283.7L322.4 1294.3L314.5 1304.9M335.4 1294.3H359.4M351.5 1283.7L359.4 1294.3L351.5 1304.9M372.4 1294.3H392.4M385.8 1285.5L392.4 1294.3L385.8 1303.1M409.4 1294.3H431.4M424.1 1284.6L431.4 1294.3L424.1 1304.0M446.3 1294.3H464.3M458.4 1286.4L464.3 1294.3L458.4 1302.2M483.3 1294.3H488.3M486.7 1292.1L488.3 1294.3L486.7 1296.5M520.3 1294.3H522.3M521.3 1293.1L522.3 1294.3L521.3 1295.5M557.2 1294.3H559.2M558.2 1293.1L559.2 1294.3L558.2 1295.5M594.2 1294.3H597.2M596.2 1293.0L597.2 1294.3L596.2 1295.6M631.2 1294.3H634.2M633.2 1293.0L634.2 1294.3L633.2 1295.6M668.2 1294.3H671.2M670.2 1293.0L671.2 1294.3L670.2 1295.6M705.1 1294.3H708.1M707.1 1293.0L708.1 1294.3L707.1 1295.6M742.1 1294.3H745.1M744.1 1293.0L745.1 1294.3L744.1 1295.6M779.1 1294.3H782.1M781.1 1293.0L782.1 1294.3L781.1 1295.6M816.1 1294.3H818.1M817.1 1293.1L818.1 1294.3L817.1 1295.5M853.1 1294.3H855.1M854.1 1293.1L855.1 1294.3L854.1 1295.5M890.0 1294.3H892.0M891.0 1293.1L892.0 1294.3L891.0 1295.5M927.0 1294.3H929.0M928.0 1293.1L929.0 1294.3L928.0 1295.5M964.0 1294.3H966.0M965.0 1293.1L966.0 1294.3L965.0 1295.5M224.5 1322.4H225.5M224.5 1321.2L225.5 1322.4L224.5 1323.6M261.4 1322.4H266.4M264.8 1320.2L266.4 1322.4L264.8 1324.6M298.4 1322.4H320.4M313.2 1312.7L320.4 1322.4L313.2 1332.1M335.4 1322.4H357.4M350.1 1312.7L357.4 1322.4L350.1 1332.1M372.4 1322.4H390.4M384.4 1314.5L390.4 1322.4L384.4 1330.3M409.4 1322.4H434.4M426.1 1311.4L434.4 1322.4L426.1 1333.4M446.3 1322.4H469.3M461.7 1312.3L469.3 1322.4L461.7 1332.5M483.3 1322.4H503.3M496.7 1313.6L503.3 1322.4L496.7 1331.2M520.3 1322.4H526.3M524.3 1319.7L526.3 1322.4L524.3 1325.0M557.2 1322.4H559.2M558.2 1321.2L559.2 1322.4L558.2 1323.6M594.2 1322.4H597.2M596.2 1321.1L597.2 1322.4L596.2 1323.7M631.2 1322.4H634.2M633.2 1321.1L634.2 1322.4L633.2 1323.7M668.2 1322.4H671.2M670.2 1321.1L671.2 1322.4L670.2 1323.7M705.1 1322.4H707.1M706.1 1321.2L707.1 1322.4L706.1 1323.6M742.1 1322.4H744.1M743.1 1321.2L744.1 1322.4L743.1 1323.6M779.1 1322.4H782.1M781.1 1321.1L782.1 1322.4L781.1 1323.7M816.1 1322.4H819.1M818.1 1321.1L819.1 1322.4L818.1 1323.7M853.1 1322.4H856.1M855.1 1321.1L856.1 1322.4L855.1 1323.7M890.0 1322.4H893.0M892.0 1321.1L893.0 1322.4L892.0 1323.7M927.0 1322.4H930.0M929.0 1321.1L930.0 1322.4L929.0 1323.7M964.0 1322.4H966.0M965.0 1321.2L966.0 1322.4L965.0 1323.6M187.5 1350.5H189.5M188.5 1349.3L189.5 1350.5L188.5 1351.7M224.5 1350.5H227.5M226.5 1349.2L227.5 1350.5L226.5 1351.8M261.4 1350.5H266.4M264.8 1348.3L266.4 1350.5L264.8 1352.7M298.4 1350.5H306.4M303.8 1347.0L306.4 1350.5L303.8 1354.0M335.4 1350.5H337.4M336.4 1349.3L337.4 1350.5L336.4 1351.7M372.4 1350.5H378.4M376.4 1347.8L378.4 1350.5L376.4 1353.1M409.4 1350.5H427.4M421.4 1342.6L427.4 1350.5L421.4 1358.4M446.3 1350.5H464.3M458.4 1342.6L464.3 1350.5L458.4 1358.4M483.3 1350.5H503.3M496.7 1341.7L503.3 1350.5L496.7 1359.3M520.3 1350.5H534.3M529.7 1344.3L534.3 1350.5L529.7 1356.6M557.2 1350.5H560.2M559.2 1349.2L560.2 1350.5L559.2 1351.8M594.2 1350.5H597.2M596.2 1349.2L597.2 1350.5L596.2 1351.8M631.2 1350.5H633.2M632.2 1349.3L633.2 1350.5L632.2 1351.7M668.2 1350.5H669.2M668.2 1349.3L669.2 1350.5L668.2 1351.7M705.1 1350.5H707.1M706.1 1349.3L707.1 1350.5L706.1 1351.7M742.1 1350.5H744.1M743.1 1349.3L744.1 1350.5L743.1 1351.7M779.1 1350.5H782.1M781.1 1349.2L782.1 1350.5L781.1 1351.8M816.1 1350.5H819.1M818.1 1349.2L819.1 1350.5L818.1 1351.8M853.1 1350.5H856.1M855.1 1349.2L856.1 1350.5L855.1 1351.8M890.0 1350.5H893.0M892.0 1349.2L893.0 1350.5L892.0 1351.8M927.0 1350.5H930.0M929.0 1349.2L930.0 1350.5L929.0 1351.8M964.0 1350.5H966.0M965.0 1349.3L966.0 1350.5L965.0 1351.7M224.5 1378.6H220.5M221.8 1376.8L220.5 1378.6L221.8 1380.3M261.4 1378.6H263.4M262.4 1377.4L263.4 1378.6L262.4 1379.8M298.4 1378.6H303.4M301.8 1376.4L303.4 1378.6L301.8 1380.8M335.4 1378.6H337.4M336.4 1377.4L337.4 1378.6L336.4 1379.8M372.4 1378.6H377.4M375.7 1376.4L377.4 1378.6L375.7 1380.8M409.4 1378.6H426.4M420.7 1371.1L426.4 1378.6L420.7 1386.1M446.3 1378.6H460.3M455.7 1372.4L460.3 1378.6L455.7 1384.7M483.3 1378.6H503.3M496.7 1369.8L503.3 1378.6L496.7 1387.4M520.3 1378.6H534.3M529.7 1372.4L534.3 1378.6L529.7 1384.7M557.2 1378.6H561.2M559.9 1376.8L561.2 1378.6L559.9 1380.3M594.2 1378.6H595.2M594.2 1377.4L595.2 1378.6L594.2 1379.8M631.2 1378.6H635.2M633.9 1376.8L635.2 1378.6L633.9 1380.3M668.2 1378.6H672.2M670.9 1376.8L672.2 1378.6L670.9 1380.3M705.1 1378.6H711.1M709.2 1375.9L711.1 1378.6L709.2 1381.2M742.1 1378.6H743.1M742.1 1377.4L743.1 1378.6L742.1 1379.8M779.1 1378.6H782.1M781.1 1377.3L782.1 1378.6L781.1 1379.9M816.1 1378.6H820.1M818.8 1376.8L820.1 1378.6L818.8 1380.3M853.1 1378.6H856.1M855.1 1377.3L856.1 1378.6L855.1 1379.9M890.0 1378.6H894.0M892.7 1376.8L894.0 1378.6L892.7 1380.3M927.0 1378.6H931.0M929.7 1376.8L931.0 1378.6L929.7 1380.3M964.0 1378.6H965.0M964.0 1377.4L965.0 1378.6L964.0 1379.8M224.5 1406.7H219.5M221.1 1404.5L219.5 1406.7L221.1 1408.9M261.4 1406.7H263.4M262.4 1405.5L263.4 1406.7L262.4 1407.9M298.4 1406.7H301.4M300.4 1405.4L301.4 1406.7L300.4 1408.0M335.4 1406.7H338.4M337.4 1405.4L338.4 1406.7L337.4 1408.0M372.4 1406.7H375.4M374.4 1405.4L375.4 1406.7L374.4 1408.0M409.4 1406.7H423.4M418.7 1400.5L423.4 1406.7L418.7 1412.8M446.3 1406.7H458.3M454.4 1401.4L458.3 1406.7L454.4 1412.0M483.3 1406.7H497.3M492.7 1400.5L497.3 1406.7L492.7 1412.8M520.3 1406.7H528.3M525.6 1403.2L528.3 1406.7L525.6 1410.2M557.2 1406.7H563.2M561.3 1404.0L563.2 1406.7L561.3 1409.3M594.2 1406.7H598.2M596.9 1404.9L598.2 1406.7L596.9 1408.4M631.2 1406.7H637.2M635.2 1404.0L637.2 1406.7L635.2 1409.3M668.2 1406.7H674.2M672.2 1404.0L674.2 1406.7L672.2 1409.3M705.1 1406.7H711.1M709.2 1404.0L711.1 1406.7L709.2 1409.3M742.1 1406.7H745.1M744.1 1405.4L745.1 1406.7L744.1 1408.0M779.1 1406.7H783.1M781.8 1404.9L783.1 1406.7L781.8 1408.4M816.1 1406.7H820.1M818.8 1404.9L820.1 1406.7L818.8 1408.4M853.1 1406.7H858.1M856.4 1404.5L858.1 1406.7L856.4 1408.9M890.0 1406.7H895.0M893.4 1404.5L895.0 1406.7L893.4 1408.9M927.0 1406.7H932.0M930.4 1404.5L932.0 1406.7L930.4 1408.9M964.0 1406.7H965.0M964.0 1405.5L965.0 1406.7L964.0 1407.9M224.5 1434.8H219.5M221.1 1432.6L219.5 1434.8L221.1 1437.0M261.4 1434.8H263.4M262.4 1433.6L263.4 1434.8L262.4 1436.0M298.4 1434.8H299.4M298.4 1433.6L299.4 1434.8L298.4 1436.0M335.4 1434.8H337.4M336.4 1433.6L337.4 1434.8L336.4 1436.0M372.4 1434.8H375.4M374.4 1433.5L375.4 1434.8L374.4 1436.1M409.4 1434.8H423.4M418.7 1428.6L423.4 1434.8L418.7 1440.9M446.3 1434.8H459.3M455.0 1429.1L459.3 1434.8L455.0 1440.5M483.3 1434.8H495.3M491.3 1429.5L495.3 1434.8L491.3 1440.1M520.3 1434.8H528.3M525.6 1431.3L528.3 1434.8L525.6 1438.3M557.2 1434.8H563.2M561.3 1432.1L563.2 1434.8L561.3 1437.4M594.2 1434.8H598.2M596.9 1433.0L598.2 1434.8L596.9 1436.5M631.2 1434.8H645.2M640.6 1428.6L645.2 1434.8L640.6 1440.9M668.2 1434.8H682.2M677.6 1428.6L682.2 1434.8L677.6 1440.9M705.1 1434.8H711.1M709.2 1432.1L711.1 1434.8L709.2 1437.4M742.1 1434.8H745.1M744.1 1433.5L745.1 1434.8L744.1 1436.1M779.1 1434.8H782.1M781.1 1433.5L782.1 1434.8L781.1 1436.1M816.1 1434.8H820.1M818.8 1433.0L820.1 1434.8L818.8 1436.5M853.1 1434.8H857.1M855.7 1433.0L857.1 1434.8L855.7 1436.5M890.0 1434.8H895.0M893.4 1432.6L895.0 1434.8L893.4 1437.0M927.0 1434.8H932.0M930.4 1432.6L932.0 1434.8L930.4 1437.0M964.0 1434.8H965.0M964.0 1433.6L965.0 1434.8L964.0 1436.0M224.5 1462.9H218.5M220.5 1460.2L218.5 1462.9L220.5 1465.5M261.4 1462.9H258.4M259.4 1461.6L258.4 1462.9L259.4 1464.2M298.4 1462.9H299.4M298.4 1461.7L299.4 1462.9L298.4 1464.1M335.4 1462.9H337.4M336.4 1461.7L337.4 1462.9L336.4 1464.1M372.4 1462.9H374.4M373.4 1461.7L374.4 1462.9L373.4 1464.1M409.4 1462.9H417.4M414.7 1459.4L417.4 1462.9L414.7 1466.4M446.3 1462.9H454.3M451.7 1459.4L454.3 1462.9L451.7 1466.4M483.3 1462.9H488.3M486.7 1460.7L488.3 1462.9L486.7 1465.1M520.3 1462.9H525.3M523.6 1460.7L525.3 1462.9L523.6 1465.1M557.2 1462.9H561.2M559.9 1461.1L561.2 1462.9L559.9 1464.6M594.2 1462.9H598.2M596.9 1461.1L598.2 1462.9L596.9 1464.6M631.2 1462.9H646.2M641.2 1456.3L646.2 1462.9L641.2 1469.5M668.2 1462.9H686.2M680.2 1455.0L686.2 1462.9L680.2 1470.8M705.1 1462.9H713.1M710.5 1459.4L713.1 1462.9L710.5 1466.4M742.1 1462.9H743.1M742.1 1461.7L743.1 1462.9L742.1 1464.1M779.1 1462.9H782.1M781.1 1461.6L782.1 1462.9L781.1 1464.2M816.1 1462.9H820.1M818.8 1461.1L820.1 1462.9L818.8 1464.6M853.1 1462.9H857.1M855.7 1461.1L857.1 1462.9L855.7 1464.6M890.0 1462.9H896.0M894.0 1460.2L896.0 1462.9L894.0 1465.5M927.0 1462.9H931.0M929.7 1461.1L931.0 1462.9L929.7 1464.6M964.0 1462.9H965.0M964.0 1461.7L965.0 1462.9L964.0 1464.1M224.5 1491.0H216.5M219.1 1487.5L216.5 1491.0L219.1 1494.5M261.4 1491.0H258.4M259.4 1489.7L258.4 1491.0L259.4 1492.3M298.4 1491.0H299.4M298.4 1489.8L299.4 1491.0L298.4 1492.2M335.4 1491.0H337.4M336.4 1489.8L337.4 1491.0L336.4 1492.2M372.4 1491.0H373.4M372.4 1489.8L373.4 1491.0L372.4 1492.2M409.4 1491.0H413.4M412.0 1489.2L413.4 1491.0L412.0 1492.7M446.3 1491.0H451.3M449.7 1488.8L451.3 1491.0L449.7 1493.2M483.3 1491.0H488.3M486.7 1488.8L488.3 1491.0L486.7 1493.2M520.3 1491.0H522.3M521.3 1489.8L522.3 1491.0L521.3 1492.2M557.2 1491.0H559.2M558.2 1489.8L559.2 1491.0L558.2 1492.2M594.2 1491.0H596.2M595.2 1489.8L596.2 1491.0L595.2 1492.2M631.2 1491.0H646.2M641.2 1484.4L646.2 1491.0L641.2 1497.6M668.2 1491.0H685.2M679.6 1483.5L685.2 1491.0L679.6 1498.5M705.1 1491.0H720.1M715.2 1484.4L720.1 1491.0L715.2 1497.6M742.1 1491.0H745.1M744.1 1489.7L745.1 1491.0L744.1 1492.3M779.1 1491.0H782.1M781.1 1489.7L782.1 1491.0L781.1 1492.3M816.1 1491.0H818.1M817.1 1489.8L818.1 1491.0L817.1 1492.2M853.1 1491.0H856.1M855.1 1489.7L856.1 1491.0L855.1 1492.3M890.0 1491.0H894.0M892.7 1489.2L894.0 1491.0L892.7 1492.7M927.0 1491.0H929.0M928.0 1489.8L929.0 1491.0L928.0 1492.2M964.0 1491.0H965.0M964.0 1489.8L965.0 1491.0L964.0 1492.2M224.5 1519.1H217.5M219.8 1516.0L217.5 1519.1L219.8 1522.1M261.4 1519.1H258.4M259.4 1517.7L258.4 1519.1L259.4 1520.4M298.4 1519.1H300.4M299.4 1517.9L300.4 1519.1L299.4 1520.3M335.4 1519.1H337.4M336.4 1517.9L337.4 1519.1L336.4 1520.3M372.4 1519.1H373.4M372.4 1517.9L373.4 1519.1L372.4 1520.3M409.4 1519.1H412.4M411.4 1517.7L412.4 1519.1L411.4 1520.4M446.3 1519.1H450.3M449.0 1517.3L450.3 1519.1L449.0 1520.8M483.3 1519.1H486.3M485.3 1517.7L486.3 1519.1L485.3 1520.4M520.3 1519.1H521.3M520.3 1517.9L521.3 1519.1L520.3 1520.3M557.2 1519.1H560.2M559.2 1517.7L560.2 1519.1L559.2 1520.4M594.2 1519.1H596.2M595.2 1517.9L596.2 1519.1L595.2 1520.3M631.2 1519.1H637.2M635.2 1516.4L637.2 1519.1L635.2 1521.7M668.2 1519.1H676.2M673.5 1515.5L676.2 1519.1L673.5 1522.6M705.1 1519.1H713.1M710.5 1515.5L713.1 1519.1L710.5 1522.6M742.1 1519.1H748.1M746.1 1516.4L748.1 1519.1L746.1 1521.7M779.1 1519.1H783.1M781.8 1517.3L783.1 1519.1L781.8 1520.8M816.1 1519.1H819.1M818.1 1517.7L819.1 1519.1L818.1 1520.4M853.1 1519.1H855.1M854.1 1517.9L855.1 1519.1L854.1 1520.3M890.0 1519.1H892.0M891.0 1517.9L892.0 1519.1L891.0 1520.3M927.0 1519.1H928.0M927.0 1517.9L928.0 1519.1L927.0 1520.3M964.0 1519.1H965.0M964.0 1517.9L965.0 1519.1L964.0 1520.3M224.5 1547.2H222.5M223.5 1546.0L222.5 1547.2L223.5 1548.4M261.4 1547.2H262.4M261.4 1546.0L262.4 1547.2L261.4 1548.4M298.4 1547.2H299.4M298.4 1546.0L299.4 1547.2L298.4 1548.4M335.4 1547.2H337.4M336.4 1546.0L337.4 1547.2L336.4 1548.4M372.4 1547.2H373.4M372.4 1546.0L373.4 1547.2L372.4 1548.4M409.4 1547.2H412.4M411.4 1545.8L412.4 1547.2L411.4 1548.5M446.3 1547.2H450.3M449.0 1545.4L450.3 1547.2L449.0 1548.9M483.3 1547.2H487.3M486.0 1545.4L487.3 1547.2L486.0 1548.9M520.3 1547.2H521.3M520.3 1546.0L521.3 1547.2L520.3 1548.4M557.2 1547.2H560.2M559.2 1545.8L560.2 1547.2L559.2 1548.5M594.2 1547.2H598.2M596.9 1545.4L598.2 1547.2L596.9 1548.9M631.2 1547.2H632.2M631.2 1546.0L632.2 1547.2L631.2 1548.4M668.2 1547.2H669.2M668.2 1546.0L669.2 1547.2L668.2 1548.4M705.1 1547.2H708.1M707.1 1545.8L708.1 1547.2L707.1 1548.5M742.1 1547.2H746.1M744.8 1545.4L746.1 1547.2L744.8 1548.9M779.1 1547.2H784.1M782.5 1545.0L784.1 1547.2L782.5 1549.4M816.1 1547.2H820.1M818.8 1545.4L820.1 1547.2L818.8 1548.9M853.1 1547.2H854.1M853.1 1546.0L854.1 1547.2L853.1 1548.4M890.0 1547.2H891.0M890.0 1546.0L891.0 1547.2L890.0 1548.4M927.0 1547.2H928.0M927.0 1546.0L928.0 1547.2L927.0 1548.4M964.0 1547.2H965.0M964.0 1546.0L965.0 1547.2L964.0 1548.4M187.5 1575.3H189.5M188.5 1574.1L189.5 1575.3L188.5 1576.5M224.5 1575.3H227.5M226.5 1573.9L227.5 1575.3L226.5 1576.6M261.4 1575.3H262.4M261.4 1574.1L262.4 1575.3L261.4 1576.5M298.4 1575.3H300.4M299.4 1574.1L300.4 1575.3L299.4 1576.5M335.4 1575.3H337.4M336.4 1574.1L337.4 1575.3L336.4 1576.5M372.4 1575.3H368.4M369.7 1573.5L368.4 1575.3L369.7 1577.0M409.4 1575.3H412.4M411.4 1573.9L412.4 1575.3L411.4 1576.6M446.3 1575.3H447.3M446.3 1574.1L447.3 1575.3L446.3 1576.5M483.3 1575.3H485.3M484.3 1574.1L485.3 1575.3L484.3 1576.5M520.3 1575.3H522.3M521.3 1574.1L522.3 1575.3L521.3 1576.5M557.2 1575.3H559.2M558.2 1574.1L559.2 1575.3L558.2 1576.5M594.2 1575.3H597.2M596.2 1573.9L597.2 1575.3L596.2 1576.6M631.2 1575.3H633.2M632.2 1574.1L633.2 1575.3L632.2 1576.5M668.2 1575.3H671.2M670.2 1573.9L671.2 1575.3L670.2 1576.6M705.1 1575.3H706.1M705.1 1574.1L706.1 1575.3L705.1 1576.5M742.1 1575.3H744.1M743.1 1574.1L744.1 1575.3L743.1 1576.5M779.1 1575.3H782.1M781.1 1573.9L782.1 1575.3L781.1 1576.6M816.1 1575.3H819.1M818.1 1573.9L819.1 1575.3L818.1 1576.6M853.1 1575.3H854.1M853.1 1574.1L854.1 1575.3L853.1 1576.5M890.0 1575.3H892.0M891.0 1574.1L892.0 1575.3L891.0 1576.5M927.0 1575.3H930.0M929.0 1573.9L930.0 1575.3L929.0 1576.6M964.0 1575.3H965.0M964.0 1574.1L965.0 1575.3L964.0 1576.5M187.5 1603.4H191.5M190.2 1601.6L191.5 1603.4L190.2 1605.1M224.5 1603.4H227.5M226.5 1602.0L227.5 1603.4L226.5 1604.7M261.4 1603.4H262.4M261.4 1602.2L262.4 1603.4L261.4 1604.6M298.4 1603.4H301.4M300.4 1602.0L301.4 1603.4L300.4 1604.7M335.4 1603.4H330.4M332.0 1601.2L330.4 1603.4L332.0 1605.6M372.4 1603.4H359.4M363.7 1597.6L359.4 1603.4L363.7 1609.1M409.4 1603.4H401.4M404.0 1599.8L401.4 1603.4L404.0 1606.9M446.3 1603.4H449.3M448.3 1602.0L449.3 1603.4L448.3 1604.7M483.3 1603.4H484.3M483.3 1602.2L484.3 1603.4L483.3 1604.6M520.3 1603.4H521.3M520.3 1602.2L521.3 1603.4L520.3 1604.6M557.2 1603.4H559.2M558.2 1602.2L559.2 1603.4L558.2 1604.6M594.2 1603.4H595.2M594.2 1602.2L595.2 1603.4L594.2 1604.6M631.2 1603.4H632.2M631.2 1602.2L632.2 1603.4L631.2 1604.6M668.2 1603.4H671.2M670.2 1602.0L671.2 1603.4L670.2 1604.7M705.1 1603.4H707.1M706.1 1602.2L707.1 1603.4L706.1 1604.6M742.1 1603.4H743.1M742.1 1602.2L743.1 1603.4L742.1 1604.6M779.1 1603.4H782.1M781.1 1602.0L782.1 1603.4L781.1 1604.7M816.1 1603.4H819.1M818.1 1602.0L819.1 1603.4L818.1 1604.7M853.1 1603.4H854.1M853.1 1602.2L854.1 1603.4L853.1 1604.6M890.0 1603.4H892.0M891.0 1602.2L892.0 1603.4L891.0 1604.6M927.0 1603.4H930.0M929.0 1602.0L930.0 1603.4L929.0 1604.7M964.0 1603.4H965.0M964.0 1602.2L965.0 1603.4L964.0 1604.6M187.5 1631.5H193.5M191.5 1628.8L193.5 1631.5L191.5 1634.1M224.5 1631.5H228.5M227.2 1629.7L228.5 1631.5L227.2 1633.2M261.4 1631.5H262.4M261.4 1630.3L262.4 1631.5L261.4 1632.7M298.4 1631.5H294.4M295.7 1629.7L294.4 1631.5L295.7 1633.2M335.4 1631.5H329.4M331.4 1628.8L329.4 1631.5L331.4 1634.1M372.4 1631.5H356.4M361.7 1624.4L356.4 1631.5L361.7 1638.5M409.4 1631.5H390.4M396.6 1623.1L390.4 1631.5L396.6 1639.8M446.3 1631.5H430.3M435.6 1624.4L430.3 1631.5L435.6 1638.5M483.3 1631.5H477.3M479.3 1628.8L477.3 1631.5L479.3 1634.1M520.3 1631.5H515.3M516.9 1629.3L515.3 1631.5L516.9 1633.7M557.2 1631.5H558.2M557.2 1630.3L558.2 1631.5L557.2 1632.7M594.2 1631.5H596.2M595.2 1630.3L596.2 1631.5L595.2 1632.7M631.2 1631.5H634.2M633.2 1630.1L634.2 1631.5L633.2 1632.8M668.2 1631.5H669.2M668.2 1630.3L669.2 1631.5L668.2 1632.7M705.1 1631.5H707.1M706.1 1630.3L707.1 1631.5L706.1 1632.7M742.1 1631.5H743.1M742.1 1630.3L743.1 1631.5L742.1 1632.7M779.1 1631.5H781.1M780.1 1630.3L781.1 1631.5L780.1 1632.7M816.1 1631.5H818.1M817.1 1630.3L818.1 1631.5L817.1 1632.7M853.1 1631.5H854.1M853.1 1630.3L854.1 1631.5L853.1 1632.7M890.0 1631.5H891.0M890.0 1630.3L891.0 1631.5L890.0 1632.7M927.0 1631.5H930.0M929.0 1630.1L930.0 1631.5L929.0 1632.8M964.0 1631.5H965.0M964.0 1630.3L965.0 1631.5L964.0 1632.7M187.5 1659.6H203.5M198.2 1652.5L203.5 1659.6L198.2 1666.6M224.5 1659.6H232.5M229.8 1656.0L232.5 1659.6L229.8 1663.1M261.4 1659.6H262.4M261.4 1658.4L262.4 1659.6L261.4 1660.8M298.4 1659.6H300.4M299.4 1658.4L300.4 1659.6L299.4 1660.8M335.4 1659.6H330.4M332.0 1657.4L330.4 1659.6L332.0 1661.8M372.4 1659.6H355.4M361.0 1652.1L355.4 1659.6L361.0 1667.0M409.4 1659.6H388.4M395.3 1650.3L388.4 1659.6L395.3 1668.8M446.3 1659.6H428.3M434.3 1651.6L428.3 1659.6L434.3 1667.5M483.3 1659.6H465.3M471.2 1651.6L465.3 1659.6L471.2 1667.5M520.3 1659.6H502.3M508.2 1651.6L502.3 1659.6L508.2 1667.5M557.2 1659.6H552.2M553.9 1657.4L552.2 1659.6L553.9 1661.8M594.2 1659.6H591.2M592.2 1658.2L591.2 1659.6L592.2 1660.9M631.2 1659.6H633.2M632.2 1658.4L633.2 1659.6L632.2 1660.8M668.2 1659.6H669.2M668.2 1658.4L669.2 1659.6L668.2 1660.8M705.1 1659.6H707.1M706.1 1658.4L707.1 1659.6L706.1 1660.8M742.1 1659.6H744.1M743.1 1658.4L744.1 1659.6L743.1 1660.8M779.1 1659.6H782.1M781.1 1658.2L782.1 1659.6L781.1 1660.9M816.1 1659.6H819.1M818.1 1658.2L819.1 1659.6L818.1 1660.9M853.1 1659.6H856.1M855.1 1658.2L856.1 1659.6L855.1 1660.9M890.0 1659.6H893.0M892.0 1658.2L893.0 1659.6L892.0 1660.9M927.0 1659.6H929.0M928.0 1658.4L929.0 1659.6L928.0 1660.8M964.0 1659.6H966.0M965.0 1658.4L966.0 1659.6L965.0 1660.8M187.5 1687.7H197.5M194.2 1683.3L197.5 1687.7L194.2 1692.1M224.5 1687.7H232.5M229.8 1684.1L232.5 1687.7L229.8 1691.2M261.4 1687.7H263.4M262.4 1686.5L263.4 1687.7L262.4 1688.9M298.4 1687.7H299.4M298.4 1686.5L299.4 1687.7L298.4 1688.9M335.4 1687.7H330.4M332.0 1685.5L330.4 1687.7L332.0 1689.9M372.4 1687.7H356.4M361.7 1680.6L356.4 1687.7L361.7 1694.7M409.4 1687.7H388.4M395.3 1678.4L388.4 1687.7L395.3 1696.9M446.3 1687.7H424.3M431.6 1678.0L424.3 1687.7L431.6 1697.3M483.3 1687.7H457.3M465.9 1676.2L457.3 1687.7L465.9 1699.1M520.3 1687.7H495.3M503.5 1676.7L495.3 1687.7L503.5 1698.7M557.2 1687.7H549.2M551.9 1684.1L549.2 1687.7L551.9 1691.2M594.2 1687.7H590.2M591.5 1685.9L590.2 1687.7L591.5 1689.4M631.2 1687.7H633.2M632.2 1686.5L633.2 1687.7L632.2 1688.9M668.2 1687.7H671.2M670.2 1686.3L671.2 1687.7L670.2 1689.0M705.1 1687.7H709.1M707.8 1685.9L709.1 1687.7L707.8 1689.4M742.1 1687.7H745.1M744.1 1686.3L745.1 1687.7L744.1 1689.0M779.1 1687.7H781.1M780.1 1686.5L781.1 1687.7L780.1 1688.9M816.1 1687.7H820.1M818.8 1685.9L820.1 1687.7L818.8 1689.4M853.1 1687.7H857.1M855.7 1685.9L857.1 1687.7L855.7 1689.4M890.0 1687.7H893.0M892.0 1686.3L893.0 1687.7L892.0 1689.0M927.0 1687.7H929.0M928.0 1686.5L929.0 1687.7L928.0 1688.9M964.0 1687.7H967.0M966.0 1686.3L967.0 1687.7L966.0 1689.0M187.5 1715.8H197.5M194.2 1711.3L197.5 1715.8L194.2 1720.2M224.5 1715.8H228.5M227.2 1714.0L228.5 1715.8L227.2 1717.5M261.4 1715.8H262.4M261.4 1714.5L262.4 1715.8L261.4 1717.0M298.4 1715.8H301.4M300.4 1714.4L301.4 1715.8L300.4 1717.1M335.4 1715.8H330.4M332.0 1713.5L330.4 1715.8L332.0 1718.0M372.4 1715.8H354.4M360.3 1707.8L354.4 1715.8L360.3 1723.7M409.4 1715.8H389.4M396.0 1707.0L389.4 1715.8L396.0 1724.5M446.3 1715.8H425.3M432.3 1706.5L425.3 1715.8L432.3 1725.0M483.3 1715.8H457.3M465.9 1704.3L457.3 1715.8L465.9 1727.2M520.3 1715.8H496.3M504.2 1705.2L496.3 1715.8L504.2 1726.3M557.2 1715.8H549.2M551.9 1712.2L549.2 1715.8L551.9 1719.3M594.2 1715.8H580.2M584.8 1709.6L580.2 1715.8L584.8 1721.9M631.2 1715.8H626.2M627.9 1713.5L626.2 1715.8L627.9 1718.0M668.2 1715.8H660.2M662.8 1712.2L660.2 1715.8L662.8 1719.3M705.1 1715.8H700.1M701.8 1713.5L700.1 1715.8L701.8 1718.0M742.1 1715.8H744.1M743.1 1714.5L744.1 1715.8L743.1 1717.0M779.1 1715.8H781.1M780.1 1714.5L781.1 1715.8L780.1 1717.0M816.1 1715.8H820.1M818.8 1714.0L820.1 1715.8L818.8 1717.5M853.1 1715.8H857.1M855.7 1714.0L857.1 1715.8L855.7 1717.5M890.0 1715.8H893.0M892.0 1714.4L893.0 1715.8L892.0 1717.1M927.0 1715.8H930.0M929.0 1714.4L930.0 1715.8L929.0 1717.1M964.0 1715.8H967.0M966.0 1714.4L967.0 1715.8L966.0 1717.1M187.5 1743.8H193.5M191.5 1741.2L193.5 1743.8L191.5 1746.5M224.5 1743.8H227.5M226.5 1742.5L227.5 1743.8L226.5 1745.2M261.4 1743.8H263.4M262.4 1742.6L263.4 1743.8L262.4 1745.0M298.4 1743.8H300.4M299.4 1742.6L300.4 1743.8L299.4 1745.0M335.4 1743.8H330.4M332.0 1741.6L330.4 1743.8L332.0 1746.0M372.4 1743.8H353.4M359.6 1735.5L353.4 1743.8L359.6 1752.2M409.4 1743.8H391.4M397.3 1735.9L391.4 1743.8L397.3 1751.8M446.3 1743.8H425.3M432.3 1734.6L425.3 1743.8L432.3 1753.1M483.3 1743.8H455.3M464.5 1731.5L455.3 1743.8L464.5 1756.2M520.3 1743.8H495.3M503.5 1732.8L495.3 1743.8L503.5 1754.8M557.2 1743.8H549.2M551.9 1740.3L549.2 1743.8L551.9 1747.4M594.2 1743.8H577.2M582.8 1736.4L577.2 1743.8L582.8 1751.3M631.2 1743.8H619.2M623.2 1738.6L619.2 1743.8L623.2 1749.1M668.2 1743.8H656.2M660.1 1738.6L656.2 1743.8L660.1 1749.1M705.1 1743.8H697.1M699.8 1740.3L697.1 1743.8L699.8 1747.4M742.1 1743.8H744.1M743.1 1742.6L744.1 1743.8L743.1 1745.0M779.1 1743.8H781.1M780.1 1742.6L781.1 1743.8L780.1 1745.0M816.1 1743.8H819.1M818.1 1742.5L819.1 1743.8L818.1 1745.2M853.1 1743.8H856.1M855.1 1742.5L856.1 1743.8L855.1 1745.2M890.0 1743.8H893.0M892.0 1742.5L893.0 1743.8L892.0 1745.2M927.0 1743.8H930.0M929.0 1742.5L930.0 1743.8L929.0 1745.2M964.0 1743.8H968.0M966.7 1742.1L968.0 1743.8L966.7 1745.6M187.5 1771.9H199.5M195.5 1766.7L199.5 1771.9L195.5 1777.2M224.5 1771.9H228.5M227.2 1770.2L228.5 1771.9L227.2 1773.7M261.4 1771.9H263.4M262.4 1770.7L263.4 1771.9L262.4 1773.1M298.4 1771.9H294.4M295.7 1770.2L294.4 1771.9L295.7 1773.7M335.4 1771.9H329.4M331.4 1769.3L329.4 1771.9L331.4 1774.6M372.4 1771.9H354.4M360.3 1764.0L354.4 1771.9L360.3 1779.9M409.4 1771.9H394.4M399.3 1765.3L394.4 1771.9L399.3 1778.5M446.3 1771.9H426.3M432.9 1763.1L426.3 1771.9L432.9 1780.7M483.3 1771.9H456.3M465.2 1760.1L456.3 1771.9L465.2 1783.8M520.3 1771.9H493.3M502.2 1760.1L493.3 1771.9L502.2 1783.8M557.2 1771.9H539.2M545.2 1764.0L539.2 1771.9L545.2 1779.9M594.2 1771.9H572.2M579.5 1762.3L572.2 1771.9L579.5 1781.6M631.2 1771.9H611.2M617.8 1763.1L611.2 1771.9L617.8 1780.7M668.2 1771.9H653.2M658.1 1765.3L653.2 1771.9L658.1 1778.5M705.1 1771.9H697.1M699.8 1768.4L697.1 1771.9L699.8 1775.5M742.1 1771.9H746.1M744.8 1770.2L746.1 1771.9L744.8 1773.7M779.1 1771.9H781.1M780.1 1770.7L781.1 1771.9L780.1 1773.1M816.1 1771.9H817.1M816.1 1770.7L817.1 1771.9L816.1 1773.1M853.1 1771.9H855.1M854.1 1770.7L855.1 1771.9L854.1 1773.1M890.0 1771.9H891.0M890.0 1770.7L891.0 1771.9L890.0 1773.1M927.0 1771.9H929.0M928.0 1770.7L929.0 1771.9L928.0 1773.1M964.0 1771.9H967.0M966.0 1770.6L967.0 1771.9L966.0 1773.3M187.5 1800.0H192.5M190.8 1797.8L192.5 1800.0L190.8 1802.2M224.5 1800.0H225.5M224.5 1798.8L225.5 1800.0L224.5 1801.2M261.4 1800.0H264.4M263.4 1798.7L264.4 1800.0L263.4 1801.4M298.4 1800.0H293.4M295.1 1797.8L293.4 1800.0L295.1 1802.2M335.4 1800.0H330.4M332.0 1797.8L330.4 1800.0L332.0 1802.2M372.4 1800.0H357.4M362.3 1793.4L357.4 1800.0L362.3 1806.6M409.4 1800.0H399.4M402.7 1795.6L399.4 1800.0L402.7 1804.4M446.3 1800.0H432.3M436.9 1793.9L432.3 1800.0L436.9 1806.2M483.3 1800.0H459.3M467.2 1789.5L459.3 1800.0L467.2 1810.6M520.3 1800.0H495.3M503.5 1789.0L495.3 1800.0L503.5 1811.0M557.2 1800.0H537.2M543.9 1791.2L537.2 1800.0L543.9 1808.8M594.2 1800.0H572.2M579.5 1790.4L572.2 1800.0L579.5 1809.7M631.2 1800.0H611.2M617.8 1791.2L611.2 1800.0L617.8 1808.8M668.2 1800.0H656.2M660.1 1794.8L656.2 1800.0L660.1 1805.3M705.1 1800.0H697.1M699.8 1796.5L697.1 1800.0L699.8 1803.6M742.1 1800.0H745.1M744.1 1798.7L745.1 1800.0L744.1 1801.4M779.1 1800.0H781.1M780.1 1798.8L781.1 1800.0L780.1 1801.2M816.1 1800.0H818.1M817.1 1798.8L818.1 1800.0L817.1 1801.2M853.1 1800.0H856.1M855.1 1798.7L856.1 1800.0L855.1 1801.4M890.0 1800.0H891.0M890.0 1798.8L891.0 1800.0L890.0 1801.2M927.0 1800.0H929.0M928.0 1798.8L929.0 1800.0L928.0 1801.2M964.0 1800.0H968.0M966.7 1798.3L968.0 1800.0L966.7 1801.8M187.5 1828.1H192.5M190.8 1825.9L192.5 1828.1L190.8 1830.3M224.5 1828.1H225.5M224.5 1826.9L225.5 1828.1L224.5 1829.3M261.4 1828.1H264.4M263.4 1826.8L264.4 1828.1L263.4 1829.5M298.4 1828.1H293.4M295.1 1825.9L293.4 1828.1L295.1 1830.3M335.4 1828.1H330.4M332.0 1825.9L330.4 1828.1L332.0 1830.3M372.4 1828.1H358.4M363.0 1822.0L358.4 1828.1L363.0 1834.3M409.4 1828.1H401.4M404.0 1824.6L401.4 1828.1L404.0 1831.7M446.3 1828.1H436.3M439.6 1823.7L436.3 1828.1L439.6 1832.5M483.3 1828.1H465.3M471.2 1820.2L465.3 1828.1L471.2 1836.1M520.3 1828.1H500.3M506.9 1819.3L500.3 1828.1L506.9 1836.9M557.2 1828.1H538.2M544.5 1819.8L538.2 1828.1L544.5 1836.5M594.2 1828.1H572.2M579.5 1818.5L572.2 1828.1L579.5 1837.8M631.2 1828.1H609.2M616.5 1818.5L609.2 1828.1L616.5 1837.8M668.2 1828.1H653.2M658.1 1821.5L653.2 1828.1L658.1 1834.7M705.1 1828.1H697.1M699.8 1824.6L697.1 1828.1L699.8 1831.7M742.1 1828.1H745.1M744.1 1826.8L745.1 1828.1L744.1 1829.5M779.1 1828.1H781.1M780.1 1826.9L781.1 1828.1L780.1 1829.3M816.1 1828.1H818.1M817.1 1826.9L818.1 1828.1L817.1 1829.3M853.1 1828.1H856.1M855.1 1826.8L856.1 1828.1L855.1 1829.5M890.0 1828.1H891.0M890.0 1826.9L891.0 1828.1L890.0 1829.3M927.0 1828.1H929.0M928.0 1826.9L929.0 1828.1L928.0 1829.3M964.0 1828.1H967.0M966.0 1826.8L967.0 1828.1L966.0 1829.5M187.5 1856.2H190.5M189.5 1854.9L190.5 1856.2L189.5 1857.6M224.5 1856.2H225.5M224.5 1855.0L225.5 1856.2L224.5 1857.4M261.4 1856.2H264.4M263.4 1854.9L264.4 1856.2L263.4 1857.6M298.4 1856.2H293.4M295.1 1854.0L293.4 1856.2L295.1 1858.4M335.4 1856.2H330.4M332.0 1854.0L330.4 1856.2L332.0 1858.4M372.4 1856.2H360.4M364.3 1851.0L360.4 1856.2L364.3 1861.5M409.4 1856.2H401.4M404.0 1852.7L401.4 1856.2L404.0 1859.8M446.3 1856.2H440.3M442.3 1853.6L440.3 1856.2L442.3 1858.9M483.3 1856.2H473.3M476.6 1851.8L473.3 1856.2L476.6 1860.6M520.3 1856.2H505.3M510.2 1849.6L505.3 1856.2L510.2 1862.8M557.2 1856.2H542.2M547.2 1849.6L542.2 1856.2L547.2 1862.8M594.2 1856.2H576.2M582.2 1848.3L576.2 1856.2L582.2 1864.2M631.2 1856.2H613.2M619.1 1848.3L613.2 1856.2L619.1 1864.2M668.2 1856.2H656.2M660.1 1851.0L656.2 1856.2L660.1 1861.5M705.1 1856.2H697.1M699.8 1852.7L697.1 1856.2L699.8 1859.8M742.1 1856.2H744.1M743.1 1855.0L744.1 1856.2L743.1 1857.4M779.1 1856.2H782.1M781.1 1854.9L782.1 1856.2L781.1 1857.6M816.1 1856.2H818.1M817.1 1855.0L818.1 1856.2L817.1 1857.4M853.1 1856.2H855.1M854.1 1855.0L855.1 1856.2L854.1 1857.4M890.0 1856.2H893.0M892.0 1854.9L893.0 1856.2L892.0 1857.6M927.0 1856.2H930.0M929.0 1854.9L930.0 1856.2L929.0 1857.6M964.0 1856.2H968.0M966.7 1854.5L968.0 1856.2L966.7 1858.0M187.5 1884.3H191.5M190.2 1882.6L191.5 1884.3L190.2 1886.1M224.5 1884.3H225.5M224.5 1883.1L225.5 1884.3L224.5 1885.5M261.4 1884.3H263.4M262.4 1883.1L263.4 1884.3L262.4 1885.5M298.4 1884.3H294.4M295.7 1882.6L294.4 1884.3L295.7 1886.1M335.4 1884.3H330.4M332.0 1882.1L330.4 1884.3L332.0 1886.5M372.4 1884.3H360.4M364.3 1879.1L360.4 1884.3L364.3 1889.6M409.4 1884.3H404.4M406.0 1882.1L404.4 1884.3L406.0 1886.5M446.3 1884.3H442.3M443.6 1882.6L442.3 1884.3L443.6 1886.1M483.3 1884.3H476.3M478.6 1881.3L476.3 1884.3L478.6 1887.4M520.3 1884.3H512.3M514.9 1880.8L512.3 1884.3L514.9 1887.9M557.2 1884.3H549.2M551.9 1880.8L549.2 1884.3L551.9 1887.9M594.2 1884.3H576.2M582.2 1876.4L576.2 1884.3L582.2 1892.3M631.2 1884.3H606.2M614.5 1873.3L606.2 1884.3L614.5 1895.3M668.2 1884.3H650.2M656.1 1876.4L650.2 1884.3L656.1 1892.3M705.1 1884.3H699.1M701.1 1881.7L699.1 1884.3L701.1 1887.0M742.1 1884.3H744.1M743.1 1883.1L744.1 1884.3L743.1 1885.5M779.1 1884.3H783.1M781.8 1882.6L783.1 1884.3L781.8 1886.1M816.1 1884.3H818.1M817.1 1883.1L818.1 1884.3L817.1 1885.5M853.1 1884.3H855.1M854.1 1883.1L855.1 1884.3L854.1 1885.5M890.0 1884.3H892.0M891.0 1883.1L892.0 1884.3L891.0 1885.5M927.0 1884.3H930.0M929.0 1883.0L930.0 1884.3L929.0 1885.7M964.0 1884.3H968.0M966.7 1882.6L968.0 1884.3L966.7 1886.1M187.5 1912.4H189.5M188.5 1911.2L189.5 1912.4L188.5 1913.6M224.5 1912.4H226.5M225.5 1911.2L226.5 1912.4L225.5 1913.6M261.4 1912.4H263.4M262.4 1911.2L263.4 1912.4L262.4 1913.6M298.4 1912.4H299.4M298.4 1911.2L299.4 1912.4L298.4 1913.6M335.4 1912.4H337.4M336.4 1911.2L337.4 1912.4L336.4 1913.6M372.4 1912.4H367.4M369.0 1910.2L367.4 1912.4L369.0 1914.6M409.4 1912.4H406.4M407.4 1911.1L406.4 1912.4L407.4 1913.8M446.3 1912.4H441.3M443.0 1910.2L441.3 1912.4L443.0 1914.6M483.3 1912.4H479.3M480.6 1910.7L479.3 1912.4L480.6 1914.2M520.3 1912.4H514.3M516.3 1909.8L514.3 1912.4L516.3 1915.1M557.2 1912.4H551.2M553.2 1909.8L551.2 1912.4L553.2 1915.1M594.2 1912.4H581.2M585.5 1906.7L581.2 1912.4L585.5 1918.2M631.2 1912.4H615.2M620.5 1905.4L615.2 1912.4L620.5 1919.5M668.2 1912.4H654.2M658.8 1906.3L654.2 1912.4L658.8 1918.6M705.1 1912.4H697.1M699.8 1908.9L697.1 1912.4L699.8 1916.0M742.1 1912.4H745.1M744.1 1911.1L745.1 1912.4L744.1 1913.8M779.1 1912.4H783.1M781.8 1910.7L783.1 1912.4L781.8 1914.2M816.1 1912.4H819.1M818.1 1911.1L819.1 1912.4L818.1 1913.8M853.1 1912.4H855.1M854.1 1911.2L855.1 1912.4L854.1 1913.6M890.0 1912.4H892.0M891.0 1911.2L892.0 1912.4L891.0 1913.6M927.0 1912.4H930.0M929.0 1911.1L930.0 1912.4L929.0 1913.8M964.0 1912.4H968.0M966.7 1910.7L968.0 1912.4L966.7 1914.2M187.5 1940.5H188.5M187.5 1939.3L188.5 1940.5L187.5 1941.7M224.5 1940.5H221.5M222.5 1939.2L221.5 1940.5L222.5 1941.8M261.4 1940.5H263.4M262.4 1939.3L263.4 1940.5L262.4 1941.7M298.4 1940.5H299.4M298.4 1939.3L299.4 1940.5L298.4 1941.7M335.4 1940.5H337.4M336.4 1939.3L337.4 1940.5L336.4 1941.7M372.4 1940.5H367.4M369.0 1938.3L367.4 1940.5L369.0 1942.7M409.4 1940.5H411.4M410.4 1939.3L411.4 1940.5L410.4 1941.7M446.3 1940.5H448.3M447.3 1939.3L448.3 1940.5L447.3 1941.7M483.3 1940.5H485.3M484.3 1939.3L485.3 1940.5L484.3 1941.7M520.3 1940.5H522.3M521.3 1939.3L522.3 1940.5L521.3 1941.7M557.2 1940.5H551.2M553.2 1937.9L551.2 1940.5L553.2 1943.2M594.2 1940.5H584.2M587.5 1936.1L584.2 1940.5L587.5 1944.9M631.2 1940.5H619.2M623.2 1935.2L619.2 1940.5L623.2 1945.8M668.2 1940.5H656.2M660.1 1935.2L656.2 1940.5L660.1 1945.8M705.1 1940.5H697.1M699.8 1937.0L697.1 1940.5L699.8 1944.0M742.1 1940.5H736.1M738.1 1937.9L736.1 1940.5L738.1 1943.2M779.1 1940.5H780.1M779.1 1939.3L780.1 1940.5L779.1 1941.7M816.1 1940.5H817.1M816.1 1939.3L817.1 1940.5L816.1 1941.7M853.1 1940.5H855.1M854.1 1939.3L855.1 1940.5L854.1 1941.7M890.0 1940.5H891.0M890.0 1939.3L891.0 1940.5L890.0 1941.7M927.0 1940.5H929.0M928.0 1939.3L929.0 1940.5L928.0 1941.7M964.0 1940.5H968.0M966.7 1938.8L968.0 1940.5L966.7 1942.3M187.5 1968.6H188.5M187.5 1967.4L188.5 1968.6L187.5 1969.8M224.5 1968.6H219.5M221.1 1966.4L219.5 1968.6L221.1 1970.8M261.4 1968.6H263.4M262.4 1967.4L263.4 1968.6L262.4 1969.8M298.4 1968.6H301.4M300.4 1967.3L301.4 1968.6L300.4 1969.9M335.4 1968.6H336.4M335.4 1967.4L336.4 1968.6L335.4 1969.8M372.4 1968.6H374.4M373.4 1967.4L374.4 1968.6L373.4 1969.8M409.4 1968.6H411.4M410.4 1967.4L411.4 1968.6L410.4 1969.8M446.3 1968.6H449.3M448.3 1967.3L449.3 1968.6L448.3 1969.9M483.3 1968.6H488.3M486.7 1966.4L488.3 1968.6L486.7 1970.8M520.3 1968.6H522.3M521.3 1967.4L522.3 1968.6L521.3 1969.8M557.2 1968.6H559.2M558.2 1967.4L559.2 1968.6L558.2 1969.8M594.2 1968.6H590.2M591.5 1966.9L590.2 1968.6L591.5 1970.4M631.2 1968.6H632.2M631.2 1967.4L632.2 1968.6L631.2 1969.8M668.2 1968.6H664.2M665.5 1966.9L664.2 1968.6L665.5 1970.4M705.1 1968.6H701.1M702.5 1966.9L701.1 1968.6L702.5 1970.4M742.1 1968.6H737.1M738.8 1966.4L737.1 1968.6L738.8 1970.8M779.1 1968.6H780.1M779.1 1967.4L780.1 1968.6L779.1 1969.8M816.1 1968.6H818.1M817.1 1967.4L818.1 1968.6L817.1 1969.8M853.1 1968.6H856.1M855.1 1967.3L856.1 1968.6L855.1 1969.9M890.0 1968.6H892.0M891.0 1967.4L892.0 1968.6L891.0 1969.8M927.0 1968.6H928.0M927.0 1967.4L928.0 1968.6L927.0 1969.8M964.0 1968.6H967.0M966.0 1967.3L967.0 1968.6L966.0 1969.9M187.5 1996.7H188.5M187.5 1995.5L188.5 1996.7L187.5 1997.9M224.5 1996.7H219.5M221.1 1994.5L219.5 1996.7L221.1 1998.9M261.4 1996.7H263.4M262.4 1995.5L263.4 1996.7L262.4 1997.9M298.4 1996.7H300.4M299.4 1995.5L300.4 1996.7L299.4 1997.9M335.4 1996.7H336.4M335.4 1995.5L336.4 1996.7L335.4 1997.9M372.4 1996.7H373.4M372.4 1995.5L373.4 1996.7L372.4 1997.9M409.4 1996.7H411.4M410.4 1995.5L411.4 1996.7L410.4 1997.9M446.3 1996.7H451.3M449.7 1994.5L451.3 1996.7L449.7 1998.9M483.3 1996.7H495.3M491.3 1991.4L495.3 1996.7L491.3 2002.0M520.3 1996.7H525.3M523.6 1994.5L525.3 1996.7L523.6 1998.9M557.2 1996.7H559.2M558.2 1995.5L559.2 1996.7L558.2 1997.9M594.2 1996.7H597.2M596.2 1995.4L597.2 1996.7L596.2 1998.0M631.2 1996.7H632.2M631.2 1995.5L632.2 1996.7L631.2 1997.9M668.2 1996.7H669.2M668.2 1995.5L669.2 1996.7L668.2 1997.9M705.1 1996.7H708.1M707.1 1995.4L708.1 1996.7L707.1 1998.0M742.1 1996.7H745.1M744.1 1995.4L745.1 1996.7L744.1 1998.0M779.1 1996.7H782.1M781.1 1995.4L782.1 1996.7L781.1 1998.0M816.1 1996.7H820.1M818.8 1995.0L820.1 1996.7L818.8 1998.5M853.1 1996.7H858.1M856.4 1994.5L858.1 1996.7L856.4 1998.9M890.0 1996.7H893.0M892.0 1995.4L893.0 1996.7L892.0 1998.0M927.0 1996.7H930.0M929.0 1995.4L930.0 1996.7L929.0 1998.0M964.0 1996.7H966.0M965.0 1995.5L966.0 1996.7L965.0 1997.9M187.5 2024.8H188.5M187.5 2023.6L188.5 2024.8L187.5 2026.0M224.5 2024.8H219.5M221.1 2022.6L219.5 2024.8L221.1 2027.0M261.4 2024.8H263.4M262.4 2023.6L263.4 2024.8L262.4 2026.0M298.4 2024.8H304.4M302.4 2022.2L304.4 2024.8L302.4 2027.5M335.4 2024.8H339.4M338.1 2023.1L339.4 2024.8L338.1 2026.6M372.4 2024.8H377.4M375.7 2022.6L377.4 2024.8L375.7 2027.0M409.4 2024.8H424.4M419.4 2018.2L424.4 2024.8L419.4 2031.4M446.3 2024.8H466.3M459.7 2016.0L466.3 2024.8L459.7 2033.6M483.3 2024.8H505.3M498.0 2015.1L505.3 2024.8L498.0 2034.5M520.3 2024.8H535.3M530.3 2018.2L535.3 2024.8L530.3 2031.4M557.2 2024.8H562.2M560.6 2022.6L562.2 2024.8L560.6 2027.0M594.2 2024.8H597.2M596.2 2023.5L597.2 2024.8L596.2 2026.1M631.2 2024.8H635.2M633.9 2023.1L635.2 2024.8L633.9 2026.6M668.2 2024.8H672.2M670.9 2023.1L672.2 2024.8L670.9 2026.6M705.1 2024.8H710.1M708.5 2022.6L710.1 2024.8L708.5 2027.0M742.1 2024.8H745.1M744.1 2023.5L745.1 2024.8L744.1 2026.1M779.1 2024.8H781.1M780.1 2023.6L781.1 2024.8L780.1 2026.0M816.1 2024.8H820.1M818.8 2023.1L820.1 2024.8L818.8 2026.6M853.1 2024.8H858.1M856.4 2022.6L858.1 2024.8L856.4 2027.0M890.0 2024.8H893.0M892.0 2023.5L893.0 2024.8L892.0 2026.1M927.0 2024.8H930.0M929.0 2023.5L930.0 2024.8L929.0 2026.1M964.0 2024.8H966.0M965.0 2023.6L966.0 2024.8L965.0 2026.0M187.5 2052.9H188.5M187.5 2051.7L188.5 2052.9L187.5 2054.1M224.5 2052.9H217.5M219.8 2049.8L217.5 2052.9L219.8 2056.0M261.4 2052.9H263.4M262.4 2051.7L263.4 2052.9L262.4 2054.1M298.4 2052.9H303.4M301.8 2050.7L303.4 2052.9L301.8 2055.1M335.4 2052.9H339.4M338.1 2051.2L339.4 2052.9L338.1 2054.7M372.4 2052.9H380.4M377.7 2049.4L380.4 2052.9L377.7 2056.4M409.4 2052.9H427.4M421.4 2045.0L427.4 2052.9L421.4 2060.8M446.3 2052.9H466.3M459.7 2044.1L466.3 2052.9L459.7 2061.7M483.3 2052.9H505.3M498.0 2043.2L505.3 2052.9L498.0 2062.6M520.3 2052.9H538.3M532.3 2045.0L538.3 2052.9L532.3 2060.8M557.2 2052.9H570.2M566.0 2047.2L570.2 2052.9L566.0 2058.6M594.2 2052.9H607.2M602.9 2047.2L607.2 2052.9L602.9 2058.6M631.2 2052.9H645.2M640.6 2046.8L645.2 2052.9L640.6 2059.1M668.2 2052.9H678.2M674.9 2048.5L678.2 2052.9L674.9 2057.3M705.1 2052.9H717.1M713.2 2047.6L717.1 2052.9L713.2 2058.2M742.1 2052.9H744.1M743.1 2051.7L744.1 2052.9L743.1 2054.1M779.1 2052.9H782.1M781.1 2051.6L782.1 2052.9L781.1 2054.2M816.1 2052.9H820.1M818.8 2051.2L820.1 2052.9L818.8 2054.7M853.1 2052.9H857.1M855.7 2051.2L857.1 2052.9L855.7 2054.7M890.0 2052.9H893.0M892.0 2051.6L893.0 2052.9L892.0 2054.2M927.0 2052.9H930.0M929.0 2051.6L930.0 2052.9L929.0 2054.2M964.0 2052.9H967.0M966.0 2051.6L967.0 2052.9L966.0 2054.2M187.5 2081.0H188.5M187.5 2079.8L188.5 2081.0L187.5 2082.2M224.5 2081.0H217.5M219.8 2077.9L217.5 2081.0L219.8 2084.1M261.4 2081.0H262.4M261.4 2079.8L262.4 2081.0L261.4 2082.2M298.4 2081.0H303.4M301.8 2078.8L303.4 2081.0L301.8 2083.2M335.4 2081.0H340.4M338.8 2078.8L340.4 2081.0L338.8 2083.2M372.4 2081.0H380.4M377.7 2077.5L380.4 2081.0L377.7 2084.5M409.4 2081.0H428.4M422.1 2072.7L428.4 2081.0L422.1 2089.4M446.3 2081.0H468.3M461.1 2071.3L468.3 2081.0L461.1 2090.7M483.3 2081.0H505.3M498.0 2071.3L505.3 2081.0L498.0 2090.7M520.3 2081.0H542.3M535.0 2071.3L542.3 2081.0L535.0 2090.7M557.2 2081.0H577.2M570.6 2072.2L577.2 2081.0L570.6 2089.8M594.2 2081.0H614.2M607.6 2072.2L614.2 2081.0L607.6 2089.8M631.2 2081.0H648.2M642.6 2073.5L648.2 2081.0L642.6 2088.5M668.2 2081.0H682.2M677.6 2074.9L682.2 2081.0L677.6 2087.2M705.1 2081.0H721.1M715.9 2074.0L721.1 2081.0L715.9 2088.1M742.1 2081.0H743.1M742.1 2079.8L743.1 2081.0L742.1 2082.2M779.1 2081.0H781.1M780.1 2079.8L781.1 2081.0L780.1 2082.2M816.1 2081.0H820.1M818.8 2079.3L820.1 2081.0L818.8 2082.8M853.1 2081.0H857.1M855.7 2079.3L857.1 2081.0L855.7 2082.8M890.0 2081.0H891.0M890.0 2079.8L891.0 2081.0L890.0 2082.2M927.0 2081.0H928.0M927.0 2079.8L928.0 2081.0L927.0 2082.2M964.0 2081.0H965.0M964.0 2079.8L965.0 2081.0L964.0 2082.2M187.5 2109.1H188.5M187.5 2107.9L188.5 2109.1L187.5 2110.3M224.5 2109.1H219.5M221.1 2106.9L219.5 2109.1L221.1 2111.3M261.4 2109.1H262.4M261.4 2107.9L262.4 2109.1L261.4 2110.3M298.4 2109.1H303.4M301.8 2106.9L303.4 2109.1L301.8 2111.3M335.4 2109.1H338.4M337.4 2107.8L338.4 2109.1L337.4 2110.4M372.4 2109.1H378.4M376.4 2106.5L378.4 2109.1L376.4 2111.8M409.4 2109.1H415.4M413.4 2106.5L415.4 2109.1L413.4 2111.8M446.3 2109.1H458.3M454.4 2103.8L458.3 2109.1L454.4 2114.4M483.3 2109.1H500.3M494.7 2101.6L500.3 2109.1L494.7 2116.6M520.3 2109.1H537.3M531.7 2101.6L537.3 2109.1L531.7 2116.6M557.2 2109.1H577.2M570.6 2100.3L577.2 2109.1L570.6 2117.9M594.2 2109.1H614.2M607.6 2100.3L614.2 2109.1L607.6 2117.9M631.2 2109.1H649.2M643.3 2101.2L649.2 2109.1L643.3 2117.0M668.2 2109.1H682.2M677.6 2103.0L682.2 2109.1L677.6 2115.3M705.1 2109.1H720.1M715.2 2102.5L720.1 2109.1L715.2 2115.7M742.1 2109.1H743.1M742.1 2107.9L743.1 2109.1L742.1 2110.3M779.1 2109.1H780.1M779.1 2107.9L780.1 2109.1L779.1 2110.3M816.1 2109.1H820.1M818.8 2107.4L820.1 2109.1L818.8 2110.9M853.1 2109.1H857.1M855.7 2107.4L857.1 2109.1L855.7 2110.9M890.0 2109.1H891.0M890.0 2107.9L891.0 2109.1L890.0 2110.3M927.0 2109.1H928.0M927.0 2107.9L928.0 2109.1L927.0 2110.3M964.0 2109.1H965.0M964.0 2107.9L965.0 2109.1L964.0 2110.3M187.5 2137.2H188.5M187.5 2136.0L188.5 2137.2L187.5 2138.4M224.5 2137.2H225.5M224.5 2136.0L225.5 2137.2L224.5 2138.4M261.4 2137.2H267.4M265.5 2134.6L267.4 2137.2L265.5 2139.8M298.4 2137.2H310.4M306.5 2131.9L310.4 2137.2L306.5 2142.5M335.4 2137.2H339.4M338.1 2135.4L339.4 2137.2L338.1 2139.0M372.4 2137.2H378.4M376.4 2134.6L378.4 2137.2L376.4 2139.8M409.4 2137.2H413.4M412.0 2135.4L413.4 2137.2L412.0 2139.0M446.3 2137.2H456.3M453.0 2132.8L456.3 2137.2L453.0 2141.6M483.3 2137.2H498.3M493.4 2130.6L498.3 2137.2L493.4 2143.8M520.3 2137.2H535.3M530.3 2130.6L535.3 2137.2L530.3 2143.8M557.2 2137.2H573.2M568.0 2130.2L573.2 2137.2L568.0 2144.2M594.2 2137.2H609.2M604.3 2130.6L609.2 2137.2L604.3 2143.8M631.2 2137.2H645.2M640.6 2131.0L645.2 2137.2L640.6 2143.4M668.2 2137.2H680.2M676.2 2131.9L680.2 2137.2L676.2 2142.5M705.1 2137.2H710.1M708.5 2135.0L710.1 2137.2L708.5 2139.4M742.1 2137.2H747.1M745.5 2135.0L747.1 2137.2L745.5 2139.4M779.1 2137.2H771.1M773.7 2133.7L771.1 2137.2L773.7 2140.7M816.1 2137.2H806.1M809.4 2132.8L806.1 2137.2L809.4 2141.6M853.1 2137.2H849.1M850.4 2135.4L849.1 2137.2L850.4 2139.0M890.0 2137.2H891.0M890.0 2136.0L891.0 2137.2L890.0 2138.4M927.0 2137.2H928.0M927.0 2136.0L928.0 2137.2L927.0 2138.4M964.0 2137.2H965.0M964.0 2136.0L965.0 2137.2L964.0 2138.4M187.5 2165.3H188.5M187.5 2164.1L188.5 2165.3L187.5 2166.5M224.5 2165.3H225.5M224.5 2164.1L225.5 2165.3L224.5 2166.5M261.4 2165.3H265.4M264.1 2163.5L265.4 2165.3L264.1 2167.1M298.4 2165.3H308.4M305.1 2160.9L308.4 2165.3L305.1 2169.7M335.4 2165.3H336.4M335.4 2164.1L336.4 2165.3L335.4 2166.5M372.4 2165.3H376.4M375.1 2163.5L376.4 2165.3L375.1 2167.1M409.4 2165.3H413.4M412.0 2163.5L413.4 2165.3L412.0 2167.1M446.3 2165.3H456.3M453.0 2160.9L456.3 2165.3L453.0 2169.7M483.3 2165.3H497.3M492.7 2159.1L497.3 2165.3L492.7 2171.5M520.3 2165.3H535.3M530.3 2158.7L535.3 2165.3L530.3 2171.9M557.2 2165.3H573.2M568.0 2158.3L573.2 2165.3L568.0 2172.3M594.2 2165.3H609.2M604.3 2158.7L609.2 2165.3L604.3 2171.9M631.2 2165.3H646.2M641.2 2158.7L646.2 2165.3L641.2 2171.9M668.2 2165.3H682.2M677.6 2159.1L682.2 2165.3L677.6 2171.5M705.1 2165.3H709.1M707.8 2163.5L709.1 2165.3L707.8 2167.1M742.1 2165.3H746.1M744.8 2163.5L746.1 2165.3L744.8 2167.1M779.1 2165.3H769.1M772.4 2160.9L769.1 2165.3L772.4 2169.7M816.1 2165.3H806.1M809.4 2160.9L806.1 2165.3L809.4 2169.7M853.1 2165.3H848.1M849.7 2163.1L848.1 2165.3L849.7 2167.5M890.0 2165.3H886.0M887.3 2163.5L886.0 2165.3L887.3 2167.1M927.0 2165.3H928.0M927.0 2164.1L928.0 2165.3L927.0 2166.5M964.0 2165.3H965.0M964.0 2164.1L965.0 2165.3L964.0 2166.5M187.5 2193.4H188.5M187.5 2192.2L188.5 2193.4L187.5 2194.6M224.5 2193.4H225.5M224.5 2192.2L225.5 2193.4L224.5 2194.6M261.4 2193.4H267.4M265.5 2190.8L267.4 2193.4L265.5 2196.0M298.4 2193.4H310.4M306.5 2188.1L310.4 2193.4L306.5 2198.7M335.4 2193.4H336.4M335.4 2192.2L336.4 2193.4L335.4 2194.6M372.4 2193.4H376.4M375.1 2191.6L376.4 2193.4L375.1 2195.2M409.4 2193.4H413.4M412.0 2191.6L413.4 2193.4L412.0 2195.2M446.3 2193.4H456.3M453.0 2189.0L456.3 2193.4L453.0 2197.8M483.3 2193.4H497.3M492.7 2187.2L497.3 2193.4L492.7 2199.6M520.3 2193.4H534.3M529.7 2187.2L534.3 2193.4L529.7 2199.6M557.2 2193.4H571.2M566.6 2187.2L571.2 2193.4L566.6 2199.6M594.2 2193.4H606.2M602.3 2188.1L606.2 2193.4L602.3 2198.7M631.2 2193.4H645.2M640.6 2187.2L645.2 2193.4L640.6 2199.6M668.2 2193.4H680.2M676.2 2188.1L680.2 2193.4L676.2 2198.7M705.1 2193.4H708.1M707.1 2192.1L708.1 2193.4L707.1 2194.7M742.1 2193.4H746.1M744.8 2191.6L746.1 2193.4L744.8 2195.2M779.1 2193.4H767.1M771.1 2188.1L767.1 2193.4L771.1 2198.7M816.1 2193.4H804.1M808.0 2188.1L804.1 2193.4L808.0 2198.7M853.1 2193.4H847.1M849.0 2190.8L847.1 2193.4L849.0 2196.0M890.0 2193.4H885.0M886.7 2191.2L885.0 2193.4L886.7 2195.6M927.0 2193.4H928.0M927.0 2192.2L928.0 2193.4L927.0 2194.6M964.0 2193.4H965.0M964.0 2192.2L965.0 2193.4L964.0 2194.6M187.5 2221.5H188.5M187.5 2220.3L188.5 2221.5L187.5 2222.7M224.5 2221.5H225.5M224.5 2220.3L225.5 2221.5L224.5 2222.7M261.4 2221.5H265.4M264.1 2219.7L265.4 2221.5L264.1 2223.3M298.4 2221.5H304.4M302.4 2218.9L304.4 2221.5L302.4 2224.1M335.4 2221.5H336.4M335.4 2220.3L336.4 2221.5L335.4 2222.7M372.4 2221.5H373.4M372.4 2220.3L373.4 2221.5L372.4 2222.7M409.4 2221.5H410.4M409.4 2220.3L410.4 2221.5L409.4 2222.7M446.3 2221.5H452.3M450.3 2218.9L452.3 2221.5L450.3 2224.1M483.3 2221.5H491.3M488.7 2218.0L491.3 2221.5L488.7 2225.0M520.3 2221.5H528.3M525.6 2218.0L528.3 2221.5L525.6 2225.0M557.2 2221.5H565.2M562.6 2218.0L565.2 2221.5L562.6 2225.0M594.2 2221.5H602.2M599.6 2218.0L602.2 2221.5L599.6 2225.0M631.2 2221.5H639.2M636.6 2218.0L639.2 2221.5L636.6 2225.0M668.2 2221.5H676.2M673.5 2218.0L676.2 2221.5L673.5 2225.0M705.1 2221.5H707.1M706.1 2220.3L707.1 2221.5L706.1 2222.7M742.1 2221.5H744.1M743.1 2220.3L744.1 2221.5L743.1 2222.7M779.1 2221.5H771.1M773.7 2218.0L771.1 2221.5L773.7 2225.0M816.1 2221.5H808.1M810.7 2218.0L808.1 2221.5L810.7 2225.0M853.1 2221.5H849.1M850.4 2219.7L849.1 2221.5L850.4 2223.3M890.0 2221.5H887.0M888.0 2220.2L887.0 2221.5L888.0 2222.8M927.0 2221.5H928.0M927.0 2220.3L928.0 2221.5L927.0 2222.7M964.0 2221.5H965.0M964.0 2220.3L965.0 2221.5L964.0 2222.7"/>
<rect x="808.0" y="1210.0" width="180.0" height="84" fill="#fff"/>
<path fill="none" stroke="#000" stroke-width="3.4" d="M848.4 1237.6H928.7M919.2 1227.1L928.7 1237.6L919.2 1248.1"/>
<text x="814.9" y="1283.5" font-size="30.5" fill="#000">0.04 N m</text>
<text x="946.5" y="1267" font-size="25" fill="#000">-2</text>
<line x1="335.4" y1="1210" x2="335.4" y2="2221.5" stroke="#808080" stroke-width="2.2" stroke-opacity="0.4"/>
<line x1="483.3" y1="1210" x2="483.3" y2="2221.5" stroke="#808080" stroke-width="2.2" stroke-opacity="0.4"/>
<line x1="631.2" y1="1210" x2="631.2" y2="2221.5" stroke="#808080" stroke-width="2.2" stroke-opacity="0.4"/>
<line x1="779.1" y1="1210" x2="779.1" y2="2221.5" stroke="#808080" stroke-width="2.2" stroke-opacity="0.4"/>
<line x1="927" y1="1210" x2="927" y2="2221.5" stroke="#808080" stroke-width="2.2" stroke-opacity="0.4"/>
<line x1="187.5" y1="2137.2" x2="976.3" y2="2137.2" stroke="#808080" stroke-width="2.2" stroke-opacity="0.4"/>
<line x1="187.5" y1="2052.9" x2="976.3" y2="2052.9" stroke="#808080" stroke-width="2.2" stroke-opacity="0.4"/>
<line x1="187.5" y1="1968.6" x2="976.3" y2="1968.6" stroke="#808080" stroke-width="2.2" stroke-opacity="0.4"/>
<line x1="187.5" y1="1884.3" x2="976.3" y2="1884.3" stroke="#808080" stroke-width="2.2" stroke-opacity="0.4"/>
<line x1="187.5" y1="1800" x2="976.3" y2="1800" stroke="#808080" stroke-width="2.2" stroke-opacity="0.4"/>
<line x1="187.5" y1="1715.8" x2="976.3" y2="1715.8" stroke="#808080" stroke-width="2.2" stroke-opacity="0.4"/>
<line x1="187.5" y1="1631.5" x2="976.3" y2="1631.5" stroke="#808080" stroke-width="2.2" stroke-opacity="0.4"/>
<line x1="187.5" y1="1547.2" x2="976.3" y2="1547.2" stroke="#808080" stroke-width="2.2" stroke-opacity="0.4"/>
<line x1="187.5" y1="1462.9" x2="976.3" y2="1462.9" stroke="#808080" stroke-width="2.2" stroke-opacity="0.4"/>
<line x1="187.5" y1="1378.6" x2="976.3" y2="1378.6" stroke="#808080" stroke-width="2.2" stroke-opacity="0.4"/>
<line x1="187.5" y1="1294.3" x2="976.3" y2="1294.3" stroke="#808080" stroke-width="2.2" stroke-opacity="0.4"/>
</g>
<line x1="187.5" y1="1210" x2="976.3" y2="1210" stroke="#1a1a1a" stroke-width="3" />
<line x1="187.5" y1="2221.5" x2="976.3" y2="2221.5" stroke="#1a1a1a" stroke-width="3" />
<line x1="187.5" y1="1208.5" x2="187.5" y2="2223" stroke="#1a1a1a" stroke-width="3" />
<line x1="976.3" y1="1208.5" x2="976.3" y2="2223" stroke="#1a1a1a" stroke-width="3" />
<line x1="175.5" y1="2221.5" x2="187.5" y2="2221.5" stroke="#1a1a1a" stroke-width="3" />
<line x1="976.3" y1="2221.5" x2="988.3" y2="2221.5" stroke="#1a1a1a" stroke-width="3" />
<text x="164" y="2237.5" font-size="40" text-anchor="end" font-weight="normal" >Jun(0)</text>
<line x1="175.5" y1="2137.2" x2="187.5" y2="2137.2" stroke="#1a1a1a" stroke-width="3" />
<line x1="976.3" y1="2137.2" x2="988.3" y2="2137.2" stroke="#1a1a1a" stroke-width="3" />
<text x="164" y="2153.2" font-size="40" text-anchor="end" font-weight="normal" >Sep(0)</text>
<line x1="175.5" y1="2052.9" x2="187.5" y2="2052.9" stroke="#1a1a1a" stroke-width="3" />
<line x1="976.3" y1="2052.9" x2="988.3" y2="2052.9" stroke="#1a1a1a" stroke-width="3" />
<text x="164" y="2068.9" font-size="40" text-anchor="end" font-weight="normal" >Dec(0)</text>
<line x1="175.5" y1="1968.6" x2="187.5" y2="1968.6" stroke="#1a1a1a" stroke-width="3" />
<line x1="976.3" y1="1968.6" x2="988.3" y2="1968.6" stroke="#1a1a1a" stroke-width="3" />
<text x="164" y="1984.6" font-size="40" text-anchor="end" font-weight="normal" >Mar(1)</text>
<line x1="175.5" y1="1884.3" x2="187.5" y2="1884.3" stroke="#1a1a1a" stroke-width="3" />
<line x1="976.3" y1="1884.3" x2="988.3" y2="1884.3" stroke="#1a1a1a" stroke-width="3" />
<text x="164" y="1900.3" font-size="40" text-anchor="end" font-weight="normal" >Jun(1)</text>
<line x1="175.5" y1="1800" x2="187.5" y2="1800" stroke="#1a1a1a" stroke-width="3" />
<line x1="976.3" y1="1800" x2="988.3" y2="1800" stroke="#1a1a1a" stroke-width="3" />
<text x="164" y="1816" font-size="40" text-anchor="end" font-weight="normal" >Sep(1)</text>
<line x1="175.5" y1="1715.8" x2="187.5" y2="1715.8" stroke="#1a1a1a" stroke-width="3" />
<line x1="976.3" y1="1715.8" x2="988.3" y2="1715.8" stroke="#1a1a1a" stroke-width="3" />
<text x="164" y="1731.8" font-size="40" text-anchor="end" font-weight="normal" >Dec(1)</text>
<line x1="175.5" y1="1631.5" x2="187.5" y2="1631.5" stroke="#1a1a1a" stroke-width="3" />
<line x1="976.3" y1="1631.5" x2="988.3" y2="1631.5" stroke="#1a1a1a" stroke-width="3" />
<text x="164" y="1647.5" font-size="40" text-anchor="end" font-weight="normal" >Mar(2)</text>
<line x1="175.5" y1="1547.2" x2="187.5" y2="1547.2" stroke="#1a1a1a" stroke-width="3" />
<line x1="976.3" y1="1547.2" x2="988.3" y2="1547.2" stroke="#1a1a1a" stroke-width="3" />
<text x="164" y="1563.2" font-size="40" text-anchor="end" font-weight="normal" >Jun(2)</text>
<line x1="175.5" y1="1462.9" x2="187.5" y2="1462.9" stroke="#1a1a1a" stroke-width="3" />
<line x1="976.3" y1="1462.9" x2="988.3" y2="1462.9" stroke="#1a1a1a" stroke-width="3" />
<text x="164" y="1478.9" font-size="40" text-anchor="end" font-weight="normal" >Sep(2)</text>
<line x1="175.5" y1="1378.6" x2="187.5" y2="1378.6" stroke="#1a1a1a" stroke-width="3" />
<line x1="976.3" y1="1378.6" x2="988.3" y2="1378.6" stroke="#1a1a1a" stroke-width="3" />
<text x="164" y="1394.6" font-size="40" text-anchor="end" font-weight="normal" >Dec(2)</text>
<line x1="175.5" y1="1294.3" x2="187.5" y2="1294.3" stroke="#1a1a1a" stroke-width="3" />
<line x1="976.3" y1="1294.3" x2="988.3" y2="1294.3" stroke="#1a1a1a" stroke-width="3" />
<text x="164" y="1310.3" font-size="40" text-anchor="end" font-weight="normal" >Mar(3)</text>
<line x1="175.5" y1="1210" x2="187.5" y2="1210" stroke="#1a1a1a" stroke-width="3" />
<line x1="976.3" y1="1210" x2="988.3" y2="1210" stroke="#1a1a1a" stroke-width="3" />
<text x="164" y="1226" font-size="40" text-anchor="end" font-weight="normal" >Jun(3)</text>
<line x1="187.5" y1="2221.5" x2="187.5" y2="2233.5" stroke="#1a1a1a" stroke-width="3" />
<line x1="187.5" y1="1198" x2="187.5" y2="1210" stroke="#1a1a1a" stroke-width="3" />
<text x="188.2" y="2286" font-size="40" text-anchor="middle" font-weight="normal" >120°E</text>
<line x1="335.4" y1="2221.5" x2="335.4" y2="2233.5" stroke="#1a1a1a" stroke-width="3" />
<line x1="335.4" y1="1198" x2="335.4" y2="1210" stroke="#1a1a1a" stroke-width="3" />
<text x="336.1" y="2286" font-size="40" text-anchor="middle" font-weight="normal" >150°E</text>
<line x1="483.3" y1="2221.5" x2="483.3" y2="2233.5" stroke="#1a1a1a" stroke-width="3" />
<line x1="483.3" y1="1198" x2="483.3" y2="1210" stroke="#1a1a1a" stroke-width="3" />
<text x="484" y="2286" font-size="40" text-anchor="middle" font-weight="normal" >180°</text>
<line x1="631.2" y1="2221.5" x2="631.2" y2="2233.5" stroke="#1a1a1a" stroke-width="3" />
<line x1="631.2" y1="1198" x2="631.2" y2="1210" stroke="#1a1a1a" stroke-width="3" />
<text x="631.9" y="2286" font-size="40" text-anchor="middle" font-weight="normal" >150°W</text>
<line x1="779.1" y1="2221.5" x2="779.1" y2="2233.5" stroke="#1a1a1a" stroke-width="3" />
<line x1="779.1" y1="1198" x2="779.1" y2="1210" stroke="#1a1a1a" stroke-width="3" />
<text x="779.8" y="2286" font-size="40" text-anchor="middle" font-weight="normal" >120°W</text>
<line x1="927" y1="2221.5" x2="927" y2="2233.5" stroke="#1a1a1a" stroke-width="3" />
<line x1="927" y1="1198" x2="927" y2="1210" stroke="#1a1a1a" stroke-width="3" />
<text x="927.7" y="2286" font-size="40" text-anchor="middle" font-weight="normal" >90°W</text>
<text x="596.8" y="1186.2" font-size="45.6" text-anchor="middle" font-weight="bold" fill="#000">Single-year La Niña</text>
<text x="1" y="1177" font-size="58" text-anchor="start" font-weight="bold" fill="#000">b</text>
<clipPath id="clipc"><rect x="1282.5" y="1210.0" width="788.8" height="1011.5"/></clipPath>
<g clip-path="url(#clipc)">
<rect x="1282.5" y="1210.0" width="788.8" height="1011.5" fill="#8c1ee6"/>
<path fill="#4010f0" d="M1287 2222l784 0 0-1012-789 0 0 1012zM1789 1758l-4-2-3-5-7-14-8-7-14-7-7-5-6-9-1-7 1-7 5-7 11-6 5-2 10 0 9 3 8 5 12 12 18 16 4 7 2 7-1 7-1 7-4 7-8 5-5 2-10 1zM1651 1730l-5-7-4-14-1-21 1-21-5-29 2-7 6-7 7-2 5 0 7 2 13 7 9 7 7 8 4 7 7 28-1 7-6 7-9 7-6 7-7 14-5 7-3 2-5 1-5 0zM1654 1400l-5-7-3-7 0-7 1-8 5-9 5-5 5-3 5-1 5 1 4 4 3 7 3 28-2 7-8 4-5 1-5-1z"/>
<path fill="#0a10fa" d="M1287 2222l784 0 0-1012-789 0 0 1012zM1815 1793l-25-8-33-6-13-7-13-10-10-3-15-1-9 1-10 2-15 6-5 1-5-1-5-2-15-18-6-10-5-28-7-21-1-7 1-21-1-22 0-7 2-7 6-7 11-6 10-2 5 1 10 3 25 12 14 6 8 7 2 24 5 9 5 4 10 0 30-8 14-1 10 2 5 3 19 17 6 4 10 5 10 3 14 2 35-4 34-2 5 1 5 3 2 2-4 21 0 14 5 21 0 7-3 7-10 5-9 3-45 1-15 3-24 9zM1896 1421l-4-7-3-21 0-7 1-7 7-7 7-3 14 0 11 3 6 7 1 7-1 28-2 7-5 2-10 2-14-1zM1652 1414l-5-4-6-10-4-12 0-9 1-7 4-14 10-22 5-4 10-2 37 6 2 7-5 29 0 7 5 14 0 7-2 7-9 7-13 3-15 1-10-2z"/>
<path fill="#3048e0" d="M1287 2222l784 0 0-1012-789 0 0 1012zM1796 1807l-25-12-35-7-20-6-10 0-24 4-10 0-15-4-10-7-24-31-2-7 1-21-2-7-15-21-2-7 3-50 1-7 4-7 6-7 13-7 12-4 10-2 10 1 10 3 25 13 34 10 11 7 9 12 5 3 10 0 24-5 10 2 5 2 5 5 15 18 10 5 10 1 24-4 5 1 20 8 10 2 39-4 10 4 5 5 4 9 2 7 2 28-1 42-3 7-4 5-5 3-10 2-20 4-39-1-10 1-10 3-24 10-10 3-20 1zM1863 1442l-9-5-24-21-15-14-5-4-10-2-10 2-14 11-10 6-50 12-49 2-10-1-10-3-6-4-5-7-4-14-3-14 0-14 8-43 4-7 6-6 5-3 10-3 10 0 20 3 24 1 8 1 7 3 7 4 13 12 5 3 13 6 21 13 15 5 25 1 46-4 42-3 20 1 10 2 9 7 5 7 2 7-1 21 1 7 6 14 1 7-3 7-10 6-10 2-39-1-30 2-10 0z"/>
<path fill="#4060e0" d="M1287 2222l784 0 0-1012-789 0 0 1012zM1789 1821l-13-3-20-6-10 0-20 5-15 1-9 1-10-2-10-4-17-13-18-11-5-5-14-20-21-20-3-7-1-15-3-6-10-7-3-7-1-21 0-57 2-12 5-7 5-3 25-8 29-11 10-2 10 1 10 4 13 10 12 7 49 19 15 3 29-1 15 3 8 4 13 15 9 4 34 3 10 4 15 9 5 1 9 1 25-3 10 2 12 7 18 23 22 19 3 7-1 7-2 14 0 7 4 14 0 7-2 7-12 28-5 7-7 5-5 2-10-1-20-8-10-2-29 0-20-2-10 1-25 8-14 3-25 2zM1846 1456l-6-3-5-4-20-20-10-7-5-2-10 0-26 8-33 13-10 2-34 1-25 2-15-3-14-7-8-8-2-7-2-28-1-14 2-29-1-14 1-7 3-7 5-7 7-6 12-8 13-4 10 0 59 11 14 7 21 14 34 14 15 1 25-2 54 4 49-1 15 2 15 6 27 19 5 7 2 7-2 21 4 14 1 7-2 7-8 7-17 9-15 4-15 1-39-1-50 2z"/>
<path fill="#2080f0" d="M1287 2222l784 0 0-1012-789 0 0 1012zM1838 1842l-18-6-15-2-113 2-15-2-10-4-5-3-5-6-9-14-15-19-11-16-7-7-21-14-16-19-5-9-2-7-1-7 2-28 0-43-5-35 3-7 5-7 8-5 5 0 20 1 10-2 5-1 19-11 15-6 20-4 10 0 10 4 9 7 17 17 8 7 12 7 13 6 10 2 10 1 39-2 15 1 10 5 11 15 8 5 11 2 29 2 10 3 14 8 30 3 15 5 10 7 13 15 6 5 20 11 10 7 10 12 3 7 1 7-8 35-5 14-25 42-5 7-6 5-9 4-35 10-10 2-39-5-45 2-9-1zM1632 1526l-3-7-1-14 1-7 9-21 0-7-3-7-7-7-25-14-5-7-1-7 1-7 7-28 1-28-3-13-10-16 0-7 5-7 20-11 24-17 10-4 10-2 15 0 49 11 20 6 28 17 21 6 40 0 29 7 20 3 20 0 44-2 15 0 10 2 15 5 30 15 10 7 6 7 3 7 2 7 1 7-1 7-8 35-3 7-6 8-25 23-10 6-4 1-10 1-25-4-30 2-24-8-10-2-15 0-24 2-10-1-15-6-15-12-10-5-10-4-9-1-10 2-20 8-30 6-9 5-5 7-3 21-3 7-6 7-23 21-10 5-10 1-10-2z"/>
<path fill="#10a0ff" d="M1287 2222l784 0 0-462-5-2-5 1-4 2-5 5-23 34-17 34-6 8-9 5-19 5-30 10-20 2-44 0-39 1-12-2-27-14-11-2-93 3-15-1-15-3-15-7-10-7-8-11-26-42-10-7-15-6-5-3-5-5-14-21-3-7-2-14 3-78-3-13-8-15-2-7 2-7 17-23 5-5 18-14 3-7 7-42 0-14-3-8-5-3-5-2-24-2-5-2-4-4-2-7-1-14 1-7 11-17 3-11 1-14-1-71 3-14 5-7 8-3 20-2 10-2 10-5 19-11 10-4 10-2 15 1 29 5 35 8 15 5 20 12 14 5 10 2 35-1 10 2 24 9 15 2 74-2 25 1 19 6 55 25 9 2 5-1 0-150-789 0 0 1012zM2052 1697l9 4 10-1 0-280-5-1-5 0-4 2-5 5-5 9-6 21-4 7-19 21-11 7-22 7-12 1-59 0-10-3-20-10-10-3-10-1-34 2-35-7-19 2-10 0-20-7-10-1-10 2-5 4-4 7-6 25-7 17 0 7 3 7 10 14 39 34 5 3 10 3 29-2 45 6 14 5 12 14 8 5 35 3 9 3 21 10 39 6 9 5 20 18z"/>
<path fill="#00beff" d="M1287 2222l784 0 0-438-5-2-5 1-4 3-5 5-20 32-12 26-8 9-10 3-19 3-25 5-49 9-15 1-59-1-15-3-25-6-5 0-14 4-10 1-20-7-10-2-10-1-29 1-10-2-15-5-20-8-15-11-43-46-16-9-5-4-6-8-17-28-2-7-1-7 2-28 0-35 1-29-1-7-14-21-2-7 2-7 15-21 3-7 8-21 2-7 0-7-1-7-3-8-5-6-15-9-5-4-4-8-1-7 3-21-3-21 1-7 4-7 14-14 3-7 1-7-2-28 1-43-1-21 0-7 4-8 6-6 8-5 5-2 5 1 15 6 15 3 10-2 24-13 15-4 15-1 64 7 20 3 10 3 19 16 10 4 10 1 30-1 10 0 9 3 20 8 9 1 26-2 34 4 44 0 15 3 45 21 14 3 10 0 0-134-789 0 0 1012zM2061 1675l5 0 5-1 0-194-5-1-9 1-35 18-30 11-14 3-74-2-15-3-20-7-10-1-54 4-49 1-5 1-5 4-5 17-2 14 2 7 7 7 8 5 10 3 29-1 10 3 5 3 9 8 11 6 10 3 24 4 10 3 5 3 10 9 16 7 23 5 20 6 10 0 20-2 9 1 5 2 16 9 39 36 10 6z"/>
<path fill="#50bef0" d="M1287 2222l784 0 0-402-5-2-5 1-9 4-5 4-10 11-10 18-5 8-5 4-10 6-15 3-34 2-15 2-14 3-15 6-15 3-35-2-59 3-20-1-14-1-45-14-29 1-15-2-40-18-24-17-5-2-10 0-15 4-5 1-10-2-5-3-6-5-6-7-3-7 1-7 5-14-1-7-7-21-15-21-3-7-3-14-4-63 5-21 0-8-4-7-6-7-4-7-2-14 1-7 3-7 9-14 1-7-7-21 3-21-2-7-7-14-3-14 2-28-3-28 3-14 11-21 0-7-3-14 4-29 1-35 2-14 2-7 7-11 20-22 5-5 4-2 10-1 5 2 5 3 16 15 9 3 5-1 6-2 18-10 22-11 4-7 1-14 3-7 5-4 5-3 5-1 15-1 6 2 3 7 0 21 5 7 15 3 15 0 10-1 24-7 10-1 5 1 10 4 5 4 9 11 6 11 5 4 10 1 9 0 40-5 20 1 9 4 5 4 10 12 4 3 6 3 10 2 34-2 15 2 15 4 20 12 15 7 14 2 5 0 0-121-789 0 0 1012zM1302 2144l-5-7-2-14 2-14 4-7 6-6 5-2 10-1 6 2 8 7 3 7 2 7 0 14-2 7-2 7-5 4-10 3-10-1zM2052 1641l9 4 10-1 0-141-10-1-9 2-34 8-14 7-6 7-1 7 7 14 1 7 1 7-4 28 1 7 4 7 13 14 17 15z"/>
<path fill="#96cdf0" d="M1287 2222l2 0-2-8 0-7 1-14 7-21-1-7-5-14-3-14 0-28 1-10 3-11 2-5 5-4 27-12 7-7 12-14 23-12 5-3 5-6 2-7 0-7-5-28-1-21 4-7 5-3 5 0 10 0 5 3 8 7 12 14 4 4 20 10 5 7 1 7-1 21 5 28-5 35 0 70 2 28-2 7-4 7-8 7-13 8-14 1-13-2-7-3-5-5-10-15-5-5-5-3-10-2-9 1-8 4-5 7-1 14 1 7 4 8 733 0 0-389-5-1-9 2-10 6-5 5-10 18-10 14-10 8-10 5-10 1-29-2-15 1-10 3-24 12-10 2-40-2-54 3-20-3-64-16-39 0-40-12-14-1-30-1-20-3-10-5-5-3-19-17-18-12-7-7-2-7-1-7 2-14 5-14 1-7-1-7-14-30-5-7-12-12-4-7-1-7 2-28-1-57-2-14-7-21-1-7 6-35-4-28 5-28-3-21 2-7 5-14 3-14-2-28 0-28-3-14-3-7-10-15-2-7 1-7 6-7 20-14 7-7 3-7 10-28 1-7-5-21 0-7 2-7 7-4 5-2 20-3 5-2 3-3-280 0 0 1012zM1295 1315l-2-7 4-7 5-1 4 1 7 7-4 7-2 1-5 1-5 0zM2052 1619l9 3 10-1 0-34-14 1-10 1-5 2-5 5 0 7 4 7zM1840 1254l9 2 30-4 35 2 34-4 15-1 108 2 0-41-327 0-2 7 4 7 5 1 34 0 15 3 15 7 15 13zM1642 1218l5 1 5-1 22-8-44 0z"/>
<path fill="#bee1fa" d="M1450 2222l621 0 0-380-10-1-4 2-9 6-5 7-11 22-15 25-5 4-5 2-5 0-29-7-15-1-15 4-15 8-10 4-14 3-20 1-35-3-39 0-15-1-64-18-10-1-34 0-35-9-10-1-19 1-25 2-10 2-10 5-5 4-7 10-7 7-25 13-17 16-23 13-5 8-2 7-1 7 1 7 5 21-1 7-11 21-3 14 3 14 12 21 0 7-5 21 2 63-1 14-2 7-6 7-25 11-8 4zM1283 2039l4-2 3-5 2-21-2-35 1-7 1-4 4-3 6-3 20-4 5-3 5-4 8-14 7-5 9-2 30 3 10-1 6-3 4-3 2-4 8-15 6-6 8-2 5 0 25 2 10 0 10-4 3-3 3-7 0-7-4-21-1-7 4-21 1-14-3-35 1-7 6-21-2-7-8-15-4-13 0-49 1-29-1-7-2-7-4-4-24-17-1-7 6-14 1-7-5-7-7-3-19-5-8-6-2-7 3-7 7-5 23-9 7-7 2-7 0-7-5-28 0-7 2-6 6-8 19-13 5-8 1-7-3-21 1-21-1-7-3-7-5-6-12-8-6-8-3-7-1-7 1-7 3-7 6-7 7-5 20-10 6-6 3-7-1-7-6-14-1-7 0-7 4-21 0-7-2-7-4-7-72 0-2 7 0 7 3 28-1 14-4 7-7 5-10 2-10 1-29-2-5-1-5-3-2-2-2-14 1-35 0-14-50 0 2 14-2 21-1 14 1 7 3 7 5 3 5 2 25 5 5 2 5 11 2 12 0 7-3 7-9 6-25 5-10 5-4 5-2 7 0 22 3 35-3 28 0 56 2 14 9 21-4 28 2 28-7 42 0 14 4 22 0 7-6 28-4 9zM1854 1219l5 4 5 1 15-1 10-4 5-5 1-4-42 0 0 7z"/>
<path fill="#fff5a0" d="M1519 2222l552 0 0-371-5-2-5 1-4 3-5 4-16 34-9 29-3 6-7 7-5 2-5 0-9-1-20-10-10-2-30 8-49 5-15 0-34-8-55-1-14-4-22-10-13-3-15-2-24 1-10-1-35-9-10-1-14 0-15 2-10 2-9 4-7 7-7 14-6 8-24 14-33 28-3 7 0 7 4 21 1 7-3 7-14 14-5 7-2 7 2 7 18 21 2 7 0 7-2 21 0 63 1 43zM1287 1925l5-6 3-7 7-6 25-12 5-4 10-13 10-5 9-3 15 0 40 3 19 1 12-3 3-3 2-4 0-14-1-28 2-42-2-35 4-28 1-14-1-28 1-14 3-14 0-8-4-7-5-3-20-10-5-3-4-5-7-14-3-4-5-2-5-1-10 1-10 4-5 4-10 17-5 4-9 2-35-3-5 1-5 3-2 2-2 7 7 29 0 7-1 7-7 16-8 26-5 7-7 4 0 199zM1302 1499l10 5 10 1 10-4 3-3 4-7 2-14 0-7-5-21 0-7 3-7 8-7 14-7 10-7 3-7-3-8-9-6-16-7-7-7-1-7 2-14-1-8-7-6-5-1-10-1-10 2-5 2-5 4-2 8 0 14 10 28 0 7-1 7-7 20 0 8 0 21-1 21 1 7z"/>
<path fill="#ffe040" d="M1534 2222l537 0 0-357-5-3-5 1-4 6-15 36-5 23-5 13-8 7-12 3-34-3-50 1-39-2-20-3-24-7-15-2-15 0-30 2-14-1-11-2-19-11-10-4-10-1-24 1-10-1-35-10-11-3-13 0-10 1-14 6-5 7-5 15-5 7-21 14-9 7-20 21-5 7-1 7 2 21-1 7-4 7-13 14-3 7 3 7 15 21 3 7 0 7-3 21 1 84-1 22zM1307 1843l10-1 10-3 5-4 12-14 8-6 15-8 7-7 2-7 1-7-1-7-2-7-8-9-5-2-9-3-20-2-20 3-10 6-3 7 1 21-1 7-8 14-2 7 0 7 3 9 5 4zM1342 1674l5 1 9 0 10-3 5-3 3-2 2-7-2-7-6-7-7-3-14-3-10 2-5 4-2 7 0 7 3 7 4 5z"/>
<path fill="#ffc820" d="M1554 2217l4 5 513 0 0-324-5-3-5 1-4 5-3 4-3 7-1 7-3 28-4 8-6 4-5 2-15 2-54-2-35 3-14-1-79-17-15-1-30 2-19-1-20-4-25-9-10-1-24 1-10-2-27-12-13-3-14 0-10 3-5 7-7 15-7 7-26 17-9 11-10 14-4 7-1 21-1 7-12 21-2 7 1 7 5 7 11 14 3 7 0 7-4 14-1 14 2 28-1 49 0 7z"/>
<path fill="#ffa800" d="M1583 2216l6 6 482 0 0-236-10 0-24-9-15-2-54 1-50-2-14-2-30-8-15-2-19-2-30 1-84-13-24 1-10-1-10-3-25-11-10-2-10 1-4 2-16 13-29 20-7 8-12 21-9 28-11 21-1 7 2 7 5 7 15 14 4 7 0 7-7 21 3 42-3 35 2 7 4 7z"/>
<path fill="#ff7800" d="M1608 2222l463 0 0-216-10 0-9-2-20-12-6-2-9-2-15 0-29 4-15 0-10-2-69-15-15-2-10 1-29 5-20 0-10-2-15-9-19-6-25-1-34 2-15-2-25-11-10-3-10 1-9 3-25 16-10 9-5 7-13 28-17 28-3 7 0 7 3 7 20 19 5 9 1 7-2 21 1 21-1 28 1 14 1 7 4 7 15 14 0 7-2 8z"/>
<path fill="#ff5000" d="M1628 2222l443 0 0-203-10 1-14-3-16-6-9-5-10-3-15-1-29 1-15 0-10-2-29-9-20-3-20-1-44 3-45 1-14 0-11-2-14-11-5-2-10 0-29 1-10-1-10-3-25-13-10-1-10 3-10 6-9 7-5 6-16 29-19 23-3 5-3 7 0 7 1 3 3 4 16 14 5 7 6 14 3 14 2 14-4 35 1 7 2 7 7 7 21 14 5 7 1 7-4 7z"/>
<path fill="#ff2000" d="M1746 2222l325 0 0-193-10 1-14-3-50-14-14-1-40 0-34-9-10 0-25 2-49-4-59-1-20-3-20-6-39 0-11-1-24-7-5 0-5 2-9 7-5 5-23 28-15 14-4 7 0 7 19 21 19 35 1 7-3 28 1 7 2 7 6 7 21 12 15 15 10 8 10 4 10 2 39 4 5 2 3 2 0 8z"/>
<path fill="#e60000" d="M1800 2215l15 3 4 4 252 0 0-184-5 1-9-1-35-10-35-7-44 0-29-2-35 1-10-1-29-7-15-3-69-4-35-4-54 1-15 3-10 4-9 7-21 23-5 7-1 7 3 7 9 15 21 27 3 7 1 7-4 21 3 9 6 5 12 7 7 5 15 16 10 4 14 1 20-6 15-2 20 2 10 2 5 3 2 3 9 21 3 3z"/>
<path fill="#c80000" d="M2057 2215l14 0 0-167-10 0-34-12-40-7-19-1-89 2-15-2-37-10-32-5-29-2-55-2-33 2-21 5-15 9-9 10-7 11-2 7 0 7 4 8 9 13 20 15 5 6 6 14 4 3 5 2 15 3 10 3 4 5 6 12 4 6 5 2 10 3 15 0 10-1 24-7 15 1 10 4 8 6 12 14 10 6 19 2 15-1 25-4 10 1 5 1 5 3 8 6 21 20 10 4 10 1 10-1 29-5 15-1 10 1z"/>
<path fill="#dc4040" d="M1953 2180l10 1 20-2 29 4 10 0 10-4 5-6 5-11 5-7 10-3 14-1 0-90-5 2-5-1-25-16-14-5-10-2-39-3-79 2-20-1-20-3-67-16-21-2-20 0-25 3-29 0-15 2-12 4-11 7-7 7-5 7-2 7 2 7 4 7 6 3 10 2 30-8 5 1 7 2 2 3 6 11 5 7 20 14 14 15 5 3 10 2 24-1 10 2 35 26 10 5 9 1 35-8 15 1 10 4 29 24z"/>
<path fill="#ffaab0" d="M1948 2153l10 3 10 0 15-2 7-3 7-5 6-9 6-7 27-14 4-7 1-7-1-14 1-21-3-7-6-7-10-5-15-2-118 1-40-3-34-6-28-13-16-3-10 0-15 2-3 1-8 7 0 7 9 14 1 7-5 14 1 7 6 7 10 7 9 3 5 1 24-2 10 1 5 2 5 4 10 12 8 7 12 5 14 0 20-3 15-1 10 0 10 2 9 5 15 15z"/>
<path fill="none" stroke="#ffffff" stroke-width="4.4" stroke-linejoin="round" stroke-linecap="round" d="M1903.9 1256.7L1872.5 1263.4L1836.5 1272.4L1805.1 1281.4L1778.1 1294.8L1764.7 1312.8L1755.7 1335.3L1742.2 1362.2L1728.7 1393.7L1719.7 1420.6L1710.8 1438.6L1701.8 1465.6L1697.3 1492.5L1695.0 1519.5L1701.8 1546.4L1708.5 1573.4L1713.0 1609.3L1713.0 1636.3L1710.8 1663.2L1706.3 1690.2L1701.8 1714.9M2061.2 1326.3L2038.7 1312.8L2002.8 1299.3L1966.8 1294.8L1926.4 1294.8L1894.9 1299.3L1859.0 1308.3L1823.1 1317.3L1796.1 1330.8L1773.7 1348.8L1760.2 1375.7L1755.7 1407.2L1755.7 1438.6L1760.2 1465.6L1769.2 1483.5L1796.1 1492.5L1836.5 1501.5L1877.0 1510.5L1912.9 1515.0L1948.9 1510.5L1975.8 1501.5L1993.8 1488.0L2011.7 1465.6L2029.7 1447.6L2038.7 1429.6L2047.7 1393.7L2056.7 1366.7L2061.2 1326.3M1796.1 1398.2L1805.1 1371.2L1832.1 1357.7L1868.0 1348.8L1903.9 1348.8L1939.9 1353.2L1975.8 1362.2L2011.7 1371.2L2016.2 1393.7L2011.7 1416.1L1993.8 1438.6L1975.8 1456.6L1939.9 1470.0L1894.9 1474.5L1859.0 1470.0L1827.6 1461.1L1805.1 1438.6L1796.1 1416.1L1796.1 1398.2M1834.3 1407.2L1845.5 1384.7L1868.0 1371.2L1899.4 1360.0L1930.9 1366.7L1953.3 1380.2L1962.3 1402.7L1957.8 1425.1L1939.9 1438.6L1903.9 1447.6L1868.0 1447.6L1845.5 1438.6L1836.5 1425.1L1834.3 1407.2M1888.2 1407.2L1899.4 1398.2L1908.4 1407.2L1899.4 1416.1L1888.2 1407.2M1751.2 1714.9L1760.2 1685.7L1769.2 1649.7L1782.6 1618.3L1800.6 1600.3L1827.6 1586.9L1872.5 1582.4L1917.4 1582.4L1957.8 1586.9L1993.8 1595.8L2020.7 1609.3L2038.7 1627.3L2052.2 1654.2L2061.2 1676.7L2065.7 1699.2M1787.1 1714.9L1809.6 1690.2L1836.5 1672.2L1868.0 1658.7L1903.9 1649.7L1939.9 1649.7L1971.3 1658.7L1998.3 1672.2L2020.7 1690.2L2034.2 1714.9M1850.0 1714.9L1868.0 1694.7L1894.9 1685.7L1921.9 1685.7L1944.4 1694.7L1957.8 1714.9M2038.7 1447.6L2034.2 1492.5L2043.2 1528.5L2034.2 1564.4L2038.7 1600.3L2056.7 1631.8M1845.5 1768.4L1854.5 1750.4L1872.5 1737.0L1903.9 1728.0L1930.9 1730.2L1948.9 1741.4L1951.1 1759.4L1939.9 1772.9L1917.4 1781.9L1890.5 1786.4L1863.5 1786.4L1845.5 1777.4L1845.5 1768.4M1850.0 1714.9L1823.1 1728.0L1805.1 1754.9L1805.1 1781.9L1823.1 1799.8L1854.5 1808.8L1894.9 1808.8L1926.4 1804.3L1948.9 1795.4L1962.3 1777.4L1964.6 1750.4L1960.1 1728.0L1957.8 1714.9M1787.1 1714.9L1769.2 1737.0L1760.2 1768.4L1769.2 1795.4L1796.1 1817.8L1836.5 1829.0L1881.5 1833.5L1926.4 1831.3L1962.3 1822.3L1984.8 1799.8L1993.8 1763.9L2011.7 1737.0L2034.2 1714.9M1728.7 1710.0L1715.3 1728.0L1697.3 1754.9L1674.8 1781.9L1661.3 1808.8L1654.6 1840.3L1647.9 1867.2L1629.9 1880.7L1598.5 1887.4L1562.5 1894.2L1526.6 1907.7L1495.1 1921.1L1463.7 1930.1L1427.7 1943.6L1396.3 1954.8L1364.8 1961.6L1333.4 1966.1L1302.0 1970.6L1284.0 1975.0M1670.3 1710.0L1652.4 1723.5L1629.9 1741.4L1607.4 1759.4L1585.0 1781.9L1562.5 1799.8L1535.6 1817.8L1513.1 1835.8L1486.1 1853.8L1459.2 1867.2L1427.7 1880.7L1396.3 1894.2L1364.8 1907.7L1333.4 1914.4L1302.0 1921.1L1284.0 1925.6M1611.9 1710.0L1589.5 1723.5L1571.5 1741.4L1549.0 1759.4L1526.6 1772.9L1499.6 1786.4L1472.7 1799.8L1445.7 1813.3L1418.8 1822.3L1391.8 1835.8L1364.8 1849.3L1337.9 1858.2L1310.9 1867.2L1284.0 1871.7M1477.2 2186.2L1508.6 2159.2L1544.5 2136.8L1580.5 2114.3L1616.4 2091.9L1652.4 2069.4L1688.3 2046.9L1719.7 2024.5L1742.2 1997.5L1764.7 1970.6L1791.6 1943.6L1823.1 1921.1L1859.0 1903.2L1894.9 1889.7L1930.9 1876.2L1966.8 1862.7L2002.8 1853.8L2038.7 1844.8L2065.7 1835.8M1454.7 2159.2L1486.1 2136.8L1522.1 2114.3L1553.5 2096.3L1589.5 2078.4L1625.4 2055.9L1656.9 2033.5L1683.8 2011.0L1706.3 1984.0L1724.2 1957.1L1737.7 1930.1L1751.2 1903.2L1769.2 1880.7L1796.1 1867.2L1832.1 1858.2L1872.5 1853.8L1912.9 1849.3L1957.8 1840.3L2002.8 1826.8L2038.7 1817.8L2065.7 1811.1M1445.7 2105.3L1477.2 2087.4L1508.6 2069.4L1544.5 2055.9L1580.5 2037.9L1611.9 2020.0L1638.9 1997.5L1661.3 1975.0L1679.3 1952.6L1688.3 1925.6L1697.3 1898.7L1710.8 1880.7L1733.2 1867.2L1760.2 1858.2M1508.6 2024.5L1508.6 1997.5L1526.6 1988.5L1553.5 1979.5L1580.5 1975.0L1598.5 1961.6L1625.4 1948.1L1647.9 1952.6L1661.3 1970.6L1661.3 1993.0L1652.4 2006.5M1302.0 1934.6L1310.9 1961.6L1319.9 1997.5L1328.9 2033.5L1324.4 2069.4L1319.9 2105.3L1315.4 2141.3L1324.4 2177.2L1328.9 2224.8M1355.9 1988.5L1364.8 2024.5L1373.8 2060.4L1369.3 2096.3L1360.4 2132.3L1364.8 2168.2L1373.8 2204.2L1378.3 2224.8M1387.3 1997.5L1414.3 1997.5L1427.7 2024.5L1423.2 2060.4L1414.3 2096.3L1418.8 2132.3L1427.7 2168.2L1432.2 2204.2M1454.7 2020.0L1463.7 2051.4L1468.2 2024.5M1284.0 2024.5L1288.5 2114.3L1288.5 2224.8"/>
<path fill="none" stroke="#5fd21e" stroke-width="4.4" stroke-linejoin="round" stroke-linecap="round" d="M1286.2 1211.7L1286.2 1714.9M1295.2 1211.7L1297.5 1339.8L1293.0 1474.5L1295.2 1609.3L1293.0 1714.9M1324.4 1211.7L1328.9 1249.9L1331.2 1294.8L1326.7 1339.8L1328.9 1384.7L1324.4 1420.6L1319.9 1456.6L1324.4 1492.5L1319.9 1519.5L1328.9 1546.4L1324.4 1577.9L1333.4 1609.3L1326.7 1654.2L1328.9 1714.9M1378.3 1294.8L1391.8 1303.8L1398.5 1339.8L1396.3 1375.7L1387.3 1389.2L1378.3 1380.2L1371.6 1339.8L1373.8 1308.3L1378.3 1294.8M1353.6 1211.7L1355.9 1249.9L1351.4 1294.8L1355.9 1339.8L1353.6 1384.7L1360.4 1420.6L1355.9 1456.6L1364.8 1492.5L1360.4 1528.5L1351.4 1564.4L1360.4 1600.3L1346.9 1636.3L1355.9 1672.2L1351.4 1714.9M1432.2 1211.7L1423.2 1223.0L1409.8 1236.4L1391.8 1232.0L1369.3 1223.0L1360.4 1211.7M1495.1 1211.7L1526.6 1223.0L1562.5 1240.9L1585.0 1258.9L1594.0 1294.8L1589.5 1326.3L1580.5 1344.3L1562.5 1362.2L1540.0 1375.7L1508.6 1389.2L1481.6 1402.7L1468.2 1420.6L1463.7 1452.1L1468.2 1483.5L1472.7 1519.5L1468.2 1546.4L1463.7 1564.4L1472.7 1586.9L1499.6 1595.8L1522.1 1609.3L1540.0 1627.3L1526.6 1654.2L1517.6 1676.7L1508.6 1699.2L1499.6 1714.9M1643.4 1211.7L1656.9 1232.0L1665.8 1249.9L1670.3 1272.4L1665.8 1303.8L1656.9 1330.8L1647.9 1353.2L1634.4 1375.7L1616.4 1393.7L1598.5 1407.2L1580.5 1416.1L1562.5 1429.6L1549.0 1447.6L1544.5 1474.5L1549.0 1501.5L1553.5 1528.5L1567.0 1546.4L1589.5 1564.4L1607.4 1582.4L1620.9 1609.3L1629.9 1636.3L1629.9 1654.2L1625.4 1681.2L1620.9 1714.9M1706.3 1211.7L1708.5 1240.9L1706.3 1272.4L1701.8 1308.3L1692.8 1339.8L1679.3 1366.7L1665.8 1389.2L1652.4 1411.6L1634.4 1429.6L1620.9 1443.1L1609.7 1461.1M1454.7 1321.8L1472.7 1312.8L1499.6 1303.8L1517.6 1308.3L1522.1 1326.3L1513.1 1344.3L1499.6 1348.8L1481.6 1339.8L1463.7 1330.8L1454.7 1321.8M1445.7 1559.9L1432.2 1568.9L1409.8 1577.9L1387.3 1582.4L1364.8 1586.9L1342.4 1577.9L1324.4 1582.4M1295.2 1710.0L1297.5 1754.9L1293.0 1799.8L1288.5 1844.8L1286.2 1880.7M1324.4 1710.0L1319.9 1745.9L1302.0 1768.4L1293.0 1799.8L1288.5 1844.8M1351.4 1710.0L1355.9 1745.9L1346.9 1799.8L1328.9 1844.8L1319.9 1880.7M1445.7 1728.0L1423.2 1745.9L1405.3 1737.0L1387.3 1741.4L1364.8 1754.9L1355.9 1781.9L1364.8 1813.3L1373.8 1840.3L1378.3 1862.7L1364.8 1880.7L1342.4 1885.2L1319.9 1876.2L1302.0 1867.2L1288.5 1876.2M1499.6 1714.9L1477.2 1728.0L1454.7 1737.0L1445.7 1728.0M1620.9 1714.9L1589.5 1723.5L1562.5 1737.0L1535.6 1745.9L1508.6 1754.9L1481.6 1763.9L1463.7 1772.9L1450.2 1781.9M1629.9 2224.8L1647.9 2204.2L1656.9 2177.2L1665.8 2150.3L1679.3 2127.8L1697.3 2105.3L1724.2 2087.4L1751.2 2069.4L1778.1 2051.4L1809.6 2033.5L1845.5 2015.5L1881.5 1997.5L1917.4 1979.5L1957.8 1966.1L1993.8 1957.1L2029.7 1948.1L2065.7 1943.6M1692.8 2224.8L1697.3 2195.2L1706.3 2159.2L1719.7 2132.3L1737.7 2109.8L1760.2 2091.9L1787.1 2078.4L1814.1 2064.9L1841.0 2051.4L1868.0 2033.5L1903.9 2015.5L1939.9 2002.0L1975.8 1988.5L2011.7 1979.5L2047.7 1975.0L2061.2 1979.5L2061.2 2024.5L2065.7 2069.4L2065.7 2114.3L2065.7 2159.2L2061.2 2224.8M1769.2 2224.8L1764.7 2186.2L1764.7 2150.3L1769.2 2114.3L1782.6 2091.9L1805.1 2073.9L1836.5 2055.9L1872.5 2042.4L1912.9 2033.5L1948.9 2024.5L1984.8 2020.0L2016.2 2015.5L2038.7 2024.5L2047.7 2051.4L2047.7 2091.9L2043.2 2127.8L2034.2 2154.7L2016.2 2172.7L1984.8 2186.2L1948.9 2195.2L1903.9 2199.7L1859.0 2195.2L1823.1 2181.7L1800.6 2163.7L1782.6 2141.3M1814.1 2159.2L1809.6 2127.8L1818.6 2100.8L1841.0 2082.9L1872.5 2069.4L1912.9 2064.9L1948.9 2060.4L1984.8 2055.9L2011.7 2051.4L2029.7 2064.9L2034.2 2091.9L2025.2 2123.3L2002.8 2141.3L1966.8 2154.7L1921.9 2159.2L1877.0 2163.7L1841.0 2163.7L1814.1 2159.2M1836.5 2105.3L1845.5 2082.9L1868.0 2073.9L1894.9 2078.4L1903.9 2096.3L1899.4 2114.3L1881.5 2127.8L1854.5 2127.8L1841.0 2118.8L1836.5 2105.3M1903.9 2224.8L1912.9 2204.2L1939.9 2195.2L1975.8 2195.2L2002.8 2204.2L2020.7 2224.8M2038.7 1871.7L2038.7 1925.6L2056.7 1939.1M2054.4 1979.5L2056.7 2224.8"/>
<path fill="none" stroke="#000" stroke-width="3.8" stroke-linecap="square" d="M1282.5 1210.0H1283.5M1282.5 1208.8L1283.5 1210.0L1282.5 1211.2M1319.5 1210.0H1320.5M1319.5 1208.8L1320.5 1210.0L1319.5 1211.2M1356.5 1210.0H1357.5M1356.5 1208.8L1357.5 1210.0L1356.5 1211.2M1393.4 1210.0H1394.4M1393.4 1208.8L1394.4 1210.0L1393.4 1211.2M1430.4 1210.0H1431.4M1430.4 1208.8L1431.4 1210.0L1430.4 1211.2M1467.4 1210.0H1468.4M1467.4 1208.8L1468.4 1210.0L1467.4 1211.2M1504.3 1210.0H1505.3M1504.3 1208.8L1505.3 1210.0L1504.3 1211.2M1541.3 1210.0H1542.3M1541.3 1208.8L1542.3 1210.0L1541.3 1211.2M1578.3 1210.0H1579.3M1578.3 1208.8L1579.3 1210.0L1578.3 1211.2M1615.3 1210.0H1616.3M1615.3 1208.8L1616.3 1210.0L1615.3 1211.2M1652.2 1210.0H1653.2M1652.2 1208.8L1653.2 1210.0L1652.2 1211.2M1689.2 1210.0H1690.2M1689.2 1208.8L1690.2 1210.0L1689.2 1211.2M1726.2 1210.0H1727.2M1726.2 1208.8L1727.2 1210.0L1726.2 1211.2M1763.2 1210.0H1764.2M1763.2 1208.8L1764.2 1210.0L1763.2 1211.2M1800.2 1210.0H1801.2M1800.2 1208.8L1801.2 1210.0L1800.2 1211.2M1837.1 1210.0H1838.1M1837.1 1208.8L1838.1 1210.0L1837.1 1211.2M1874.1 1210.0H1875.1M1874.1 1208.8L1875.1 1210.0L1874.1 1211.2M1911.1 1210.0H1912.1M1911.1 1208.8L1912.1 1210.0L1911.1 1211.2M1948.1 1210.0H1949.1M1948.1 1208.8L1949.1 1210.0L1948.1 1211.2M1985.0 1210.0H1986.0M1985.0 1208.8L1986.0 1210.0L1985.0 1211.2M2022.0 1210.0H2023.0M2022.0 1208.8L2023.0 1210.0L2022.0 1211.2M2059.0 1210.0H2060.0M2059.0 1208.8L2060.0 1210.0L2059.0 1211.2M1282.5 1238.1H1286.5M1285.2 1236.3L1286.5 1238.1L1285.2 1239.9M1319.5 1238.1H1321.5M1320.5 1236.9L1321.5 1238.1L1320.5 1239.3M1356.5 1238.1H1358.5M1357.5 1236.9L1358.5 1238.1L1357.5 1239.3M1393.4 1238.1H1395.4M1394.4 1236.9L1395.4 1238.1L1394.4 1239.3M1430.4 1238.1H1432.4M1431.4 1236.9L1432.4 1238.1L1431.4 1239.3M1467.4 1238.1H1469.4M1468.4 1236.9L1469.4 1238.1L1468.4 1239.3M1504.3 1238.1H1507.3M1506.3 1236.8L1507.3 1238.1L1506.3 1239.4M1541.3 1238.1H1544.3M1543.3 1236.8L1544.3 1238.1L1543.3 1239.4M1578.3 1238.1H1580.3M1579.3 1236.9L1580.3 1238.1L1579.3 1239.3M1615.3 1238.1H1617.3M1616.3 1236.9L1617.3 1238.1L1616.3 1239.3M1652.2 1238.1H1655.2M1654.2 1236.8L1655.2 1238.1L1654.2 1239.4M1689.2 1238.1H1691.2M1690.2 1236.9L1691.2 1238.1L1690.2 1239.3M1726.2 1238.1H1728.2M1727.2 1236.9L1728.2 1238.1L1727.2 1239.3M1763.2 1238.1H1765.2M1764.2 1236.9L1765.2 1238.1L1764.2 1239.3M1800.2 1238.1H1802.2M1801.2 1236.9L1802.2 1238.1L1801.2 1239.3M1837.1 1238.1H1839.1M1838.1 1236.9L1839.1 1238.1L1838.1 1239.3M1874.1 1238.1H1876.1M1875.1 1236.9L1876.1 1238.1L1875.1 1239.3M1911.1 1238.1H1913.1M1912.1 1236.9L1913.1 1238.1L1912.1 1239.3M1948.1 1238.1H1950.1M1949.1 1236.9L1950.1 1238.1L1949.1 1239.3M1985.0 1238.1H1987.0M1986.0 1236.9L1987.0 1238.1L1986.0 1239.3M2022.0 1238.1H2024.0M2023.0 1236.9L2024.0 1238.1L2023.0 1239.3M2059.0 1238.1H2061.0M2060.0 1236.9L2061.0 1238.1L2060.0 1239.3M1282.5 1266.2H1285.5M1284.5 1264.9L1285.5 1266.2L1284.5 1267.5M1319.5 1266.2H1322.5M1321.5 1264.9L1322.5 1266.2L1321.5 1267.5M1356.5 1266.2H1357.5M1356.5 1265.0L1357.5 1266.2L1356.5 1267.4M1393.4 1266.2H1394.4M1393.4 1265.0L1394.4 1266.2L1393.4 1267.4M1430.4 1266.2H1432.4M1431.4 1265.0L1432.4 1266.2L1431.4 1267.4M1467.4 1266.2H1469.4M1468.4 1265.0L1469.4 1266.2L1468.4 1267.4M1504.3 1266.2H1507.3M1506.3 1264.9L1507.3 1266.2L1506.3 1267.5M1541.3 1266.2H1544.3M1543.3 1264.9L1544.3 1266.2L1543.3 1267.5M1578.3 1266.2H1581.3M1580.3 1264.9L1581.3 1266.2L1580.3 1267.5M1615.3 1266.2H1618.3M1617.3 1264.9L1618.3 1266.2L1617.3 1267.5M1652.2 1266.2H1655.2M1654.2 1264.9L1655.2 1266.2L1654.2 1267.5M1689.2 1266.2H1691.2M1690.2 1265.0L1691.2 1266.2L1690.2 1267.4M1726.2 1266.2H1728.2M1727.2 1265.0L1728.2 1266.2L1727.2 1267.4M1763.2 1266.2H1765.2M1764.2 1265.0L1765.2 1266.2L1764.2 1267.4M1800.2 1266.2H1803.2M1802.2 1264.9L1803.2 1266.2L1802.2 1267.5M1837.1 1266.2H1839.1M1838.1 1265.0L1839.1 1266.2L1838.1 1267.4M1874.1 1266.2H1876.1M1875.1 1265.0L1876.1 1266.2L1875.1 1267.4M1911.1 1266.2H1913.1M1912.1 1265.0L1913.1 1266.2L1912.1 1267.4M1948.1 1266.2H1950.1M1949.1 1265.0L1950.1 1266.2L1949.1 1267.4M1985.0 1266.2H1987.0M1986.0 1265.0L1987.0 1266.2L1986.0 1267.4M2022.0 1266.2H2024.0M2023.0 1265.0L2024.0 1266.2L2023.0 1267.4M2059.0 1266.2H2061.0M2060.0 1265.0L2061.0 1266.2L2060.0 1267.4M1282.5 1294.3H1285.5M1284.5 1293.0L1285.5 1294.3L1284.5 1295.6M1319.5 1294.3H1322.5M1321.5 1293.0L1322.5 1294.3L1321.5 1295.6M1356.5 1294.3H1357.5M1356.5 1293.1L1357.5 1294.3L1356.5 1295.5M1393.4 1294.3H1395.4M1394.4 1293.1L1395.4 1294.3L1394.4 1295.5M1430.4 1294.3H1432.4M1431.4 1293.1L1432.4 1294.3L1431.4 1295.5M1467.4 1294.3H1469.4M1468.4 1293.1L1469.4 1294.3L1468.4 1295.5M1504.3 1294.3H1491.3M1495.6 1288.6L1491.3 1294.3L1495.6 1300.0M1541.3 1294.3H1525.3M1530.6 1287.3L1525.3 1294.3L1530.6 1301.3M1578.3 1294.3H1560.3M1566.2 1286.4L1560.3 1294.3L1566.2 1302.2M1615.3 1294.3H1600.3M1605.2 1287.7L1600.3 1294.3L1605.2 1300.9M1652.2 1294.3H1643.2M1646.2 1290.3L1643.2 1294.3L1646.2 1298.3M1689.2 1294.3H1693.2M1691.9 1292.5L1693.2 1294.3L1691.9 1296.1M1726.2 1294.3H1730.2M1728.9 1292.5L1730.2 1294.3L1728.9 1296.1M1763.2 1294.3H1765.2M1764.2 1293.1L1765.2 1294.3L1764.2 1295.5M1800.2 1294.3H1803.2M1802.2 1293.0L1803.2 1294.3L1802.2 1295.6M1837.1 1294.3H1839.1M1838.1 1293.1L1839.1 1294.3L1838.1 1295.5M1874.1 1294.3H1876.1M1875.1 1293.1L1876.1 1294.3L1875.1 1295.5M1911.1 1294.3H1913.1M1912.1 1293.1L1913.1 1294.3L1912.1 1295.5M1948.1 1294.3H1950.1M1949.1 1293.1L1950.1 1294.3L1949.1 1295.5M1985.0 1294.3H1987.0M1986.0 1293.1L1987.0 1294.3L1986.0 1295.5M2022.0 1294.3H2024.0M2023.0 1293.1L2024.0 1294.3L2023.0 1295.5M2059.0 1294.3H2061.0M2060.0 1293.1L2061.0 1294.3L2060.0 1295.5M1282.5 1322.4H1285.5M1284.5 1321.1L1285.5 1322.4L1284.5 1323.7M1319.5 1322.4H1323.5M1322.2 1320.6L1323.5 1322.4L1322.2 1324.1M1356.5 1322.4H1358.5M1357.5 1321.2L1358.5 1322.4L1357.5 1323.6M1393.4 1322.4H1395.4M1394.4 1321.2L1395.4 1322.4L1394.4 1323.6M1430.4 1322.4H1432.4M1431.4 1321.2L1432.4 1322.4L1431.4 1323.6M1467.4 1322.4H1469.4M1468.4 1321.2L1469.4 1322.4L1468.4 1323.6M1504.3 1322.4H1489.3M1494.3 1315.8L1489.3 1322.4L1494.3 1329.0M1541.3 1322.4H1523.3M1529.3 1314.5L1523.3 1322.4L1529.3 1330.3M1578.3 1322.4H1555.3M1562.9 1312.3L1555.3 1322.4L1562.9 1332.5M1615.3 1322.4H1595.3M1601.9 1313.6L1595.3 1322.4L1601.9 1331.2M1652.2 1322.4H1639.2M1643.5 1316.7L1639.2 1322.4L1643.5 1328.1M1689.2 1322.4H1684.2M1685.9 1320.2L1684.2 1322.4L1685.9 1324.6M1726.2 1322.4H1721.2M1722.9 1320.2L1721.2 1322.4L1722.9 1324.6M1763.2 1322.4H1765.2M1764.2 1321.2L1765.2 1322.4L1764.2 1323.6M1800.2 1322.4H1803.2M1802.2 1321.1L1803.2 1322.4L1802.2 1323.7M1837.1 1322.4H1839.1M1838.1 1321.2L1839.1 1322.4L1838.1 1323.6M1874.1 1322.4H1878.1M1876.8 1320.6L1878.1 1322.4L1876.8 1324.1M1911.1 1322.4H1913.1M1912.1 1321.2L1913.1 1322.4L1912.1 1323.6M1948.1 1322.4H1951.1M1950.1 1321.1L1951.1 1322.4L1950.1 1323.7M1985.0 1322.4H1987.0M1986.0 1321.2L1987.0 1322.4L1986.0 1323.6M2022.0 1322.4H2024.0M2023.0 1321.2L2024.0 1322.4L2023.0 1323.6M2059.0 1322.4H2061.0M2060.0 1321.2L2061.0 1322.4L2060.0 1323.6M1282.5 1350.5H1286.5M1285.2 1348.7L1286.5 1350.5L1285.2 1352.2M1319.5 1350.5H1323.5M1322.2 1348.7L1323.5 1350.5L1322.2 1352.2M1356.5 1350.5H1358.5M1357.5 1349.3L1358.5 1350.5L1357.5 1351.7M1393.4 1350.5H1395.4M1394.4 1349.3L1395.4 1350.5L1394.4 1351.7M1430.4 1350.5H1432.4M1431.4 1349.3L1432.4 1350.5L1431.4 1351.7M1467.4 1350.5H1471.4M1470.1 1348.7L1471.4 1350.5L1470.1 1352.2M1504.3 1350.5H1485.3M1491.6 1342.1L1485.3 1350.5L1491.6 1358.8M1541.3 1350.5H1520.3M1527.3 1341.2L1520.3 1350.5L1527.3 1359.7M1578.3 1350.5H1552.3M1560.9 1339.0L1552.3 1350.5L1560.9 1361.9M1615.3 1350.5H1592.3M1599.9 1340.4L1592.3 1350.5L1599.9 1360.6M1652.2 1350.5H1633.2M1639.5 1342.1L1633.2 1350.5L1639.5 1358.8M1689.2 1350.5H1673.2M1678.5 1343.4L1673.2 1350.5L1678.5 1357.5M1726.2 1350.5H1710.2M1715.5 1343.4L1710.2 1350.5L1715.5 1357.5M1763.2 1350.5H1752.2M1755.8 1345.6L1752.2 1350.5L1755.8 1355.3M1800.2 1350.5H1804.2M1802.8 1348.7L1804.2 1350.5L1802.8 1352.2M1837.1 1350.5H1840.1M1839.1 1349.2L1840.1 1350.5L1839.1 1351.8M1874.1 1350.5H1878.1M1876.8 1348.7L1878.1 1350.5L1876.8 1352.2M1911.1 1350.5H1914.1M1913.1 1349.2L1914.1 1350.5L1913.1 1351.8M1948.1 1350.5H1952.1M1950.7 1348.7L1952.1 1350.5L1950.7 1352.2M1985.0 1350.5H1989.0M1987.7 1348.7L1989.0 1350.5L1987.7 1352.2M2022.0 1350.5H2025.0M2024.0 1349.2L2025.0 1350.5L2024.0 1351.8M2059.0 1350.5H2061.0M2060.0 1349.3L2061.0 1350.5L2060.0 1351.7M1282.5 1378.6H1286.5M1285.2 1376.8L1286.5 1378.6L1285.2 1380.3M1319.5 1378.6H1323.5M1322.2 1376.8L1323.5 1378.6L1322.2 1380.3M1356.5 1378.6H1358.5M1357.5 1377.4L1358.5 1378.6L1357.5 1379.8M1393.4 1378.6H1395.4M1394.4 1377.4L1395.4 1378.6L1394.4 1379.8M1430.4 1378.6H1432.4M1431.4 1377.4L1432.4 1378.6L1431.4 1379.8M1467.4 1378.6H1463.4M1464.7 1376.8L1463.4 1378.6L1464.7 1380.3M1504.3 1378.6H1486.3M1492.3 1370.7L1486.3 1378.6L1492.3 1386.5M1541.3 1378.6H1522.3M1528.6 1370.2L1522.3 1378.6L1528.6 1386.9M1578.3 1378.6H1555.3M1562.9 1368.5L1555.3 1378.6L1562.9 1388.7M1615.3 1378.6H1591.3M1599.2 1368.0L1591.3 1378.6L1599.2 1389.1M1652.2 1378.6H1628.2M1636.2 1368.0L1628.2 1378.6L1636.2 1389.1M1689.2 1378.6H1669.2M1675.8 1369.8L1669.2 1378.6L1675.8 1387.4M1726.2 1378.6H1709.2M1714.8 1371.1L1709.2 1378.6L1714.8 1386.1M1763.2 1378.6H1748.2M1753.1 1372.0L1748.2 1378.6L1753.1 1385.2M1800.2 1378.6H1788.2M1792.1 1373.3L1788.2 1378.6L1792.1 1383.9M1837.1 1378.6H1839.1M1838.1 1377.4L1839.1 1378.6L1838.1 1379.8M1874.1 1378.6H1877.1M1876.1 1377.3L1877.1 1378.6L1876.1 1379.9M1911.1 1378.6H1914.1M1913.1 1377.3L1914.1 1378.6L1913.1 1379.9M1948.1 1378.6H1951.1M1950.1 1377.3L1951.1 1378.6L1950.1 1379.9M1985.0 1378.6H1988.0M1987.0 1377.3L1988.0 1378.6L1987.0 1379.9M2022.0 1378.6H2025.0M2024.0 1377.3L2025.0 1378.6L2024.0 1379.9M2059.0 1378.6H2061.0M2060.0 1377.4L2061.0 1378.6L2060.0 1379.8M1282.5 1406.7H1290.5M1287.9 1403.2L1290.5 1406.7L1287.9 1410.2M1319.5 1406.7H1321.5M1320.5 1405.5L1321.5 1406.7L1320.5 1407.9M1356.5 1406.7H1358.5M1357.5 1405.5L1358.5 1406.7L1357.5 1407.9M1393.4 1406.7H1395.4M1394.4 1405.5L1395.4 1406.7L1394.4 1407.9M1430.4 1406.7H1432.4M1431.4 1405.5L1432.4 1406.7L1431.4 1407.9M1467.4 1406.7H1457.4M1460.7 1402.3L1457.4 1406.7L1460.7 1411.1M1504.3 1406.7H1485.3M1491.6 1398.3L1485.3 1406.7L1491.6 1415.0M1541.3 1406.7H1522.3M1528.6 1398.3L1522.3 1406.7L1528.6 1415.0M1578.3 1406.7H1554.3M1562.2 1396.1L1554.3 1406.7L1562.2 1417.2M1615.3 1406.7H1591.3M1599.2 1396.1L1591.3 1406.7L1599.2 1417.2M1652.2 1406.7H1627.2M1635.5 1395.7L1627.2 1406.7L1635.5 1417.7M1689.2 1406.7H1667.2M1674.5 1397.0L1667.2 1406.7L1674.5 1416.4M1726.2 1406.7H1709.2M1714.8 1399.2L1709.2 1406.7L1714.8 1414.2M1763.2 1406.7H1747.2M1752.5 1399.6L1747.2 1406.7L1752.5 1413.7M1800.2 1406.7H1787.2M1791.4 1401.0L1787.2 1406.7L1791.4 1412.4M1837.1 1406.7H1838.1M1837.1 1405.5L1838.1 1406.7L1837.1 1407.9M1874.1 1406.7H1876.1M1875.1 1405.5L1876.1 1406.7L1875.1 1407.9M1911.1 1406.7H1914.1M1913.1 1405.4L1914.1 1406.7L1913.1 1408.0M1948.1 1406.7H1951.1M1950.1 1405.4L1951.1 1406.7L1950.1 1408.0M1985.0 1406.7H1988.0M1987.0 1405.4L1988.0 1406.7L1987.0 1408.0M2022.0 1406.7H2024.0M2023.0 1405.5L2024.0 1406.7L2023.0 1407.9M2059.0 1406.7H2060.0M2059.0 1405.5L2060.0 1406.7L2059.0 1407.9M1282.5 1434.8H1290.5M1287.9 1431.3L1290.5 1434.8L1287.9 1438.3M1319.5 1434.8H1320.5M1319.5 1433.6L1320.5 1434.8L1319.5 1436.0M1356.5 1434.8H1359.5M1358.5 1433.5L1359.5 1434.8L1358.5 1436.1M1393.4 1434.8H1396.4M1395.4 1433.5L1396.4 1434.8L1395.4 1436.1M1430.4 1434.8H1433.4M1432.4 1433.5L1433.4 1434.8L1432.4 1436.1M1467.4 1434.8H1459.4M1462.0 1431.3L1459.4 1434.8L1462.0 1438.3M1504.3 1434.8H1487.3M1493.0 1427.3L1487.3 1434.8L1493.0 1442.3M1541.3 1434.8H1519.3M1526.6 1425.1L1519.3 1434.8L1526.6 1444.5M1578.3 1434.8H1554.3M1562.2 1424.2L1554.3 1434.8L1562.2 1445.3M1615.3 1434.8H1589.3M1597.9 1423.3L1589.3 1434.8L1597.9 1446.2M1652.2 1434.8H1627.2M1635.5 1423.8L1627.2 1434.8L1635.5 1445.8M1689.2 1434.8H1668.2M1675.2 1425.5L1668.2 1434.8L1675.2 1444.0M1726.2 1434.8H1708.2M1714.1 1426.9L1708.2 1434.8L1714.1 1442.7M1763.2 1434.8H1748.2M1753.1 1428.2L1748.2 1434.8L1753.1 1441.4M1800.2 1434.8H1795.2M1796.8 1432.6L1795.2 1434.8L1796.8 1437.0M1837.1 1434.8H1838.1M1837.1 1433.6L1838.1 1434.8L1837.1 1436.0M1874.1 1434.8H1876.1M1875.1 1433.6L1876.1 1434.8L1875.1 1436.0M1911.1 1434.8H1913.1M1912.1 1433.6L1913.1 1434.8L1912.1 1436.0M1948.1 1434.8H1950.1M1949.1 1433.6L1950.1 1434.8L1949.1 1436.0M1985.0 1434.8H1987.0M1986.0 1433.6L1987.0 1434.8L1986.0 1436.0M2022.0 1434.8H2024.0M2023.0 1433.6L2024.0 1434.8L2023.0 1436.0M2059.0 1434.8H2060.0M2059.0 1433.6L2060.0 1434.8L2059.0 1436.0M1282.5 1462.9H1288.5M1286.5 1460.2L1288.5 1462.9L1286.5 1465.5M1319.5 1462.9H1320.5M1319.5 1461.7L1320.5 1462.9L1319.5 1464.1M1356.5 1462.9H1359.5M1358.5 1461.6L1359.5 1462.9L1358.5 1464.2M1393.4 1462.9H1396.4M1395.4 1461.6L1396.4 1462.9L1395.4 1464.2M1430.4 1462.9H1431.4M1430.4 1461.7L1431.4 1462.9L1430.4 1464.1M1467.4 1462.9H1461.4M1463.4 1460.2L1461.4 1462.9L1463.4 1465.5M1504.3 1462.9H1487.3M1493.0 1455.4L1487.3 1462.9L1493.0 1470.4M1541.3 1462.9H1517.3M1525.2 1452.3L1517.3 1462.9L1525.2 1473.4M1578.3 1462.9H1552.3M1560.9 1451.4L1552.3 1462.9L1560.9 1474.3M1615.3 1462.9H1591.3M1599.2 1452.3L1591.3 1462.9L1599.2 1473.4M1652.2 1462.9H1632.2M1638.8 1454.1L1632.2 1462.9L1638.8 1471.7M1689.2 1462.9H1673.2M1678.5 1455.8L1673.2 1462.9L1678.5 1469.9M1726.2 1462.9H1711.2M1716.2 1456.3L1711.2 1462.9L1716.2 1469.5M1763.2 1462.9H1758.2M1759.8 1460.7L1758.2 1462.9L1759.8 1465.1M1800.2 1462.9H1802.2M1801.2 1461.7L1802.2 1462.9L1801.2 1464.1M1837.1 1462.9H1840.1M1839.1 1461.6L1840.1 1462.9L1839.1 1464.2M1874.1 1462.9H1876.1M1875.1 1461.7L1876.1 1462.9L1875.1 1464.1M1911.1 1462.9H1913.1M1912.1 1461.7L1913.1 1462.9L1912.1 1464.1M1948.1 1462.9H1950.1M1949.1 1461.7L1950.1 1462.9L1949.1 1464.1M1985.0 1462.9H1987.0M1986.0 1461.7L1987.0 1462.9L1986.0 1464.1M2022.0 1462.9H2024.0M2023.0 1461.7L2024.0 1462.9L2023.0 1464.1M2059.0 1462.9H2061.0M2060.0 1461.7L2061.0 1462.9L2060.0 1464.1M1282.5 1491.0H1286.5M1285.2 1489.2L1286.5 1491.0L1285.2 1492.7M1319.5 1491.0H1320.5M1319.5 1489.8L1320.5 1491.0L1319.5 1492.2M1356.5 1491.0H1359.5M1358.5 1489.7L1359.5 1491.0L1358.5 1492.3M1393.4 1491.0H1396.4M1395.4 1489.7L1396.4 1491.0L1395.4 1492.3M1430.4 1491.0H1431.4M1430.4 1489.8L1431.4 1491.0L1430.4 1492.2M1467.4 1491.0H1461.4M1463.4 1488.3L1461.4 1491.0L1463.4 1493.6M1504.3 1491.0H1490.3M1495.0 1484.8L1490.3 1491.0L1495.0 1497.1M1541.3 1491.0H1519.3M1526.6 1481.3L1519.3 1491.0L1526.6 1500.7M1578.3 1491.0H1554.3M1562.2 1480.4L1554.3 1491.0L1562.2 1501.5M1615.3 1491.0H1593.3M1600.5 1481.3L1593.3 1491.0L1600.5 1500.7M1652.2 1491.0H1633.2M1639.5 1482.6L1633.2 1491.0L1639.5 1499.3M1689.2 1491.0H1681.2M1683.9 1487.5L1681.2 1491.0L1683.9 1494.5M1726.2 1491.0H1718.2M1720.8 1487.5L1718.2 1491.0L1720.8 1494.5M1763.2 1491.0H1757.2M1759.2 1488.3L1757.2 1491.0L1759.2 1493.6M1800.2 1491.0H1796.2M1797.5 1489.2L1796.2 1491.0L1797.5 1492.7M1837.1 1491.0H1839.1M1838.1 1489.8L1839.1 1491.0L1838.1 1492.2M1874.1 1491.0H1876.1M1875.1 1489.8L1876.1 1491.0L1875.1 1492.2M1911.1 1491.0H1913.1M1912.1 1489.8L1913.1 1491.0L1912.1 1492.2M1948.1 1491.0H1950.1M1949.1 1489.8L1950.1 1491.0L1949.1 1492.2M1985.0 1491.0H1987.0M1986.0 1489.8L1987.0 1491.0L1986.0 1492.2M2022.0 1491.0H2024.0M2023.0 1489.8L2024.0 1491.0L2023.0 1492.2M2059.0 1491.0H2061.0M2060.0 1489.8L2061.0 1491.0L2060.0 1492.2M1282.5 1519.1H1286.5M1285.2 1517.3L1286.5 1519.1L1285.2 1520.8M1319.5 1519.1H1321.5M1320.5 1517.9L1321.5 1519.1L1320.5 1520.3M1356.5 1519.1H1359.5M1358.5 1517.7L1359.5 1519.1L1358.5 1520.4M1393.4 1519.1H1396.4M1395.4 1517.7L1396.4 1519.1L1395.4 1520.4M1430.4 1519.1H1432.4M1431.4 1517.9L1432.4 1519.1L1431.4 1520.3M1467.4 1519.1H1462.4M1464.0 1516.9L1462.4 1519.1L1464.0 1521.3M1504.3 1519.1H1496.3M1499.0 1515.5L1496.3 1519.1L1499.0 1522.6M1541.3 1519.1H1524.3M1529.9 1511.6L1524.3 1519.1L1529.9 1526.5M1578.3 1519.1H1560.3M1566.2 1511.1L1560.3 1519.1L1566.2 1527.0M1615.3 1519.1H1597.3M1603.2 1511.1L1597.3 1519.1L1603.2 1527.0M1652.2 1519.1H1637.2M1642.2 1512.5L1637.2 1519.1L1642.2 1525.7M1689.2 1519.1H1684.2M1685.9 1516.9L1684.2 1519.1L1685.9 1521.3M1726.2 1519.1H1721.2M1722.9 1516.9L1721.2 1519.1L1722.9 1521.3M1763.2 1519.1H1758.2M1759.8 1516.9L1758.2 1519.1L1759.8 1521.3M1800.2 1519.1H1796.2M1797.5 1517.3L1796.2 1519.1L1797.5 1520.8M1837.1 1519.1H1840.1M1839.1 1517.7L1840.1 1519.1L1839.1 1520.4M1874.1 1519.1H1876.1M1875.1 1517.9L1876.1 1519.1L1875.1 1520.3M1911.1 1519.1H1913.1M1912.1 1517.9L1913.1 1519.1L1912.1 1520.3M1948.1 1519.1H1950.1M1949.1 1517.9L1950.1 1519.1L1949.1 1520.3M1985.0 1519.1H1987.0M1986.0 1517.9L1987.0 1519.1L1986.0 1520.3M2022.0 1519.1H2024.0M2023.0 1517.9L2024.0 1519.1L2023.0 1520.3M2059.0 1519.1H2061.0M2060.0 1517.9L2061.0 1519.1L2060.0 1520.3M1282.5 1547.2H1286.5M1285.2 1545.4L1286.5 1547.2L1285.2 1548.9M1319.5 1547.2H1320.5M1319.5 1546.0L1320.5 1547.2L1319.5 1548.4M1356.5 1547.2H1358.5M1357.5 1546.0L1358.5 1547.2L1357.5 1548.4M1393.4 1547.2H1395.4M1394.4 1546.0L1395.4 1547.2L1394.4 1548.4M1430.4 1547.2H1431.4M1430.4 1546.0L1431.4 1547.2L1430.4 1548.4M1467.4 1547.2H1463.4M1464.7 1545.4L1463.4 1547.2L1464.7 1548.9M1504.3 1547.2H1499.3M1501.0 1545.0L1499.3 1547.2L1501.0 1549.4M1541.3 1547.2H1525.3M1530.6 1540.1L1525.3 1547.2L1530.6 1554.2M1578.3 1547.2H1561.3M1566.9 1539.7L1561.3 1547.2L1566.9 1554.6M1615.3 1547.2H1598.3M1603.9 1539.7L1598.3 1547.2L1603.9 1554.6M1652.2 1547.2H1638.2M1642.9 1541.0L1638.2 1547.2L1642.9 1553.3M1689.2 1547.2H1684.2M1685.9 1545.0L1684.2 1547.2L1685.9 1549.4M1726.2 1547.2H1721.2M1722.9 1545.0L1721.2 1547.2L1722.9 1549.4M1763.2 1547.2H1758.2M1759.8 1545.0L1758.2 1547.2L1759.8 1549.4M1800.2 1547.2H1796.2M1797.5 1545.4L1796.2 1547.2L1797.5 1548.9M1837.1 1547.2H1840.1M1839.1 1545.8L1840.1 1547.2L1839.1 1548.5M1874.1 1547.2H1877.1M1876.1 1545.8L1877.1 1547.2L1876.1 1548.5M1911.1 1547.2H1913.1M1912.1 1546.0L1913.1 1547.2L1912.1 1548.4M1948.1 1547.2H1951.1M1950.1 1545.8L1951.1 1547.2L1950.1 1548.5M1985.0 1547.2H1988.0M1987.0 1545.8L1988.0 1547.2L1987.0 1548.5M2022.0 1547.2H2024.0M2023.0 1546.0L2024.0 1547.2L2023.0 1548.4M2059.0 1547.2H2061.0M2060.0 1546.0L2061.0 1547.2L2060.0 1548.4M1282.5 1575.3H1286.5M1285.2 1573.5L1286.5 1575.3L1285.2 1577.0M1319.5 1575.3H1321.5M1320.5 1574.1L1321.5 1575.3L1320.5 1576.5M1356.5 1575.3H1358.5M1357.5 1574.1L1358.5 1575.3L1357.5 1576.5M1393.4 1575.3H1395.4M1394.4 1574.1L1395.4 1575.3L1394.4 1576.5M1430.4 1575.3H1432.4M1431.4 1574.1L1432.4 1575.3L1431.4 1576.5M1467.4 1575.3H1462.4M1464.0 1573.1L1462.4 1575.3L1464.0 1577.5M1504.3 1575.3H1499.3M1501.0 1573.1L1499.3 1575.3L1501.0 1577.5M1541.3 1575.3H1527.3M1531.9 1569.1L1527.3 1575.3L1531.9 1581.4M1578.3 1575.3H1564.3M1568.9 1569.1L1564.3 1575.3L1568.9 1581.4M1615.3 1575.3H1600.3M1605.2 1568.7L1600.3 1575.3L1605.2 1581.9M1652.2 1575.3H1638.2M1642.9 1569.1L1638.2 1575.3L1642.9 1581.4M1689.2 1575.3H1683.2M1685.2 1572.6L1683.2 1575.3L1685.2 1577.9M1726.2 1575.3H1721.2M1722.9 1573.1L1721.2 1575.3L1722.9 1577.5M1763.2 1575.3H1759.2M1760.5 1573.5L1759.2 1575.3L1760.5 1577.0M1800.2 1575.3H1802.2M1801.2 1574.1L1802.2 1575.3L1801.2 1576.5M1837.1 1575.3H1839.1M1838.1 1574.1L1839.1 1575.3L1838.1 1576.5M1874.1 1575.3H1877.1M1876.1 1573.9L1877.1 1575.3L1876.1 1576.6M1911.1 1575.3H1913.1M1912.1 1574.1L1913.1 1575.3L1912.1 1576.5M1948.1 1575.3H1951.1M1950.1 1573.9L1951.1 1575.3L1950.1 1576.6M1985.0 1575.3H1988.0M1987.0 1573.9L1988.0 1575.3L1987.0 1576.6M2022.0 1575.3H2024.0M2023.0 1574.1L2024.0 1575.3L2023.0 1576.5M2059.0 1575.3H2061.0M2060.0 1574.1L2061.0 1575.3L2060.0 1576.5M1282.5 1603.4H1286.5M1285.2 1601.6L1286.5 1603.4L1285.2 1605.1M1319.5 1603.4H1321.5M1320.5 1602.2L1321.5 1603.4L1320.5 1604.6M1356.5 1603.4H1358.5M1357.5 1602.2L1358.5 1603.4L1357.5 1604.6M1393.4 1603.4H1396.4M1395.4 1602.0L1396.4 1603.4L1395.4 1604.7M1430.4 1603.4H1424.4M1426.4 1600.7L1424.4 1603.4L1426.4 1606.0M1467.4 1603.4H1450.4M1456.0 1595.9L1450.4 1603.4L1456.0 1610.8M1504.3 1603.4H1484.3M1490.9 1594.6L1484.3 1603.4L1490.9 1612.2M1541.3 1603.4H1519.3M1526.6 1593.7L1519.3 1603.4L1526.6 1613.0M1578.3 1603.4H1554.3M1562.2 1592.8L1554.3 1603.4L1562.2 1613.9M1615.3 1603.4H1591.3M1599.2 1592.8L1591.3 1603.4L1599.2 1613.9M1652.2 1603.4H1632.2M1638.8 1594.6L1632.2 1603.4L1638.8 1612.2M1689.2 1603.4H1677.2M1681.2 1598.1L1677.2 1603.4L1681.2 1608.6M1726.2 1603.4H1721.2M1722.9 1601.2L1721.2 1603.4L1722.9 1605.6M1763.2 1603.4H1765.2M1764.2 1602.2L1765.2 1603.4L1764.2 1604.6M1800.2 1603.4H1801.2M1800.2 1602.2L1801.2 1603.4L1800.2 1604.6M1837.1 1603.4H1839.1M1838.1 1602.2L1839.1 1603.4L1838.1 1604.6M1874.1 1603.4H1876.1M1875.1 1602.2L1876.1 1603.4L1875.1 1604.6M1911.1 1603.4H1914.1M1913.1 1602.0L1914.1 1603.4L1913.1 1604.7M1948.1 1603.4H1952.1M1950.7 1601.6L1952.1 1603.4L1950.7 1605.1M1985.0 1603.4H1989.0M1987.7 1601.6L1989.0 1603.4L1987.7 1605.1M2022.0 1603.4H2025.0M2024.0 1602.0L2025.0 1603.4L2024.0 1604.7M2059.0 1603.4H2061.0M2060.0 1602.2L2061.0 1603.4L2060.0 1604.6M1282.5 1631.5H1288.5M1286.5 1628.8L1288.5 1631.5L1286.5 1634.1M1319.5 1631.5H1322.5M1321.5 1630.1L1322.5 1631.5L1321.5 1632.8M1356.5 1631.5H1357.5M1356.5 1630.3L1357.5 1631.5L1356.5 1632.7M1393.4 1631.5H1385.4M1388.1 1627.9L1385.4 1631.5L1388.1 1635.0M1430.4 1631.5H1416.4M1421.0 1625.3L1416.4 1631.5L1421.0 1637.6M1467.4 1631.5H1446.4M1453.3 1622.2L1446.4 1631.5L1453.3 1640.7M1504.3 1631.5H1479.3M1487.6 1620.5L1479.3 1631.5L1487.6 1642.5M1541.3 1631.5H1516.3M1524.6 1620.5L1516.3 1631.5L1524.6 1642.5M1578.3 1631.5H1550.3M1559.5 1619.1L1550.3 1631.5L1559.5 1643.8M1615.3 1631.5H1585.3M1595.2 1618.3L1585.3 1631.5L1595.2 1644.7M1652.2 1631.5H1630.2M1637.5 1621.8L1630.2 1631.5L1637.5 1641.1M1689.2 1631.5H1673.2M1678.5 1624.4L1673.2 1631.5L1678.5 1638.5M1726.2 1631.5H1716.2M1719.5 1627.1L1716.2 1631.5L1719.5 1635.9M1763.2 1631.5H1757.2M1759.2 1628.8L1757.2 1631.5L1759.2 1634.1M1800.2 1631.5H1801.2M1800.2 1630.3L1801.2 1631.5L1800.2 1632.7M1837.1 1631.5H1840.1M1839.1 1630.1L1840.1 1631.5L1839.1 1632.8M1874.1 1631.5H1878.1M1876.8 1629.7L1878.1 1631.5L1876.8 1633.2M1911.1 1631.5H1915.1M1913.8 1629.7L1915.1 1631.5L1913.8 1633.2M1948.1 1631.5H1952.1M1950.7 1629.7L1952.1 1631.5L1950.7 1633.2M1985.0 1631.5H1989.0M1987.7 1629.7L1989.0 1631.5L1987.7 1633.2M2022.0 1631.5H2026.0M2024.7 1629.7L2026.0 1631.5L2024.7 1633.2M2059.0 1631.5H2060.0M2059.0 1630.3L2060.0 1631.5L2059.0 1632.7M1282.5 1659.6H1286.5M1285.2 1657.8L1286.5 1659.6L1285.2 1661.3M1319.5 1659.6H1321.5M1320.5 1658.4L1321.5 1659.6L1320.5 1660.8M1356.5 1659.6H1358.5M1357.5 1658.4L1358.5 1659.6L1357.5 1660.8M1393.4 1659.6H1385.4M1388.1 1656.0L1385.4 1659.6L1388.1 1663.1M1430.4 1659.6H1414.4M1419.7 1652.5L1414.4 1659.6L1419.7 1666.6M1467.4 1659.6H1443.4M1451.3 1649.0L1443.4 1659.6L1451.3 1670.1M1504.3 1659.6H1475.3M1484.9 1646.8L1475.3 1659.6L1484.9 1672.3M1541.3 1659.6H1511.3M1521.2 1646.4L1511.3 1659.6L1521.2 1672.8M1578.3 1659.6H1545.3M1556.2 1645.0L1545.3 1659.6L1556.2 1674.1M1615.3 1659.6H1582.3M1593.2 1645.0L1582.3 1659.6L1593.2 1674.1M1652.2 1659.6H1627.2M1635.5 1648.6L1627.2 1659.6L1635.5 1670.6M1689.2 1659.6H1671.2M1677.2 1651.6L1671.2 1659.6L1677.2 1667.5M1726.2 1659.6H1711.2M1716.2 1653.0L1711.2 1659.6L1716.2 1666.2M1763.2 1659.6H1755.2M1757.8 1656.0L1755.2 1659.6L1757.8 1663.1M1800.2 1659.6H1802.2M1801.2 1658.4L1802.2 1659.6L1801.2 1660.8M1837.1 1659.6H1839.1M1838.1 1658.4L1839.1 1659.6L1838.1 1660.8M1874.1 1659.6H1879.1M1877.4 1657.4L1879.1 1659.6L1877.4 1661.8M1911.1 1659.6H1916.1M1914.4 1657.4L1916.1 1659.6L1914.4 1661.8M1948.1 1659.6H1953.1M1951.4 1657.4L1953.1 1659.6L1951.4 1661.8M1985.0 1659.6H1990.0M1988.4 1657.4L1990.0 1659.6L1988.4 1661.8M2022.0 1659.6H2026.0M2024.7 1657.8L2026.0 1659.6L2024.7 1661.3M2059.0 1659.6H2061.0M2060.0 1658.4L2061.0 1659.6L2060.0 1660.8M1282.5 1687.7H1286.5M1285.2 1685.9L1286.5 1687.7L1285.2 1689.4M1319.5 1687.7H1320.5M1319.5 1686.5L1320.5 1687.7L1319.5 1688.9M1356.5 1687.7H1357.5M1356.5 1686.5L1357.5 1687.7L1356.5 1688.9M1393.4 1687.7H1381.4M1385.4 1682.4L1381.4 1687.7L1385.4 1692.9M1430.4 1687.7H1414.4M1419.7 1680.6L1414.4 1687.7L1419.7 1694.7M1467.4 1687.7H1441.4M1450.0 1676.2L1441.4 1687.7L1450.0 1699.1M1504.3 1687.7H1475.3M1484.9 1674.9L1475.3 1687.7L1484.9 1700.4M1541.3 1687.7H1511.3M1521.2 1674.5L1511.3 1687.7L1521.2 1700.9M1578.3 1687.7H1543.3M1554.8 1672.3L1543.3 1687.7L1554.8 1703.1M1615.3 1687.7H1581.3M1592.5 1672.7L1581.3 1687.7L1592.5 1702.6M1652.2 1687.7H1630.2M1637.5 1678.0L1630.2 1687.7L1637.5 1697.3M1689.2 1687.7H1667.2M1674.5 1678.0L1667.2 1687.7L1674.5 1697.3M1726.2 1687.7H1703.2M1710.8 1677.5L1703.2 1687.7L1710.8 1697.8M1763.2 1687.7H1745.2M1751.1 1679.7L1745.2 1687.7L1751.1 1695.6M1800.2 1687.7H1795.2M1796.8 1685.5L1795.2 1687.7L1796.8 1689.9M1837.1 1687.7H1839.1M1838.1 1686.5L1839.1 1687.7L1838.1 1688.9M1874.1 1687.7H1878.1M1876.8 1685.9L1878.1 1687.7L1876.8 1689.4M1911.1 1687.7H1916.1M1914.4 1685.5L1916.1 1687.7L1914.4 1689.9M1948.1 1687.7H1953.1M1951.4 1685.5L1953.1 1687.7L1951.4 1689.9M1985.0 1687.7H1990.0M1988.4 1685.5L1990.0 1687.7L1988.4 1689.9M2022.0 1687.7H2026.0M2024.7 1685.9L2026.0 1687.7L2024.7 1689.4M2059.0 1687.7H2062.0M2061.0 1686.3L2062.0 1687.7L2061.0 1689.0M1282.5 1715.8H1286.5M1285.2 1714.0L1286.5 1715.8L1285.2 1717.5M1319.5 1715.8H1321.5M1320.5 1714.5L1321.5 1715.8L1320.5 1717.0M1356.5 1715.8H1358.5M1357.5 1714.5L1358.5 1715.8L1357.5 1717.0M1393.4 1715.8H1387.4M1389.4 1713.1L1387.4 1715.8L1389.4 1718.4M1430.4 1715.8H1418.4M1422.4 1710.5L1418.4 1715.8L1422.4 1721.0M1467.4 1715.8H1442.4M1450.6 1704.8L1442.4 1715.8L1450.6 1726.8M1504.3 1715.8H1477.3M1486.3 1703.9L1477.3 1715.8L1486.3 1727.6M1541.3 1715.8H1513.3M1522.6 1703.4L1513.3 1715.8L1522.6 1728.1M1578.3 1715.8H1546.3M1556.9 1701.7L1546.3 1715.8L1556.9 1729.8M1615.3 1715.8H1583.3M1593.8 1701.7L1583.3 1715.8L1593.8 1729.8M1652.2 1715.8H1630.2M1637.5 1706.1L1630.2 1715.8L1637.5 1725.4M1689.2 1715.8H1671.2M1677.2 1707.8L1671.2 1715.8L1677.2 1723.7M1726.2 1715.8H1706.2M1712.8 1707.0L1706.2 1715.8L1712.8 1724.5M1763.2 1715.8H1748.2M1753.1 1709.2L1748.2 1715.8L1753.1 1722.3M1800.2 1715.8H1796.2M1797.5 1714.0L1796.2 1715.8L1797.5 1717.5M1837.1 1715.8H1839.1M1838.1 1714.5L1839.1 1715.8L1838.1 1717.0M1874.1 1715.8H1877.1M1876.1 1714.4L1877.1 1715.8L1876.1 1717.1M1911.1 1715.8H1916.1M1914.4 1713.5L1916.1 1715.8L1914.4 1718.0M1948.1 1715.8H1953.1M1951.4 1713.5L1953.1 1715.8L1951.4 1718.0M1985.0 1715.8H1989.0M1987.7 1714.0L1989.0 1715.8L1987.7 1717.5M2022.0 1715.8H2025.0M2024.0 1714.4L2025.0 1715.8L2024.0 1717.1M2059.0 1715.8H2062.0M2061.0 1714.4L2062.0 1715.8L2061.0 1717.1M1282.5 1743.8H1286.5M1285.2 1742.1L1286.5 1743.8L1285.2 1745.6M1319.5 1743.8H1321.5M1320.5 1742.6L1321.5 1743.8L1320.5 1745.0M1356.5 1743.8H1359.5M1358.5 1742.5L1359.5 1743.8L1358.5 1745.2M1393.4 1743.8H1387.4M1389.4 1741.2L1387.4 1743.8L1389.4 1746.5M1430.4 1743.8H1418.4M1422.4 1738.6L1418.4 1743.8L1422.4 1749.1M1467.4 1743.8H1445.4M1452.6 1734.2L1445.4 1743.8L1452.6 1753.5M1504.3 1743.8H1480.3M1488.3 1733.3L1480.3 1743.8L1488.3 1754.4M1541.3 1743.8H1516.3M1524.6 1732.8L1516.3 1743.8L1524.6 1754.8M1578.3 1743.8H1547.3M1557.5 1730.2L1547.3 1743.8L1557.5 1757.5M1615.3 1743.8H1585.3M1595.2 1730.6L1585.3 1743.8L1595.2 1757.0M1652.2 1743.8H1632.2M1638.8 1735.0L1632.2 1743.8L1638.8 1752.6M1689.2 1743.8H1670.2M1676.5 1735.5L1670.2 1743.8L1676.5 1752.2M1726.2 1743.8H1708.2M1714.1 1735.9L1708.2 1743.8L1714.1 1751.8M1763.2 1743.8H1751.2M1755.1 1738.6L1751.2 1743.8L1755.1 1749.1M1800.2 1743.8H1796.2M1797.5 1742.1L1796.2 1743.8L1797.5 1745.6M1837.1 1743.8H1839.1M1838.1 1742.6L1839.1 1743.8L1838.1 1745.0M1874.1 1743.8H1877.1M1876.1 1742.5L1877.1 1743.8L1876.1 1745.2M1911.1 1743.8H1915.1M1913.8 1742.1L1915.1 1743.8L1913.8 1745.6M1948.1 1743.8H1952.1M1950.7 1742.1L1952.1 1743.8L1950.7 1745.6M1985.0 1743.8H1989.0M1987.7 1742.1L1989.0 1743.8L1987.7 1745.6M2022.0 1743.8H2024.0M2023.0 1742.6L2024.0 1743.8L2023.0 1745.0M2059.0 1743.8H2061.0M2060.0 1742.6L2061.0 1743.8L2060.0 1745.0M1282.5 1771.9H1287.5M1285.8 1769.7L1287.5 1771.9L1285.8 1774.1M1319.5 1771.9H1321.5M1320.5 1770.7L1321.5 1771.9L1320.5 1773.1M1356.5 1771.9H1359.5M1358.5 1770.6L1359.5 1771.9L1358.5 1773.3M1393.4 1771.9H1389.4M1390.7 1770.2L1389.4 1771.9L1390.7 1773.7M1430.4 1771.9H1424.4M1426.4 1769.3L1424.4 1771.9L1426.4 1774.6M1467.4 1771.9H1449.4M1455.3 1764.0L1449.4 1771.9L1455.3 1779.9M1504.3 1771.9H1485.3M1491.6 1763.6L1485.3 1771.9L1491.6 1780.3M1541.3 1771.9H1519.3M1526.6 1762.3L1519.3 1771.9L1526.6 1781.6M1578.3 1771.9H1552.3M1560.9 1760.5L1552.3 1771.9L1560.9 1783.4M1615.3 1771.9H1593.3M1600.5 1762.3L1593.3 1771.9L1600.5 1781.6M1652.2 1771.9H1637.2M1642.2 1765.3L1637.2 1771.9L1642.2 1778.5M1689.2 1771.9H1676.2M1680.5 1766.2L1676.2 1771.9L1680.5 1777.7M1726.2 1771.9H1716.2M1719.5 1767.5L1716.2 1771.9L1719.5 1776.3M1763.2 1771.9H1757.2M1759.2 1769.3L1757.2 1771.9L1759.2 1774.6M1800.2 1771.9H1797.2M1798.2 1770.6L1797.2 1771.9L1798.2 1773.3M1837.1 1771.9H1840.1M1839.1 1770.6L1840.1 1771.9L1839.1 1773.3M1874.1 1771.9H1878.1M1876.8 1770.2L1878.1 1771.9L1876.8 1773.7M1911.1 1771.9H1915.1M1913.8 1770.2L1915.1 1771.9L1913.8 1773.7M1948.1 1771.9H1952.1M1950.7 1770.2L1952.1 1771.9L1950.7 1773.7M1985.0 1771.9H1988.0M1987.0 1770.6L1988.0 1771.9L1987.0 1773.3M2022.0 1771.9H2023.0M2022.0 1770.7L2023.0 1771.9L2022.0 1773.1M2059.0 1771.9H2061.0M2060.0 1770.7L2061.0 1771.9L2060.0 1773.1M1282.5 1800.0H1286.5M1285.2 1798.3L1286.5 1800.0L1285.2 1801.8M1319.5 1800.0H1320.5M1319.5 1798.8L1320.5 1800.0L1319.5 1801.2M1356.5 1800.0H1359.5M1358.5 1798.7L1359.5 1800.0L1358.5 1801.4M1393.4 1800.0H1389.4M1390.7 1798.3L1389.4 1800.0L1390.7 1801.8M1430.4 1800.0H1426.4M1427.7 1798.3L1426.4 1800.0L1427.7 1801.8M1467.4 1800.0H1453.4M1458.0 1793.9L1453.4 1800.0L1458.0 1806.2M1504.3 1800.0H1490.3M1495.0 1793.9L1490.3 1800.0L1495.0 1806.2M1541.3 1800.0H1523.3M1529.3 1792.1L1523.3 1800.0L1529.3 1808.0M1578.3 1800.0H1558.3M1564.9 1791.2L1558.3 1800.0L1564.9 1808.8M1615.3 1800.0H1596.3M1602.5 1791.7L1596.3 1800.0L1602.5 1808.4M1652.2 1800.0H1642.2M1645.5 1795.6L1642.2 1800.0L1645.5 1804.4M1689.2 1800.0H1677.2M1681.2 1794.8L1677.2 1800.0L1681.2 1805.3M1726.2 1800.0H1716.2M1719.5 1795.6L1716.2 1800.0L1719.5 1804.4M1763.2 1800.0H1758.2M1759.8 1797.8L1758.2 1800.0L1759.8 1802.2M1800.2 1800.0H1796.2M1797.5 1798.3L1796.2 1800.0L1797.5 1801.8M1837.1 1800.0H1839.1M1838.1 1798.8L1839.1 1800.0L1838.1 1801.2M1874.1 1800.0H1876.1M1875.1 1798.8L1876.1 1800.0L1875.1 1801.2M1911.1 1800.0H1915.1M1913.8 1798.3L1915.1 1800.0L1913.8 1801.8M1948.1 1800.0H1951.1M1950.1 1798.7L1951.1 1800.0L1950.1 1801.4M1985.0 1800.0H1988.0M1987.0 1798.7L1988.0 1800.0L1987.0 1801.4M2022.0 1800.0H2024.0M2023.0 1798.8L2024.0 1800.0L2023.0 1801.2M2059.0 1800.0H2061.0M2060.0 1798.8L2061.0 1800.0L2060.0 1801.2M1282.5 1828.1H1284.5M1283.5 1826.9L1284.5 1828.1L1283.5 1829.3M1319.5 1828.1H1321.5M1320.5 1826.9L1321.5 1828.1L1320.5 1829.3M1356.5 1828.1H1359.5M1358.5 1826.8L1359.5 1828.1L1358.5 1829.5M1393.4 1828.1H1389.4M1390.7 1826.4L1389.4 1828.1L1390.7 1829.9M1430.4 1828.1H1426.4M1427.7 1826.4L1426.4 1828.1L1427.7 1829.9M1467.4 1828.1H1455.4M1459.3 1822.9L1455.4 1828.1L1459.3 1833.4M1504.3 1828.1H1492.3M1496.3 1822.9L1492.3 1828.1L1496.3 1833.4M1541.3 1828.1H1527.3M1531.9 1822.0L1527.3 1828.1L1531.9 1834.3M1578.3 1828.1H1562.3M1567.6 1821.1L1562.3 1828.1L1567.6 1835.2M1615.3 1828.1H1599.3M1604.6 1821.1L1599.3 1828.1L1604.6 1835.2M1652.2 1828.1H1646.2M1648.2 1825.5L1646.2 1828.1L1648.2 1830.8M1689.2 1828.1H1684.2M1685.9 1825.9L1684.2 1828.1L1685.9 1830.3M1726.2 1828.1H1721.2M1722.9 1825.9L1721.2 1828.1L1722.9 1830.3M1763.2 1828.1H1766.2M1765.2 1826.8L1766.2 1828.1L1765.2 1829.5M1800.2 1828.1H1802.2M1801.2 1826.9L1802.2 1828.1L1801.2 1829.3M1837.1 1828.1H1841.1M1839.8 1826.4L1841.1 1828.1L1839.8 1829.9M1874.1 1828.1H1878.1M1876.8 1826.4L1878.1 1828.1L1876.8 1829.9M1911.1 1828.1H1915.1M1913.8 1826.4L1915.1 1828.1L1913.8 1829.9M1948.1 1828.1H1951.1M1950.1 1826.8L1951.1 1828.1L1950.1 1829.5M1985.0 1828.1H1988.0M1987.0 1826.8L1988.0 1828.1L1987.0 1829.5M2022.0 1828.1H2024.0M2023.0 1826.9L2024.0 1828.1L2023.0 1829.3M2059.0 1828.1H2061.0M2060.0 1826.9L2061.0 1828.1L2060.0 1829.3M1282.5 1856.2H1284.5M1283.5 1855.0L1284.5 1856.2L1283.5 1857.4M1319.5 1856.2H1320.5M1319.5 1855.0L1320.5 1856.2L1319.5 1857.4M1356.5 1856.2H1359.5M1358.5 1854.9L1359.5 1856.2L1358.5 1857.6M1393.4 1856.2H1395.4M1394.4 1855.0L1395.4 1856.2L1394.4 1857.4M1430.4 1856.2H1426.4M1427.7 1854.5L1426.4 1856.2L1427.7 1858.0M1467.4 1856.2H1457.4M1460.7 1851.8L1457.4 1856.2L1460.7 1860.6M1504.3 1856.2H1498.3M1500.3 1853.6L1498.3 1856.2L1500.3 1858.9M1541.3 1856.2H1535.3M1537.3 1853.6L1535.3 1856.2L1537.3 1858.9M1578.3 1856.2H1568.3M1571.6 1851.8L1568.3 1856.2L1571.6 1860.6M1615.3 1856.2H1604.3M1607.9 1851.4L1604.3 1856.2L1607.9 1861.1M1652.2 1856.2H1648.2M1649.6 1854.5L1648.2 1856.2L1649.6 1858.0M1689.2 1856.2H1691.2M1690.2 1855.0L1691.2 1856.2L1690.2 1857.4M1726.2 1856.2H1728.2M1727.2 1855.0L1728.2 1856.2L1727.2 1857.4M1763.2 1856.2H1765.2M1764.2 1855.0L1765.2 1856.2L1764.2 1857.4M1800.2 1856.2H1802.2M1801.2 1855.0L1802.2 1856.2L1801.2 1857.4M1837.1 1856.2H1840.1M1839.1 1854.9L1840.1 1856.2L1839.1 1857.6M1874.1 1856.2H1877.1M1876.1 1854.9L1877.1 1856.2L1876.1 1857.6M1911.1 1856.2H1915.1M1913.8 1854.5L1915.1 1856.2L1913.8 1858.0M1948.1 1856.2H1951.1M1950.1 1854.9L1951.1 1856.2L1950.1 1857.6M1985.0 1856.2H1989.0M1987.7 1854.5L1989.0 1856.2L1987.7 1858.0M2022.0 1856.2H2024.0M2023.0 1855.0L2024.0 1856.2L2023.0 1857.4M2059.0 1856.2H2061.0M2060.0 1855.0L2061.0 1856.2L2060.0 1857.4M1282.5 1884.3H1284.5M1283.5 1883.1L1284.5 1884.3L1283.5 1885.5M1319.5 1884.3H1320.5M1319.5 1883.1L1320.5 1884.3L1319.5 1885.5M1356.5 1884.3H1360.5M1359.1 1882.6L1360.5 1884.3L1359.1 1886.1M1393.4 1884.3H1395.4M1394.4 1883.1L1395.4 1884.3L1394.4 1885.5M1430.4 1884.3H1428.4M1429.4 1883.1L1428.4 1884.3L1429.4 1885.5M1467.4 1884.3H1460.4M1462.7 1881.3L1460.4 1884.3L1462.7 1887.4M1504.3 1884.3H1502.3M1503.3 1883.1L1502.3 1884.3L1503.3 1885.5M1541.3 1884.3H1543.3M1542.3 1883.1L1543.3 1884.3L1542.3 1885.5M1578.3 1884.3H1576.3M1577.3 1883.1L1576.3 1884.3L1577.3 1885.5M1615.3 1884.3H1613.3M1614.3 1883.1L1613.3 1884.3L1614.3 1885.5M1652.2 1884.3H1654.2M1653.2 1883.1L1654.2 1884.3L1653.2 1885.5M1689.2 1884.3H1691.2M1690.2 1883.1L1691.2 1884.3L1690.2 1885.5M1726.2 1884.3H1729.2M1728.2 1883.0L1729.2 1884.3L1728.2 1885.7M1763.2 1884.3H1768.2M1766.5 1882.1L1768.2 1884.3L1766.5 1886.5M1800.2 1884.3H1804.2M1802.8 1882.6L1804.2 1884.3L1802.8 1886.1M1837.1 1884.3H1840.1M1839.1 1883.0L1840.1 1884.3L1839.1 1885.7M1874.1 1884.3H1878.1M1876.8 1882.6L1878.1 1884.3L1876.8 1886.1M1911.1 1884.3H1915.1M1913.8 1882.6L1915.1 1884.3L1913.8 1886.1M1948.1 1884.3H1951.1M1950.1 1883.0L1951.1 1884.3L1950.1 1885.7M1985.0 1884.3H1988.0M1987.0 1883.0L1988.0 1884.3L1987.0 1885.7M2022.0 1884.3H2024.0M2023.0 1883.1L2024.0 1884.3L2023.0 1885.5M2059.0 1884.3H2062.0M2061.0 1883.0L2062.0 1884.3L2061.0 1885.7M1282.5 1912.4H1284.5M1283.5 1911.2L1284.5 1912.4L1283.5 1913.6M1319.5 1912.4H1320.5M1319.5 1911.2L1320.5 1912.4L1319.5 1913.6M1356.5 1912.4H1360.5M1359.1 1910.7L1360.5 1912.4L1359.1 1914.2M1393.4 1912.4H1396.4M1395.4 1911.1L1396.4 1912.4L1395.4 1913.8M1430.4 1912.4H1434.4M1433.1 1910.7L1434.4 1912.4L1433.1 1914.2M1467.4 1912.4H1461.4M1463.4 1909.8L1461.4 1912.4L1463.4 1915.1M1504.3 1912.4H1507.3M1506.3 1911.1L1507.3 1912.4L1506.3 1913.8M1541.3 1912.4H1543.3M1542.3 1911.2L1543.3 1912.4L1542.3 1913.6M1578.3 1912.4H1581.3M1580.3 1911.1L1581.3 1912.4L1580.3 1913.8M1615.3 1912.4H1617.3M1616.3 1911.2L1617.3 1912.4L1616.3 1913.6M1652.2 1912.4H1653.2M1652.2 1911.2L1653.2 1912.4L1652.2 1913.6M1689.2 1912.4H1692.2M1691.2 1911.1L1692.2 1912.4L1691.2 1913.8M1726.2 1912.4H1729.2M1728.2 1911.1L1729.2 1912.4L1728.2 1913.8M1763.2 1912.4H1767.2M1765.9 1910.7L1767.2 1912.4L1765.9 1914.2M1800.2 1912.4H1803.2M1802.2 1911.1L1803.2 1912.4L1802.2 1913.8M1837.1 1912.4H1840.1M1839.1 1911.1L1840.1 1912.4L1839.1 1913.8M1874.1 1912.4H1877.1M1876.1 1911.1L1877.1 1912.4L1876.1 1913.8M1911.1 1912.4H1914.1M1913.1 1911.1L1914.1 1912.4L1913.1 1913.8M1948.1 1912.4H1951.1M1950.1 1911.1L1951.1 1912.4L1950.1 1913.8M1985.0 1912.4H1988.0M1987.0 1911.1L1988.0 1912.4L1987.0 1913.8M2022.0 1912.4H2023.0M2022.0 1911.2L2023.0 1912.4L2022.0 1913.6M2059.0 1912.4H2061.0M2060.0 1911.2L2061.0 1912.4L2060.0 1913.6M1282.5 1940.5H1283.5M1282.5 1939.3L1283.5 1940.5L1282.5 1941.7M1319.5 1940.5H1321.5M1320.5 1939.3L1321.5 1940.5L1320.5 1941.7M1356.5 1940.5H1360.5M1359.1 1938.8L1360.5 1940.5L1359.1 1942.3M1393.4 1940.5H1397.4M1396.1 1938.8L1397.4 1940.5L1396.1 1942.3M1430.4 1940.5H1434.4M1433.1 1938.8L1434.4 1940.5L1433.1 1942.3M1467.4 1940.5H1471.4M1470.1 1938.8L1471.4 1940.5L1470.1 1942.3M1504.3 1940.5H1507.3M1506.3 1939.2L1507.3 1940.5L1506.3 1941.8M1541.3 1940.5H1543.3M1542.3 1939.3L1543.3 1940.5L1542.3 1941.7M1578.3 1940.5H1579.3M1578.3 1939.3L1579.3 1940.5L1578.3 1941.7M1615.3 1940.5H1617.3M1616.3 1939.3L1617.3 1940.5L1616.3 1941.7M1652.2 1940.5H1655.2M1654.2 1939.2L1655.2 1940.5L1654.2 1941.8M1689.2 1940.5H1693.2M1691.9 1938.8L1693.2 1940.5L1691.9 1942.3M1726.2 1940.5H1730.2M1728.9 1938.8L1730.2 1940.5L1728.9 1942.3M1763.2 1940.5H1768.2M1766.5 1938.3L1768.2 1940.5L1766.5 1942.7M1800.2 1940.5H1805.2M1803.5 1938.3L1805.2 1940.5L1803.5 1942.7M1837.1 1940.5H1841.1M1839.8 1938.8L1841.1 1940.5L1839.8 1942.3M1874.1 1940.5H1878.1M1876.8 1938.8L1878.1 1940.5L1876.8 1942.3M1911.1 1940.5H1915.1M1913.8 1938.8L1915.1 1940.5L1913.8 1942.3M1948.1 1940.5H1951.1M1950.1 1939.2L1951.1 1940.5L1950.1 1941.8M1985.0 1940.5H1988.0M1987.0 1939.2L1988.0 1940.5L1987.0 1941.8M2022.0 1940.5H2024.0M2023.0 1939.3L2024.0 1940.5L2023.0 1941.7M2059.0 1940.5H2061.0M2060.0 1939.3L2061.0 1940.5L2060.0 1941.7M1282.5 1968.6H1283.5M1282.5 1967.4L1283.5 1968.6L1282.5 1969.8M1319.5 1968.6H1323.5M1322.2 1966.9L1323.5 1968.6L1322.2 1970.4M1356.5 1968.6H1360.5M1359.1 1966.9L1360.5 1968.6L1359.1 1970.4M1393.4 1968.6H1397.4M1396.1 1966.9L1397.4 1968.6L1396.1 1970.4M1430.4 1968.6H1434.4M1433.1 1966.9L1434.4 1968.6L1433.1 1970.4M1467.4 1968.6H1471.4M1470.1 1966.9L1471.4 1968.6L1470.1 1970.4M1504.3 1968.6H1506.3M1505.3 1967.4L1506.3 1968.6L1505.3 1969.8M1541.3 1968.6H1542.3M1541.3 1967.4L1542.3 1968.6L1541.3 1969.8M1578.3 1968.6H1580.3M1579.3 1967.4L1580.3 1968.6L1579.3 1969.8M1615.3 1968.6H1618.3M1617.3 1967.3L1618.3 1968.6L1617.3 1969.9M1652.2 1968.6H1656.2M1654.9 1966.9L1656.2 1968.6L1654.9 1970.4M1689.2 1968.6H1693.2M1691.9 1966.9L1693.2 1968.6L1691.9 1970.4M1726.2 1968.6H1730.2M1728.9 1966.9L1730.2 1968.6L1728.9 1970.4M1763.2 1968.6H1767.2M1765.9 1966.9L1767.2 1968.6L1765.9 1970.4M1800.2 1968.6H1803.2M1802.2 1967.3L1803.2 1968.6L1802.2 1969.9M1837.1 1968.6H1840.1M1839.1 1967.3L1840.1 1968.6L1839.1 1969.9M1874.1 1968.6H1878.1M1876.8 1966.9L1878.1 1968.6L1876.8 1970.4M1911.1 1968.6H1914.1M1913.1 1967.3L1914.1 1968.6L1913.1 1969.9M1948.1 1968.6H1950.1M1949.1 1967.4L1950.1 1968.6L1949.1 1969.8M1985.0 1968.6H1986.0M1985.0 1967.4L1986.0 1968.6L1985.0 1969.8M2022.0 1968.6H2023.0M2022.0 1967.4L2023.0 1968.6L2022.0 1969.8M2059.0 1968.6H2060.0M2059.0 1967.4L2060.0 1968.6L2059.0 1969.8M1282.5 1996.7H1283.5M1282.5 1995.5L1283.5 1996.7L1282.5 1997.9M1319.5 1996.7H1323.5M1322.2 1995.0L1323.5 1996.7L1322.2 1998.5M1356.5 1996.7H1358.5M1357.5 1995.5L1358.5 1996.7L1357.5 1997.9M1393.4 1996.7H1395.4M1394.4 1995.5L1395.4 1996.7L1394.4 1997.9M1430.4 1996.7H1432.4M1431.4 1995.5L1432.4 1996.7L1431.4 1997.9M1467.4 1996.7H1468.4M1467.4 1995.5L1468.4 1996.7L1467.4 1997.9M1504.3 1996.7H1506.3M1505.3 1995.5L1506.3 1996.7L1505.3 1997.9M1541.3 1996.7H1544.3M1543.3 1995.4L1544.3 1996.7L1543.3 1998.0M1578.3 1996.7H1592.3M1587.7 1990.6L1592.3 1996.7L1587.7 2002.9M1615.3 1996.7H1630.3M1625.3 1990.1L1630.3 1996.7L1625.3 2003.3M1652.2 1996.7H1666.2M1661.6 1990.6L1666.2 1996.7L1661.6 2002.9M1689.2 1996.7H1697.2M1694.6 1993.2L1697.2 1996.7L1694.6 2000.2M1726.2 1996.7H1731.2M1729.5 1994.5L1731.2 1996.7L1729.5 1998.9M1763.2 1996.7H1767.2M1765.9 1995.0L1767.2 1996.7L1765.9 1998.5M1800.2 1996.7H1804.2M1802.8 1995.0L1804.2 1996.7L1802.8 1998.5M1837.1 1996.7H1840.1M1839.1 1995.4L1840.1 1996.7L1839.1 1998.0M1874.1 1996.7H1877.1M1876.1 1995.4L1877.1 1996.7L1876.1 1998.0M1911.1 1996.7H1912.1M1911.1 1995.5L1912.1 1996.7L1911.1 1997.9M1948.1 1996.7H1950.1M1949.1 1995.5L1950.1 1996.7L1949.1 1997.9M1985.0 1996.7H1988.0M1987.0 1995.4L1988.0 1996.7L1987.0 1998.0M2022.0 1996.7H2025.0M2024.0 1995.4L2025.0 1996.7L2024.0 1998.0M2059.0 1996.7H2062.0M2061.0 1995.4L2062.0 1996.7L2061.0 1998.0M1282.5 2024.8H1283.5M1282.5 2023.6L1283.5 2024.8L1282.5 2026.0M1319.5 2024.8H1323.5M1322.2 2023.1L1323.5 2024.8L1322.2 2026.6M1356.5 2024.8H1358.5M1357.5 2023.6L1358.5 2024.8L1357.5 2026.0M1393.4 2024.8H1394.4M1393.4 2023.6L1394.4 2024.8L1393.4 2026.0M1430.4 2024.8H1432.4M1431.4 2023.6L1432.4 2024.8L1431.4 2026.0M1467.4 2024.8H1475.4M1472.7 2021.3L1475.4 2024.8L1472.7 2028.3M1504.3 2024.8H1509.3M1507.7 2022.6L1509.3 2024.8L1507.7 2027.0M1541.3 2024.8H1544.3M1543.3 2023.5L1544.3 2024.8L1543.3 2026.1M1578.3 2024.8H1594.3M1589.0 2017.8L1594.3 2024.8L1589.0 2031.9M1615.3 2024.8H1635.3M1628.7 2016.0L1635.3 2024.8L1628.7 2033.6M1652.2 2024.8H1672.2M1665.7 2016.0L1672.2 2024.8L1665.7 2033.6M1689.2 2024.8H1709.2M1702.6 2016.0L1709.2 2024.8L1702.6 2033.6M1726.2 2024.8H1744.2M1738.3 2016.9L1744.2 2024.8L1738.3 2032.7M1763.2 2024.8H1778.2M1773.2 2018.2L1778.2 2024.8L1773.2 2031.4M1800.2 2024.8H1815.2M1810.2 2018.2L1815.2 2024.8L1810.2 2031.4M1837.1 2024.8H1845.1M1842.5 2021.3L1845.1 2024.8L1842.5 2028.3M1874.1 2024.8H1878.1M1876.8 2023.1L1878.1 2024.8L1876.8 2026.6M1911.1 2024.8H1913.1M1912.1 2023.6L1913.1 2024.8L1912.1 2026.0M1948.1 2024.8H1951.1M1950.1 2023.5L1951.1 2024.8L1950.1 2026.1M1985.0 2024.8H1989.0M1987.7 2023.1L1989.0 2024.8L1987.7 2026.6M2022.0 2024.8H2026.0M2024.7 2023.1L2026.0 2024.8L2024.7 2026.6M2059.0 2024.8H2062.0M2061.0 2023.5L2062.0 2024.8L2061.0 2026.1M1282.5 2052.9H1283.5M1282.5 2051.7L1283.5 2052.9L1282.5 2054.1M1319.5 2052.9H1321.5M1320.5 2051.7L1321.5 2052.9L1320.5 2054.1M1356.5 2052.9H1358.5M1357.5 2051.7L1358.5 2052.9L1357.5 2054.1M1393.4 2052.9H1395.4M1394.4 2051.7L1395.4 2052.9L1394.4 2054.1M1430.4 2052.9H1434.4M1433.1 2051.2L1434.4 2052.9L1433.1 2054.7M1467.4 2052.9H1481.4M1476.8 2046.8L1481.4 2052.9L1476.8 2059.1M1504.3 2052.9H1518.3M1513.7 2046.8L1518.3 2052.9L1513.7 2059.1M1541.3 2052.9H1554.3M1550.0 2047.2L1554.3 2052.9L1550.0 2058.6M1578.3 2052.9H1600.3M1593.0 2043.2L1600.3 2052.9L1593.0 2062.6M1615.3 2052.9H1640.3M1632.0 2041.9L1640.3 2052.9L1632.0 2063.9M1652.2 2052.9H1677.2M1669.0 2041.9L1677.2 2052.9L1669.0 2063.9M1689.2 2052.9H1714.2M1706.0 2041.9L1714.2 2052.9L1706.0 2063.9M1726.2 2052.9H1748.2M1740.9 2043.2L1748.2 2052.9L1740.9 2062.6M1763.2 2052.9H1781.2M1775.2 2045.0L1781.2 2052.9L1775.2 2060.8M1800.2 2052.9H1820.2M1813.6 2044.1L1820.2 2052.9L1813.6 2061.7M1837.1 2052.9H1853.1M1847.8 2045.9L1853.1 2052.9L1847.8 2060.0M1874.1 2052.9H1879.1M1877.4 2050.7L1879.1 2052.9L1877.4 2055.1M1911.1 2052.9H1912.1M1911.1 2051.7L1912.1 2052.9L1911.1 2054.1M1948.1 2052.9H1950.1M1949.1 2051.7L1950.1 2052.9L1949.1 2054.1M1985.0 2052.9H1988.0M1987.0 2051.6L1988.0 2052.9L1987.0 2054.2M2022.0 2052.9H2026.0M2024.7 2051.2L2026.0 2052.9L2024.7 2054.7M2059.0 2052.9H2062.0M2061.0 2051.6L2062.0 2052.9L2061.0 2054.2M1282.5 2081.0H1283.5M1282.5 2079.8L1283.5 2081.0L1282.5 2082.2M1319.5 2081.0H1321.5M1320.5 2079.8L1321.5 2081.0L1320.5 2082.2M1356.5 2081.0H1358.5M1357.5 2079.8L1358.5 2081.0L1357.5 2082.2M1393.4 2081.0H1396.4M1395.4 2079.7L1396.4 2081.0L1395.4 2082.3M1430.4 2081.0H1434.4M1433.1 2079.3L1434.4 2081.0L1433.1 2082.8M1467.4 2081.0H1487.4M1480.8 2072.2L1487.4 2081.0L1480.8 2089.8M1504.3 2081.0H1526.3M1519.1 2071.3L1526.3 2081.0L1519.1 2090.7M1541.3 2081.0H1563.3M1556.1 2071.3L1563.3 2081.0L1556.1 2090.7M1578.3 2081.0H1604.3M1595.7 2069.6L1604.3 2081.0L1595.7 2092.5M1615.3 2081.0H1642.3M1633.4 2069.1L1642.3 2081.0L1633.4 2092.9M1652.2 2081.0H1679.2M1670.3 2069.1L1679.2 2081.0L1670.3 2092.9M1689.2 2081.0H1719.2M1709.3 2067.8L1719.2 2081.0L1709.3 2094.2M1726.2 2081.0H1754.2M1745.0 2068.7L1754.2 2081.0L1745.0 2093.3M1763.2 2081.0H1785.2M1777.9 2071.3L1785.2 2081.0L1777.9 2090.7M1800.2 2081.0H1824.2M1816.2 2070.5L1824.2 2081.0L1816.2 2091.6M1837.1 2081.0H1854.1M1848.5 2073.5L1854.1 2081.0L1848.5 2088.5M1874.1 2081.0H1879.1M1877.4 2078.8L1879.1 2081.0L1877.4 2083.2M1911.1 2081.0H1912.1M1911.1 2079.8L1912.1 2081.0L1911.1 2082.2M1948.1 2081.0H1949.1M1948.1 2079.8L1949.1 2081.0L1948.1 2082.2M1985.0 2081.0H1987.0M1986.0 2079.8L1987.0 2081.0L1986.0 2082.2M2022.0 2081.0H2025.0M2024.0 2079.7L2025.0 2081.0L2024.0 2082.3M2059.0 2081.0H2062.0M2061.0 2079.7L2062.0 2081.0L2061.0 2082.3M1282.5 2109.1H1283.5M1282.5 2107.9L1283.5 2109.1L1282.5 2110.3M1319.5 2109.1H1321.5M1320.5 2107.9L1321.5 2109.1L1320.5 2110.3M1356.5 2109.1H1358.5M1357.5 2107.9L1358.5 2109.1L1357.5 2110.3M1393.4 2109.1H1395.4M1394.4 2107.9L1395.4 2109.1L1394.4 2110.3M1430.4 2109.1H1432.4M1431.4 2107.9L1432.4 2109.1L1431.4 2110.3M1467.4 2109.1H1485.4M1479.4 2101.2L1485.4 2109.1L1479.4 2117.0M1504.3 2109.1H1532.3M1523.1 2096.8L1532.3 2109.1L1523.1 2121.4M1541.3 2109.1H1573.3M1562.8 2095.0L1573.3 2109.1L1562.8 2123.2M1578.3 2109.1H1608.3M1598.4 2095.9L1608.3 2109.1L1598.4 2122.3M1615.3 2109.1H1645.3M1635.4 2095.9L1645.3 2109.1L1635.4 2122.3M1652.2 2109.1H1684.2M1673.7 2095.0L1684.2 2109.1L1673.7 2123.2M1689.2 2109.1H1716.2M1707.3 2097.2L1716.2 2109.1L1707.3 2121.0M1726.2 2109.1H1752.2M1743.6 2097.7L1752.2 2109.1L1743.6 2120.6M1763.2 2109.1H1783.2M1776.6 2100.3L1783.2 2109.1L1776.6 2117.9M1800.2 2109.1H1817.2M1811.5 2101.6L1817.2 2109.1L1811.5 2116.6M1837.1 2109.1H1842.1M1840.5 2106.9L1842.1 2109.1L1840.5 2111.3M1874.1 2109.1H1878.1M1876.8 2107.4L1878.1 2109.1L1876.8 2110.9M1911.1 2109.1H1912.1M1911.1 2107.9L1912.1 2109.1L1911.1 2110.3M1948.1 2109.1H1950.1M1949.1 2107.9L1950.1 2109.1L1949.1 2110.3M1985.0 2109.1H1987.0M1986.0 2107.9L1987.0 2109.1L1986.0 2110.3M2022.0 2109.1H2026.0M2024.7 2107.4L2026.0 2109.1L2024.7 2110.9M2059.0 2109.1H2062.0M2061.0 2107.8L2062.0 2109.1L2061.0 2110.4M1282.5 2137.2H1284.5M1283.5 2136.0L1284.5 2137.2L1283.5 2138.4M1319.5 2137.2H1321.5M1320.5 2136.0L1321.5 2137.2L1320.5 2138.4M1356.5 2137.2H1358.5M1357.5 2136.0L1358.5 2137.2L1357.5 2138.4M1393.4 2137.2H1395.4M1394.4 2136.0L1395.4 2137.2L1394.4 2138.4M1430.4 2137.2H1432.4M1431.4 2136.0L1432.4 2137.2L1431.4 2138.4M1467.4 2137.2H1489.4M1482.1 2127.5L1489.4 2137.2L1482.1 2146.9M1504.3 2137.2H1536.3M1525.8 2123.1L1536.3 2137.2L1525.8 2151.3M1541.3 2137.2H1576.3M1564.8 2121.8L1576.3 2137.2L1564.8 2152.6M1578.3 2137.2H1611.3M1600.4 2122.7L1611.3 2137.2L1600.4 2151.7M1615.3 2137.2H1645.3M1635.4 2124.0L1645.3 2137.2L1635.4 2150.4M1652.2 2137.2H1684.2M1673.7 2123.1L1684.2 2137.2L1673.7 2151.3M1689.2 2137.2H1717.2M1708.0 2124.9L1717.2 2137.2L1708.0 2149.5M1726.2 2137.2H1754.2M1745.0 2124.9L1754.2 2137.2L1745.0 2149.5M1763.2 2137.2H1783.2M1776.6 2128.4L1783.2 2137.2L1776.6 2146.0M1800.2 2137.2H1812.2M1808.2 2131.9L1812.2 2137.2L1808.2 2142.5M1837.1 2137.2H1842.1M1840.5 2135.0L1842.1 2137.2L1840.5 2139.4M1874.1 2137.2H1877.1M1876.1 2135.9L1877.1 2137.2L1876.1 2138.5M1911.1 2137.2H1912.1M1911.1 2136.0L1912.1 2137.2L1911.1 2138.4M1948.1 2137.2H1950.1M1949.1 2136.0L1950.1 2137.2L1949.1 2138.4M1985.0 2137.2H1987.0M1986.0 2136.0L1987.0 2137.2L1986.0 2138.4M2022.0 2137.2H2026.0M2024.7 2135.4L2026.0 2137.2L2024.7 2139.0M2059.0 2137.2H2063.0M2061.7 2135.4L2063.0 2137.2L2061.7 2139.0M1282.5 2165.3H1283.5M1282.5 2164.1L1283.5 2165.3L1282.5 2166.5M1319.5 2165.3H1321.5M1320.5 2164.1L1321.5 2165.3L1320.5 2166.5M1356.5 2165.3H1360.5M1359.1 2163.5L1360.5 2165.3L1359.1 2167.1M1393.4 2165.3H1397.4M1396.1 2163.5L1397.4 2165.3L1396.1 2167.1M1430.4 2165.3H1434.4M1433.1 2163.5L1434.4 2165.3L1433.1 2167.1M1467.4 2165.3H1489.4M1482.1 2155.6L1489.4 2165.3L1482.1 2175.0M1504.3 2165.3H1529.3M1521.1 2154.3L1529.3 2165.3L1521.1 2176.3M1541.3 2165.3H1566.3M1558.1 2154.3L1566.3 2165.3L1558.1 2176.3M1578.3 2165.3H1600.3M1593.0 2155.6L1600.3 2165.3L1593.0 2175.0M1615.3 2165.3H1636.3M1629.3 2156.1L1636.3 2165.3L1629.3 2174.5M1652.2 2165.3H1674.2M1667.0 2155.6L1674.2 2165.3L1667.0 2175.0M1689.2 2165.3H1711.2M1704.0 2155.6L1711.2 2165.3L1704.0 2175.0M1726.2 2165.3H1750.2M1742.3 2154.7L1750.2 2165.3L1742.3 2175.9M1763.2 2165.3H1778.2M1773.2 2158.7L1778.2 2165.3L1773.2 2171.9M1800.2 2165.3H1807.2M1804.8 2162.2L1807.2 2165.3L1804.8 2168.4M1837.1 2165.3H1841.1M1839.8 2163.5L1841.1 2165.3L1839.8 2167.1M1874.1 2165.3H1877.1M1876.1 2164.0L1877.1 2165.3L1876.1 2166.6M1911.1 2165.3H1912.1M1911.1 2164.1L1912.1 2165.3L1911.1 2166.5M1948.1 2165.3H1949.1M1948.1 2164.1L1949.1 2165.3L1948.1 2166.5M1985.0 2165.3H1988.0M1987.0 2164.0L1988.0 2165.3L1987.0 2166.6M2022.0 2165.3H2025.0M2024.0 2164.0L2025.0 2165.3L2024.0 2166.6M2059.0 2165.3H2062.0M2061.0 2164.0L2062.0 2165.3L2061.0 2166.6M1282.5 2193.4H1283.5M1282.5 2192.2L1283.5 2193.4L1282.5 2194.6M1319.5 2193.4H1322.5M1321.5 2192.1L1322.5 2193.4L1321.5 2194.7M1356.5 2193.4H1360.5M1359.1 2191.6L1360.5 2193.4L1359.1 2195.2M1393.4 2193.4H1397.4M1396.1 2191.6L1397.4 2193.4L1396.1 2195.2M1430.4 2193.4H1434.4M1433.1 2191.6L1434.4 2193.4L1433.1 2195.2M1467.4 2193.4H1487.4M1480.8 2184.6L1487.4 2193.4L1480.8 2202.2M1504.3 2193.4H1524.3M1517.8 2184.6L1524.3 2193.4L1517.8 2202.2M1541.3 2193.4H1560.3M1554.1 2185.0L1560.3 2193.4L1554.1 2201.8M1578.3 2193.4H1595.3M1589.7 2185.9L1595.3 2193.4L1589.7 2200.9M1615.3 2193.4H1633.3M1627.3 2185.5L1633.3 2193.4L1627.3 2201.3M1652.2 2193.4H1672.2M1665.7 2184.6L1672.2 2193.4L1665.7 2202.2M1689.2 2193.4H1709.2M1702.6 2184.6L1709.2 2193.4L1702.6 2202.2M1726.2 2193.4H1748.2M1740.9 2183.7L1748.2 2193.4L1740.9 2203.1M1763.2 2193.4H1778.2M1773.2 2186.8L1778.2 2193.4L1773.2 2200.0M1800.2 2193.4H1808.2M1805.5 2189.9L1808.2 2193.4L1805.5 2196.9M1837.1 2193.4H1841.1M1839.8 2191.6L1841.1 2193.4L1839.8 2195.2M1874.1 2193.4H1877.1M1876.1 2192.1L1877.1 2193.4L1876.1 2194.7M1911.1 2193.4H1912.1M1911.1 2192.2L1912.1 2193.4L1911.1 2194.6M1948.1 2193.4H1950.1M1949.1 2192.2L1950.1 2193.4L1949.1 2194.6M1985.0 2193.4H1987.0M1986.0 2192.2L1987.0 2193.4L1986.0 2194.6M2022.0 2193.4H2025.0M2024.0 2192.1L2025.0 2193.4L2024.0 2194.7M2059.0 2193.4H2062.0M2061.0 2192.1L2062.0 2193.4L2061.0 2194.7M1282.5 2221.5H1283.5M1282.5 2220.3L1283.5 2221.5L1282.5 2222.7M1319.5 2221.5H1321.5M1320.5 2220.3L1321.5 2221.5L1320.5 2222.7M1356.5 2221.5H1360.5M1359.1 2219.7L1360.5 2221.5L1359.1 2223.3M1393.4 2221.5H1397.4M1396.1 2219.7L1397.4 2221.5L1396.1 2223.3M1430.4 2221.5H1434.4M1433.1 2219.7L1434.4 2221.5L1433.1 2223.3M1467.4 2221.5H1482.4M1477.4 2214.9L1482.4 2221.5L1477.4 2228.1M1504.3 2221.5H1519.3M1514.4 2214.9L1519.3 2221.5L1514.4 2228.1M1541.3 2221.5H1556.3M1551.4 2214.9L1556.3 2221.5L1551.4 2228.1M1578.3 2221.5H1592.3M1587.7 2215.3L1592.3 2221.5L1587.7 2227.7M1615.3 2221.5H1629.3M1624.7 2215.3L1629.3 2221.5L1624.7 2227.7M1652.2 2221.5H1666.2M1661.6 2215.3L1666.2 2221.5L1661.6 2227.7M1689.2 2221.5H1704.2M1699.3 2214.9L1704.2 2221.5L1699.3 2228.1M1726.2 2221.5H1741.2M1736.2 2214.9L1741.2 2221.5L1736.2 2228.1M1763.2 2221.5H1775.2M1771.2 2216.2L1775.2 2221.5L1771.2 2226.8M1800.2 2221.5H1808.2M1805.5 2218.0L1808.2 2221.5L1805.5 2225.0M1837.1 2221.5H1841.1M1839.8 2219.7L1841.1 2221.5L1839.8 2223.3M1874.1 2221.5H1877.1M1876.1 2220.2L1877.1 2221.5L1876.1 2222.8M1911.1 2221.5H1912.1M1911.1 2220.3L1912.1 2221.5L1911.1 2222.7M1948.1 2221.5H1950.1M1949.1 2220.3L1950.1 2221.5L1949.1 2222.7M1985.0 2221.5H1987.0M1986.0 2220.3L1987.0 2221.5L1986.0 2222.7M2022.0 2221.5H2025.0M2024.0 2220.2L2025.0 2221.5L2024.0 2222.8M2059.0 2221.5H2062.0M2061.0 2220.2L2062.0 2221.5L2061.0 2222.8"/>
<rect x="1902.5" y="1210.0" width="180.0" height="84" fill="#fff"/>
<path fill="none" stroke="#000" stroke-width="3.4" d="M1943.3 1237.6H2023.7M2014.2 1227.1L2023.7 1237.6L2014.2 1248.1"/>
<text x="1910.0" y="1283.5" font-size="30.5" fill="#000">0.04 N m</text>
<text x="2041.5" y="1267" font-size="25" fill="#000">-2</text>
<line x1="1430.4" y1="1210" x2="1430.4" y2="2221.5" stroke="#808080" stroke-width="2.2" stroke-opacity="0.4"/>
<line x1="1578.3" y1="1210" x2="1578.3" y2="2221.5" stroke="#808080" stroke-width="2.2" stroke-opacity="0.4"/>
<line x1="1726.2" y1="1210" x2="1726.2" y2="2221.5" stroke="#808080" stroke-width="2.2" stroke-opacity="0.4"/>
<line x1="1874.1" y1="1210" x2="1874.1" y2="2221.5" stroke="#808080" stroke-width="2.2" stroke-opacity="0.4"/>
<line x1="2022" y1="1210" x2="2022" y2="2221.5" stroke="#808080" stroke-width="2.2" stroke-opacity="0.4"/>
<line x1="1282.5" y1="2137.2" x2="2071.3" y2="2137.2" stroke="#808080" stroke-width="2.2" stroke-opacity="0.4"/>
<line x1="1282.5" y1="2052.9" x2="2071.3" y2="2052.9" stroke="#808080" stroke-width="2.2" stroke-opacity="0.4"/>
<line x1="1282.5" y1="1968.6" x2="2071.3" y2="1968.6" stroke="#808080" stroke-width="2.2" stroke-opacity="0.4"/>
<line x1="1282.5" y1="1884.3" x2="2071.3" y2="1884.3" stroke="#808080" stroke-width="2.2" stroke-opacity="0.4"/>
<line x1="1282.5" y1="1800" x2="2071.3" y2="1800" stroke="#808080" stroke-width="2.2" stroke-opacity="0.4"/>
<line x1="1282.5" y1="1715.8" x2="2071.3" y2="1715.8" stroke="#808080" stroke-width="2.2" stroke-opacity="0.4"/>
<line x1="1282.5" y1="1631.5" x2="2071.3" y2="1631.5" stroke="#808080" stroke-width="2.2" stroke-opacity="0.4"/>
<line x1="1282.5" y1="1547.2" x2="2071.3" y2="1547.2" stroke="#808080" stroke-width="2.2" stroke-opacity="0.4"/>
<line x1="1282.5" y1="1462.9" x2="2071.3" y2="1462.9" stroke="#808080" stroke-width="2.2" stroke-opacity="0.4"/>
<line x1="1282.5" y1="1378.6" x2="2071.3" y2="1378.6" stroke="#808080" stroke-width="2.2" stroke-opacity="0.4"/>
<line x1="1282.5" y1="1294.3" x2="2071.3" y2="1294.3" stroke="#808080" stroke-width="2.2" stroke-opacity="0.4"/>
</g>
<line x1="1282.5" y1="1210" x2="2071.3" y2="1210" stroke="#1a1a1a" stroke-width="3" />
<line x1="1282.5" y1="2221.5" x2="2071.3" y2="2221.5" stroke="#1a1a1a" stroke-width="3" />
<line x1="1282.5" y1="1208.5" x2="1282.5" y2="2223" stroke="#1a1a1a" stroke-width="3" />
<line x1="2071.3" y1="1208.5" x2="2071.3" y2="2223" stroke="#1a1a1a" stroke-width="3" />
<line x1="1270.5" y1="2221.5" x2="1282.5" y2="2221.5" stroke="#1a1a1a" stroke-width="3" />
<line x1="2071.3" y1="2221.5" x2="2083.3" y2="2221.5" stroke="#1a1a1a" stroke-width="3" />
<text x="1259" y="2237.5" font-size="40" text-anchor="end" font-weight="normal" >Jun(0)</text>
<line x1="1270.5" y1="2137.2" x2="1282.5" y2="2137.2" stroke="#1a1a1a" stroke-width="3" />
<line x1="2071.3" y1="2137.2" x2="2083.3" y2="2137.2" stroke="#1a1a1a" stroke-width="3" />
<text x="1259" y="2153.2" font-size="40" text-anchor="end" font-weight="normal" >Sep(0)</text>
<line x1="1270.5" y1="2052.9" x2="1282.5" y2="2052.9" stroke="#1a1a1a" stroke-width="3" />
<line x1="2071.3" y1="2052.9" x2="2083.3" y2="2052.9" stroke="#1a1a1a" stroke-width="3" />
<text x="1259" y="2068.9" font-size="40" text-anchor="end" font-weight="normal" >Dec(0)</text>
<line x1="1270.5" y1="1968.6" x2="1282.5" y2="1968.6" stroke="#1a1a1a" stroke-width="3" />
<line x1="2071.3" y1="1968.6" x2="2083.3" y2="1968.6" stroke="#1a1a1a" stroke-width="3" />
<text x="1259" y="1984.6" font-size="40" text-anchor="end" font-weight="normal" >Mar(1)</text>
<line x1="1270.5" y1="1884.3" x2="1282.5" y2="1884.3" stroke="#1a1a1a" stroke-width="3" />
<line x1="2071.3" y1="1884.3" x2="2083.3" y2="1884.3" stroke="#1a1a1a" stroke-width="3" />
<text x="1259" y="1900.3" font-size="40" text-anchor="end" font-weight="normal" >Jun(1)</text>
<line x1="1270.5" y1="1800" x2="1282.5" y2="1800" stroke="#1a1a1a" stroke-width="3" />
<line x1="2071.3" y1="1800" x2="2083.3" y2="1800" stroke="#1a1a1a" stroke-width="3" />
<text x="1259" y="1816" font-size="40" text-anchor="end" font-weight="normal" >Sep(1)</text>
<line x1="1270.5" y1="1715.8" x2="1282.5" y2="1715.8" stroke="#1a1a1a" stroke-width="3" />
<line x1="2071.3" y1="1715.8" x2="2083.3" y2="1715.8" stroke="#1a1a1a" stroke-width="3" />
<text x="1259" y="1731.8" font-size="40" text-anchor="end" font-weight="normal" >Dec(1)</text>
<line x1="1270.5" y1="1631.5" x2="1282.5" y2="1631.5" stroke="#1a1a1a" stroke-width="3" />
<line x1="2071.3" y1="1631.5" x2="2083.3" y2="1631.5" stroke="#1a1a1a" stroke-width="3" />
<text x="1259" y="1647.5" font-size="40" text-anchor="end" font-weight="normal" >Mar(2)</text>
<line x1="1270.5" y1="1547.2" x2="1282.5" y2="1547.2" stroke="#1a1a1a" stroke-width="3" />
<line x1="2071.3" y1="1547.2" x2="2083.3" y2="1547.2" stroke="#1a1a1a" stroke-width="3" />
<text x="1259" y="1563.2" font-size="40" text-anchor="end" font-weight="normal" >Jun(2)</text>
<line x1="1270.5" y1="1462.9" x2="1282.5" y2="1462.9" stroke="#1a1a1a" stroke-width="3" />
<line x1="2071.3" y1="1462.9" x2="2083.3" y2="1462.9" stroke="#1a1a1a" stroke-width="3" />
<text x="1259" y="1478.9" font-size="40" text-anchor="end" font-weight="normal" >Sep(2)</text>
<line x1="1270.5" y1="1378.6" x2="1282.5" y2="1378.6" stroke="#1a1a1a" stroke-width="3" />
<line x1="2071.3" y1="1378.6" x2="2083.3" y2="1378.6" stroke="#1a1a1a" stroke-width="3" />
<text x="1259" y="1394.6" font-size="40" text-anchor="end" font-weight="normal" >Dec(2)</text>
<line x1="1270.5" y1="1294.3" x2="1282.5" y2="1294.3" stroke="#1a1a1a" stroke-width="3" />
<line x1="2071.3" y1="1294.3" x2="2083.3" y2="1294.3" stroke="#1a1a1a" stroke-width="3" />
<text x="1259" y="1310.3" font-size="40" text-anchor="end" font-weight="normal" >Mar(3)</text>
<line x1="1270.5" y1="1210" x2="1282.5" y2="1210" stroke="#1a1a1a" stroke-width="3" />
<line x1="2071.3" y1="1210" x2="2083.3" y2="1210" stroke="#1a1a1a" stroke-width="3" />
<text x="1259" y="1226" font-size="40" text-anchor="end" font-weight="normal" >Jun(3)</text>
<line x1="1282.5" y1="2221.5" x2="1282.5" y2="2233.5" stroke="#1a1a1a" stroke-width="3" />
<line x1="1282.5" y1="1198" x2="1282.5" y2="1210" stroke="#1a1a1a" stroke-width="3" />
<text x="1283.2" y="2286" font-size="40" text-anchor="middle" font-weight="normal" >120°E</text>
<line x1="1430.4" y1="2221.5" x2="1430.4" y2="2233.5" stroke="#1a1a1a" stroke-width="3" />
<line x1="1430.4" y1="1198" x2="1430.4" y2="1210" stroke="#1a1a1a" stroke-width="3" />
<text x="1431.1" y="2286" font-size="40" text-anchor="middle" font-weight="normal" >150°E</text>
<line x1="1578.3" y1="2221.5" x2="1578.3" y2="2233.5" stroke="#1a1a1a" stroke-width="3" />
<line x1="1578.3" y1="1198" x2="1578.3" y2="1210" stroke="#1a1a1a" stroke-width="3" />
<text x="1579" y="2286" font-size="40" text-anchor="middle" font-weight="normal" >180°</text>
<line x1="1726.2" y1="2221.5" x2="1726.2" y2="2233.5" stroke="#1a1a1a" stroke-width="3" />
<line x1="1726.2" y1="1198" x2="1726.2" y2="1210" stroke="#1a1a1a" stroke-width="3" />
<text x="1726.9" y="2286" font-size="40" text-anchor="middle" font-weight="normal" >150°W</text>
<line x1="1874.1" y1="2221.5" x2="1874.1" y2="2233.5" stroke="#1a1a1a" stroke-width="3" />
<line x1="1874.1" y1="1198" x2="1874.1" y2="1210" stroke="#1a1a1a" stroke-width="3" />
<text x="1874.8" y="2286" font-size="40" text-anchor="middle" font-weight="normal" >120°W</text>
<line x1="2022" y1="2221.5" x2="2022" y2="2233.5" stroke="#1a1a1a" stroke-width="3" />
<line x1="2022" y1="1198" x2="2022" y2="1210" stroke="#1a1a1a" stroke-width="3" />
<text x="2022.7" y="2286" font-size="40" text-anchor="middle" font-weight="normal" >90°W</text>
<text x="1677.6" y="1186.2" font-size="45.6" text-anchor="middle" font-weight="bold" fill="#000">Multi-year La Niña</text>
<text transform="translate(1086,1178) scale(1,1.1)" font-size="58" font-weight="bold" fill="#000">c</text>
<rect x="225.0" y="2374.5" width="81.6" height="19.1" fill="#8c1ee6"/>
<rect x="306.0" y="2374.5" width="81.6" height="19.1" fill="#4010f0"/>
<rect x="387.1" y="2374.5" width="81.6" height="19.1" fill="#0a10fa"/>
<rect x="468.1" y="2374.5" width="81.6" height="19.1" fill="#3048e0"/>
<rect x="549.2" y="2374.5" width="81.6" height="19.1" fill="#4060e0"/>
<rect x="630.2" y="2374.5" width="81.6" height="19.1" fill="#2080f0"/>
<rect x="711.3" y="2374.5" width="81.6" height="19.1" fill="#10a0ff"/>
<rect x="792.3" y="2374.5" width="81.6" height="19.1" fill="#00beff"/>
<rect x="873.4" y="2374.5" width="81.6" height="19.1" fill="#50bef0"/>
<rect x="954.4" y="2374.5" width="81.6" height="19.1" fill="#96cdf0"/>
<rect x="1035.5" y="2374.5" width="81.6" height="19.1" fill="#bee1fa"/>
<rect x="1116.5" y="2374.5" width="81.6" height="19.1" fill="#fff5a0"/>
<rect x="1197.5" y="2374.5" width="81.6" height="19.1" fill="#ffe040"/>
<rect x="1278.6" y="2374.5" width="81.6" height="19.1" fill="#ffc820"/>
<rect x="1359.6" y="2374.5" width="81.6" height="19.1" fill="#ffa800"/>
<rect x="1440.7" y="2374.5" width="81.6" height="19.1" fill="#ff7800"/>
<rect x="1521.7" y="2374.5" width="81.6" height="19.1" fill="#ff5000"/>
<rect x="1602.8" y="2374.5" width="81.6" height="19.1" fill="#ff2000"/>
<rect x="1683.8" y="2374.5" width="81.6" height="19.1" fill="#e60000"/>
<rect x="1764.9" y="2374.5" width="81.6" height="19.1" fill="#c80000"/>
<rect x="1845.9" y="2374.5" width="81.6" height="19.1" fill="#dc4040"/>
<rect x="1927.0" y="2374.5" width="81.6" height="19.1" fill="#ffaab0"/>
<line x1="306" y1="2374.5" x2="306" y2="2393.6" stroke="#1a1a1a" stroke-width="2.6" />
<text x="306" y="2443.8" font-size="34" text-anchor="middle" font-weight="normal" >-1.2</text>
<line x1="468.1" y1="2374.5" x2="468.1" y2="2393.6" stroke="#1a1a1a" stroke-width="2.6" />
<text x="468.1" y="2443.8" font-size="34" text-anchor="middle" font-weight="normal" >-0.96</text>
<line x1="630.2" y1="2374.5" x2="630.2" y2="2393.6" stroke="#1a1a1a" stroke-width="2.6" />
<text x="630.2" y="2443.8" font-size="34" text-anchor="middle" font-weight="normal" >-0.72</text>
<line x1="792.3" y1="2374.5" x2="792.3" y2="2393.6" stroke="#1a1a1a" stroke-width="2.6" />
<text x="792.3" y="2443.8" font-size="34" text-anchor="middle" font-weight="normal" >-0.48</text>
<line x1="954.4" y1="2374.5" x2="954.4" y2="2393.6" stroke="#1a1a1a" stroke-width="2.6" />
<text x="954.4" y="2443.8" font-size="34" text-anchor="middle" font-weight="normal" >-0.24</text>
<line x1="1116.5" y1="2374.5" x2="1116.5" y2="2393.6" stroke="#1a1a1a" stroke-width="2.6" />
<text x="1116.5" y="2443.8" font-size="34" text-anchor="middle" font-weight="normal" >0</text>
<line x1="1278.6" y1="2374.5" x2="1278.6" y2="2393.6" stroke="#1a1a1a" stroke-width="2.6" />
<text x="1278.6" y="2443.8" font-size="34" text-anchor="middle" font-weight="normal" >0.24</text>
<line x1="1440.7" y1="2374.5" x2="1440.7" y2="2393.6" stroke="#1a1a1a" stroke-width="2.6" />
<text x="1440.7" y="2443.8" font-size="34" text-anchor="middle" font-weight="normal" >0.48</text>
<line x1="1602.8" y1="2374.5" x2="1602.8" y2="2393.6" stroke="#1a1a1a" stroke-width="2.6" />
<text x="1602.8" y="2443.8" font-size="34" text-anchor="middle" font-weight="normal" >0.72</text>
<line x1="1764.9" y1="2374.5" x2="1764.9" y2="2393.6" stroke="#1a1a1a" stroke-width="2.6" />
<text x="1764.9" y="2443.8" font-size="34" text-anchor="middle" font-weight="normal" >0.96</text>
<line x1="1927" y1="2374.5" x2="1927" y2="2393.6" stroke="#1a1a1a" stroke-width="2.6" />
<text x="1927" y="2443.8" font-size="34" text-anchor="middle" font-weight="normal" >1.2</text>
<rect x="225.0" y="2374.5" width="1783.0" height="19.1" fill="none" stroke="#1a1a1a" stroke-width="2.6"/>
<text x="971" y="2353.9" font-size="36.5" fill="#000">SST anomaly (<tspan dy="-14" font-size="25">o</tspan><tspan dy="14">C)</tspan></text></svg></body></html>
